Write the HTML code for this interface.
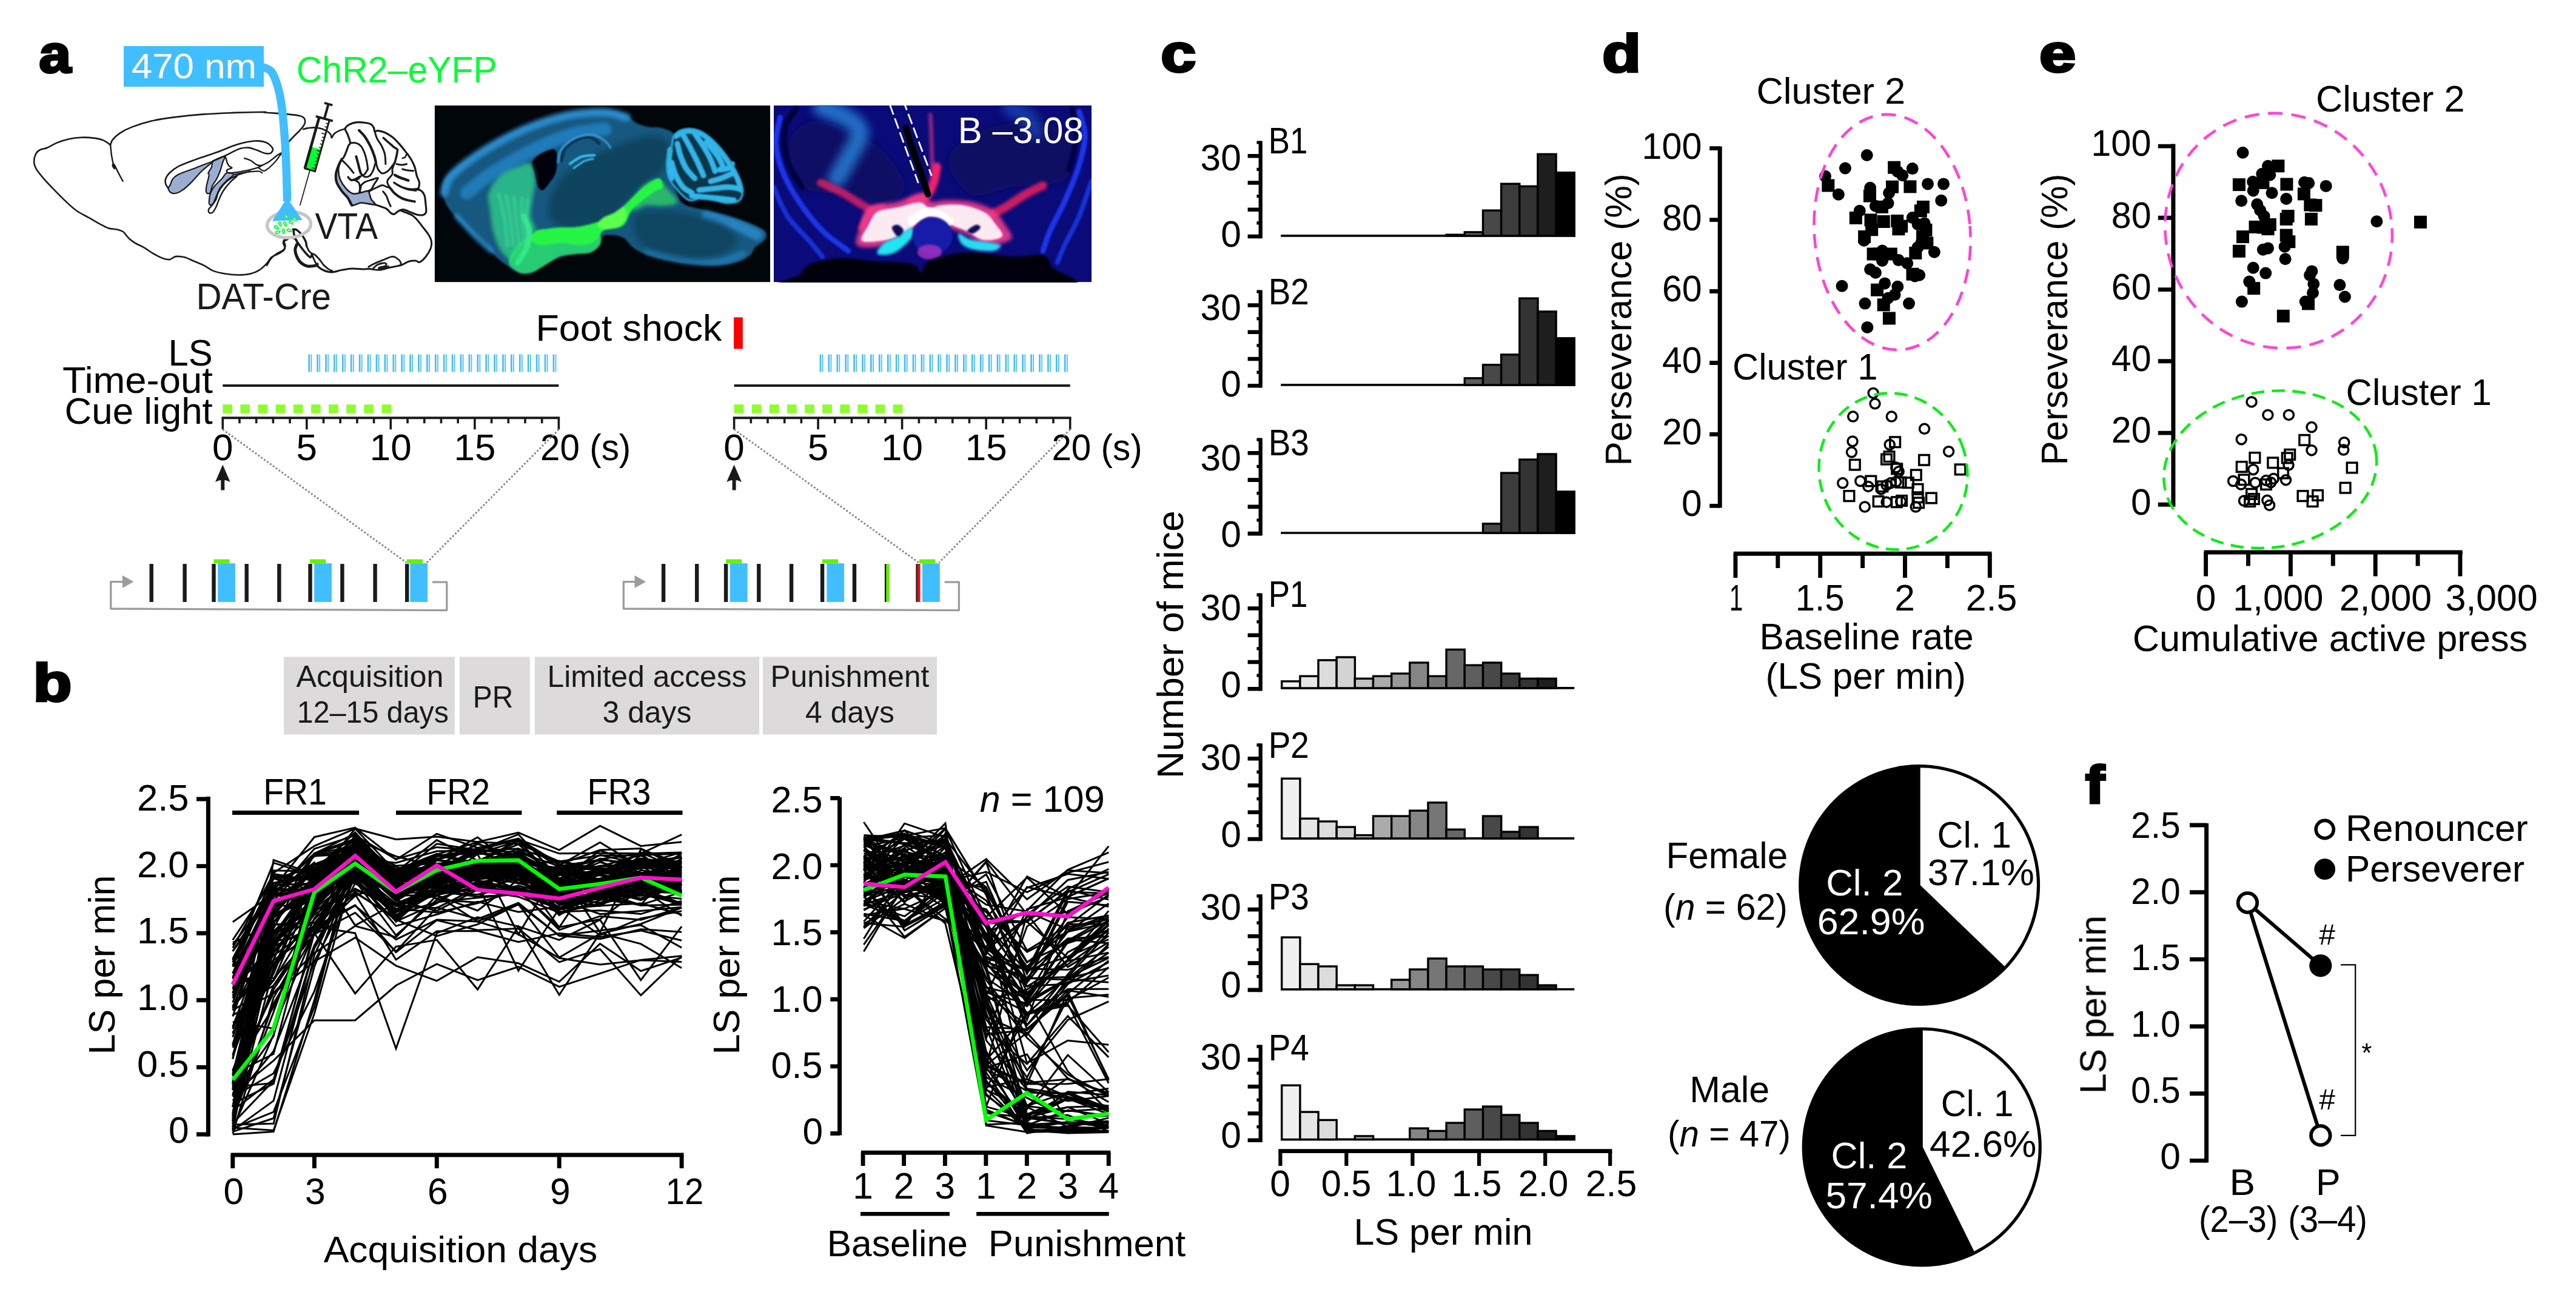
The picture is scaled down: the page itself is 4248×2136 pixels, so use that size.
<!DOCTYPE html>
<html lang="en"><head><meta charset="utf-8"><title>Figure</title>
<style>
html,body{margin:0;padding:0;background:#fff;}
body{width:4248px;height:2136px;overflow:hidden;}
svg{display:block;font-family:"Liberation Sans",sans-serif;fill:#000;}
</style></head><body>
<svg width="4248" height="2136" viewBox="0 0 4248 2136">
<g id="pa">
<text x="64.6" y="118.5" font-size="87" font-weight="bold" textLength="52.6" lengthAdjust="spacingAndGlyphs" stroke="#000" stroke-width="4" stroke-linejoin="miter">a</text>
<path d="M182.1 239.1C180.2 237.8 175.3 233.5 170.9 231.6C166.6 229.8 162.3 228.8 156.1 227.9C149.9 227.1 140.9 226.5 133.9 226.7C126.9 226.9 120.7 227.7 114.1 229.2C107.5 230.6 100.5 232.9 94.4 235.4C88.2 237.8 81.6 242.1 77.1 244C72.5 245.9 70.1 245 67.2 246.5C64.3 247.9 61.6 249.4 59.8 252.6C57.9 255.9 56.1 261.9 56.1 266.2C56.1 270.6 57.1 273.9 59.8 278.6C62.4 283.3 67.2 288.9 72.1 294.6C77.1 300.4 83.2 306.8 89.4 313.2C95.6 319.6 103 327.2 109.2 332.9C115.4 338.7 120.3 343.4 126.5 347.8C132.6 352.1 140.1 355.4 146.2 358.9C152.4 362.4 158.2 365.9 163.5 368.8C168.9 371.6 173.4 374.5 178.4 376.2C183.3 377.8 189.1 377.6 193.2 378.6C197.3 379.7 199.8 379.9 203.1 382.3C206.3 384.8 209.6 390.4 212.9 393.5C216.2 396.6 218.7 398.4 222.8 400.9C226.9 403.3 232.7 405.4 237.6 408.3C242.6 411.2 247.5 415.3 252.5 418.2C257.4 421.1 262.8 423.9 267.3 425.6C271.8 427.2 275.9 428.5 279.6 428.1C283.3 427.6 285.4 423.7 289.5 423.1C293.6 422.5 299.4 423.1 304.3 424.3C309.3 425.6 313.8 428.3 319.2 430.5C324.5 432.8 331.1 435.3 336.5 437.9C341.8 440.6 345.5 444.3 351.3 446.6C357.1 448.8 364.1 450.4 371.1 451.5C378.1 452.7 386.3 453.5 393.3 453.5C400.3 453.5 407.3 452.9 413.1 451.5C418.8 450.2 423.3 448.2 427.9 445.3C432.4 442.5 436.9 437.7 440.2 434.2C443.5 430.7 444.3 427 447.6 424.3C450.9 421.7 456.5 420.2 460 418.2C463.5 416.1 466.9 414.3 468.6 412C470.4 409.7 470.4 406.8 470.4 404.6C470.4 402.3 467.9 400.1 468.6 398.4C469.4 396.8 473.8 395.3 474.8 394.7" fill="none" stroke="#1A1A1A" stroke-width="2.6" stroke-linecap="round" stroke-linejoin="round" />
<path d="M440 437.9C441.1 436.1 444.1 429.9 446.8 426.7C449.4 423.5 452.6 421.1 455.8 418.8C459 416.6 463.5 414.9 465.9 413.2C468.2 411.5 469.6 410.7 469.8 408.7C470 406.6 467.1 403 467 400.8C466.9 398.5 467.6 396.6 469.3 395.2C471 393.8 474.5 392.6 477.1 392.3C479.8 392.1 483 392.8 485 393.5C487.1 394.1 488.8 395.8 489.5 396.3" fill="none" stroke="#1A1A1A" stroke-width="2.6" stroke-linecap="round" stroke-linejoin="round" />
<path d="M182.1 239.1C182.7 237.6 183.1 233.7 185.8 230.4C188.4 227.1 192.8 222.8 198.1 219.3C203.5 215.8 209.2 212.7 217.9 209.4C226.5 206.1 238.5 202.2 250 199.5C261.5 196.9 272.6 195.2 287.1 193.4C301.5 191.5 320 189.6 336.5 188.4C352.9 187.2 369.4 186.6 385.9 185.9C402.3 185.3 426.8 184.8 435.3 184.7C443.8 184.6 430.6 184.8 437.1 185.5C443.5 186.1 464.7 187.5 474.1 188.4C483.6 189.3 489.4 189.9 493.9 190.9C498.4 191.9 499.8 192.7 501.3 194.6C502.8 196.4 503.2 199.7 503 202C502.8 204.3 501.6 205.9 500.1 208.2C498.6 210.4 496.6 212.7 493.9 215.6C491.2 218.5 487.3 222 484 225.5C480.7 229 477.6 231.7 474.1 236.6C470.6 241.5 464.9 252 463 255.1" fill="none" stroke="#1A1A1A" stroke-width="2.6" stroke-linecap="round" stroke-linejoin="round" />
<path d="M182.1 239.1C182.4 241.9 183.3 251.4 184 256.4C184.7 261.3 186 265.8 186.3 268.7C186.5 271.6 185.3 272.1 185.8 273.6C186.2 275.2 188.6 278.5 189 278.1C189.4 277.7 187.3 270.3 188.2 271.2C189.1 272.1 192 278.9 194.4 283.5C196.8 288.1 201.2 296.3 202.6 298.8" fill="none" stroke="#1A1A1A" stroke-width="2.4" stroke-linecap="round" stroke-linejoin="round" />
<path d="M348.9 267.2C347.3 266.3 331.6 273.6 322.5 277C313.5 280.3 301 284.4 294.7 287.4C288.5 290.4 287.3 292.1 285 295C282.7 297.9 282.1 302.1 280.8 304.8C279.6 307.4 277.1 308.8 277.4 311C277.6 313.2 280 316.7 282.2 318C284.4 319.2 287.3 319.5 290.6 318.7C293.8 317.9 297.5 316.1 301.7 313.1C305.9 310.1 310.5 305.7 315.6 300.6C320.7 295.5 326.7 288.1 332.3 282.5C337.8 277 350.6 268.2 348.9 267.2Z" fill="#9BAED1" stroke="#1A1A1A" stroke-width="2.2" stroke-linecap="round" stroke-linejoin="round" />
<path d="M351.7 265.9C355.2 263 367.2 257.8 369.8 258.2C372.3 258.7 368.2 264.6 367 268.6C365.8 272.7 364.5 278.1 362.8 282.5C361.2 286.9 359.4 291.1 357.3 295C355.2 299 352.1 302.5 350.3 306.2C348.6 309.9 348 315.1 346.9 317.3C345.7 319.5 344.5 319.6 343.4 319.4C342.2 319.1 340.4 318.1 339.9 315.9C339.4 313.7 340 309.6 340.6 306.2C341.2 302.7 342.7 298.1 343.4 295C344.1 292 344.8 289.7 344.8 288.1C344.8 286.5 342.7 287.4 343.4 285.3C344.1 283.2 347.5 278.8 348.9 275.6C350.3 272.3 348.2 268.8 351.7 265.9Z" fill="#9BAED1" stroke="#1A1A1A" stroke-width="2.2" stroke-linecap="round" stroke-linejoin="round" />
<path d="M374 285.3C377.2 284.2 385.1 286 385.1 288.1C385.1 290.2 377.7 294.1 374 297.8C370.2 301.5 365.8 305.7 362.8 310.3C359.8 315 357.7 321.4 355.9 325.6C354 329.8 353.3 333.3 351.7 335.3C350.1 337.4 347.3 338.8 346.2 338.1C345 337.4 344.5 334.6 344.8 331.2C345 327.7 345.9 321.4 347.5 317.3C349.2 313.1 351.5 309.9 354.5 306.2C357.5 302.5 362.4 298.5 365.6 295C368.9 291.6 370.7 286.5 374 285.3Z" fill="#9BAED1" stroke="#1A1A1A" stroke-width="2.2" stroke-linecap="round" stroke-linejoin="round" />
<path d="M277.4 310.3C276.7 309.2 273.9 305.9 273.2 303.4C272.5 300.8 272.2 298.1 273.2 295C274.2 292 275.9 288.8 279.5 285.3C283 281.8 287.6 277.9 294.7 274.2C301.9 270.5 312.1 266.9 322.5 263.1C333 259.3 345.7 255.4 357.3 251.3C368.9 247.1 381.6 241.2 392 238.1C402.4 234.9 411.9 233 419.8 232.5C427.7 232 434.3 233.2 439.3 235.3C444.2 237.4 448.5 242.1 449.7 245C450.8 247.9 448.4 251.4 446.2 252.7C444 253.9 440.2 253.5 436.5 252.7C432.8 251.8 428.4 249.3 424 247.8C419.6 246.3 414.7 244.1 410.1 243.6C405.5 243.2 400.8 243.7 396.2 245C391.6 246.3 386.7 249.2 382.3 251.3C377.9 253.4 375.1 255.1 369.8 257.5C364.5 260 353.6 264.5 350.3 265.9" fill="none" stroke="#1A1A1A" stroke-width="2.6" stroke-linecap="round" stroke-linejoin="round" />
<path d="M371.2 257.5C371.5 258.4 372.7 261.2 373.3 263.1C373.8 264.9 373.8 266.8 374.6 268.6C375.5 270.5 376.8 272.8 378.1 274.2C379.4 275.6 382.8 276 382.3 277C381.8 277.9 376.7 278.7 375.3 279.8C374 280.8 373.5 282.3 374 283.2C374.4 284.2 375.1 285.2 378.1 285.3C381.1 285.4 386.2 284.9 392 283.9C397.8 283 407.3 281 412.9 279.8C418.4 278.5 422.1 277.4 425.4 276.3C428.6 275.1 429.1 274.5 432.3 272.8C435.6 271.1 440.7 268.6 444.8 265.9C449 263.1 454.2 258.3 457.3 256.1C460.5 253.9 462.5 253.2 463.6 252.7" fill="none" stroke="#1A1A1A" stroke-width="2.4" stroke-linecap="round" stroke-linejoin="round" />
<path d="M403.1 261C404.8 261.6 409.4 262.6 412.9 264.5C416.3 266.3 420.7 270.7 424 272.1C427.2 273.5 430.9 272.7 432.3 272.8" fill="none" stroke="#1A1A1A" stroke-width="2.4" stroke-linecap="round" stroke-linejoin="round" />
<path d="M385.1 288.1C387.4 287.6 394.3 286.1 399 285.3C403.6 284.5 408.2 283.7 412.9 283.2C417.5 282.8 423.5 282.2 426.8 282.5C430 282.9 431.4 284.9 432.3 285.3" fill="none" stroke="#1A1A1A" stroke-width="2.2" stroke-linecap="round" stroke-linejoin="round" />
<path d="M426.8 277C428.1 277.8 432.3 281.8 435.1 281.8C437.9 281.8 440.2 279.6 443.4 277C446.7 274.3 451.2 269.8 454.6 265.9C457.9 261.9 462.1 255.4 463.6 253.4" fill="none" stroke="#1A1A1A" stroke-width="2.2" stroke-linecap="round" stroke-linejoin="round" />
<path d="M412.9 282.5C409.6 283.5 399 286 393.4 288.1C387.8 290.2 383.7 292.3 379.5 295C375.3 297.8 371.6 301.1 368.4 304.8C365.2 308.5 362.1 313.1 360.1 317.3C358 321.4 357.7 326.1 355.9 329.8C354 333.5 350.9 337 348.9 339.5C347 342.1 344.8 343.2 344.1 345.1C343.4 346.9 343.7 349.7 344.8 350.6C345.8 351.6 348.5 352 350.3 350.6C352.2 349.2 354 346 355.9 342.3C357.7 338.6 359.4 333 361.4 328.4C363.5 323.8 365.4 319.1 368.4 314.5C371.4 309.9 375.8 304.5 379.5 300.6C383.2 296.7 388.8 292.5 390.6 290.9" fill="none" stroke="#1A1A1A" stroke-width="2.4" stroke-linecap="round" stroke-linejoin="round" />
<path d="M500.1 213.1C501.5 212.8 504.8 211.6 508.7 211.1C512.6 210.7 518.6 209.9 523.5 210.7C528.5 211.4 534.8 213.7 538.4 215.6C542 217.4 543.9 219.8 545.3 221.8C546.7 223.7 546 227.4 547 227.2C548 227 549.2 222.5 551.2 220.5C553.3 218.6 556.4 216.9 559.4 215.6C562.4 214.3 567.6 213.1 569.3 212.6" fill="none" stroke="#1A1A1A" stroke-width="2.6" stroke-linecap="round" stroke-linejoin="round" />
<path d="M563.6 262.3C564.1 261.9 565.2 262 566.4 260.2C567.6 258.3 569.2 254.5 570.6 251.2C572 247.8 573.6 242.7 574.7 240C575.9 237.4 577.8 238.2 577.5 235.2C577.3 232.2 574.7 225.8 573.4 222C572 218.1 568.7 215 569.2 212.2C569.7 209.5 573.1 207 576.1 205.3C579.1 203.6 582.9 202.3 587.3 201.8C591.7 201.4 598.4 201.9 602.5 202.5C606.7 203.1 610 203.9 612.3 205.3C614.6 206.7 615.5 209 616.4 210.8C617.4 212.7 616.7 215.6 617.8 216.4C619 217.2 620.6 215.4 623.4 215.7C626.2 216.1 630.6 216.8 634.5 218.5C638.4 220.2 642.8 222.8 647 226.1C651.2 229.5 655.6 234.2 659.5 238.6C663.5 243 667.6 248.6 670.6 252.5C673.7 256.5 675.5 258.8 677.6 262.3C679.7 265.7 681.9 270.4 683.2 273.4C684.4 276.4 684.5 277.6 685.2 280.3C685.9 283.1 686.3 286.6 687.3 290.1C688.4 293.5 691 297.7 691.5 301.2C692 304.7 690.3 309.3 690.1 310.9" fill="none" stroke="#1A1A1A" stroke-width="3.2" stroke-linecap="round" stroke-linejoin="round" />
<path d="M679 312.3C681.3 312.5 689.4 312.1 692.9 313.7C696.4 315.3 698.3 318.3 699.8 322C701.3 325.7 701.5 331.3 701.9 335.9C702.4 340.6 703.4 346.7 702.6 349.8C701.8 353 699.6 354 697.1 354.7C694.5 355.4 690.8 354.8 687.3 354C683.8 353.2 679.9 351.2 676.2 349.8C672.5 348.4 668.3 345.9 665.1 345.7C661.8 345.4 659.3 347.2 656.7 348.4C654.2 349.7 651.9 352.8 649.8 353.3C647.7 353.8 646.3 352.7 644.2 351.2C642.2 349.7 640.3 346.1 637.3 344.3C634.3 342.4 629.4 341.3 626.2 340.1C622.9 338.9 619.2 337.8 617.8 337.3" fill="none" stroke="#1A1A1A" stroke-width="3.2" stroke-linecap="round" stroke-linejoin="round" />
<path d="M560.8 267.8C560.8 269 558.1 275.7 558.1 280.3C558.1 285 558.8 290.5 560.8 295.6C562.9 300.7 567.1 307 570.6 310.9C574.1 314.9 577.8 318.1 581.7 319.3C585.6 320.4 590 318.6 594.2 317.9C598.4 317.2 604.2 314.6 606.7 315.1C609.3 315.6 608.6 318.3 609.5 320.6C610.4 323 610.9 326.2 612.3 329C613.7 331.8 620.6 336.4 617.8 337.3C615.1 338.3 601.8 334.3 595.6 334.5C589.3 334.8 584 340.1 580.3 338.7C576.6 337.3 576.1 330.1 573.4 326.2C570.6 322.3 566.6 319.3 563.6 315.1C560.6 310.9 556.9 305.8 555.3 301.2C553.7 296.6 553.4 291.9 553.9 287.3C554.4 282.7 556.9 276.6 558.1 273.4C559.2 270.1 560.8 266.7 560.8 267.8Z" fill="#9BAED1" stroke="#1A1A1A" stroke-width="2.6" stroke-linecap="round" stroke-linejoin="round" />
<path d="M563.6 262.3C562.7 264.1 559.7 269.2 558.1 273.4C556.4 277.6 554.4 282.7 553.9 287.3C553.4 291.9 553.7 296.6 555.3 301.2C556.9 305.8 560.6 310.9 563.6 315.1C566.6 319.3 570.6 322.3 573.4 326.2C576.1 330.1 579.1 336.6 580.3 338.7" fill="none" stroke="#1A1A1A" stroke-width="4" stroke-linecap="round" stroke-linejoin="round" />
<path d="M592.1 215C593.6 216.6 598 220.3 601.2 224.7C604.3 229.1 608.2 236.1 610.9 241.4C613.5 246.8 615.6 252.3 617.1 256.7C618.6 261.1 619.5 266 619.9 267.8" fill="none" stroke="#1A1A1A" stroke-width="4.2" stroke-linecap="round" stroke-linejoin="round" />
<path d="M632.4 227.5C633.7 228.7 637.2 231.9 640.1 234.5C643 237 647.3 240.7 649.8 242.8C652.3 244.9 654.8 244.2 655.4 247C655.9 249.8 654 256 653.3 259.5C652.6 263 651.5 266.4 651.2 267.8" fill="none" stroke="#1A1A1A" stroke-width="3.6" stroke-linecap="round" stroke-linejoin="round" />
<path d="M587.3 258.1C587.7 259.7 589.1 264.4 590 267.8C591 271.3 592 275.9 592.8 279C593.6 282 594.6 284.7 594.9 285.9" fill="none" stroke="#1A1A1A" stroke-width="4" stroke-linecap="round" stroke-linejoin="round" />
<path d="M565 265.1C566.4 266.4 570.8 270.6 573.4 273.4C575.9 276.2 578.7 279.8 580.3 281.7C581.9 283.7 582.6 284.6 583.1 285.2" fill="none" stroke="#1A1A1A" stroke-width="3" stroke-linecap="round" stroke-linejoin="round" />
<path d="M574.1 292.2C574.9 293 576.9 296.4 578.9 297C580.9 297.6 583.5 296.6 585.9 295.6C588.2 294.7 591.7 292.2 592.8 291.5" fill="none" stroke="#1A1A1A" stroke-width="3.6" stroke-linecap="round" stroke-linejoin="round" />
<path d="M651.2 288.7C652.6 289.4 656.5 291.6 659.5 292.8C662.5 294.1 666.9 295.5 669.3 296.3C671.6 297.1 672.7 297.5 673.4 297.7" fill="none" stroke="#1A1A1A" stroke-width="4.4" stroke-linecap="round" stroke-linejoin="round" />
<path d="M649.8 301.2C651.2 302.1 654.4 304.9 658.1 306.7C661.8 308.6 667.4 311 672 312.3C676.7 313.6 683.6 314 685.9 314.4" fill="none" stroke="#1A1A1A" stroke-width="3" stroke-linecap="round" stroke-linejoin="round" />
<path d="M631.7 315.8C632.7 317.1 635.7 320.3 637.3 323.4C638.9 326.6 640.3 331.8 641.5 334.5C642.6 337.3 643.8 339.2 644.2 340.1" fill="none" stroke="#1A1A1A" stroke-width="3" stroke-linecap="round" stroke-linejoin="round" />
<path d="M642.8 309.5C644.2 311.1 647.9 316.4 651.2 319.3C654.4 322.2 658.6 325 662.3 326.9C666 328.8 669.8 329.4 673.4 330.4C677 331.3 682.1 332.1 683.8 332.5" fill="none" stroke="#1A1A1A" stroke-width="4" stroke-linecap="round" stroke-linejoin="round" />
<path d="M663.7 279C665.1 279.3 669 280.6 672 281C675 281.5 680.1 281.6 681.8 281.7" fill="none" stroke="#1A1A1A" stroke-width="3" stroke-linecap="round" stroke-linejoin="round" />
<path d="M654 270.6C655.4 270.8 659.5 272 662.3 272C665.1 272 669.3 270.8 670.6 270.6" fill="none" stroke="#1A1A1A" stroke-width="3" stroke-linecap="round" stroke-linejoin="round" />
<path d="M663.7 260.9C664.4 260.7 666.8 260.4 667.9 259.5C668.9 258.6 669.6 256 670 255.3" fill="none" stroke="#1A1A1A" stroke-width="2.6" stroke-linecap="round" stroke-linejoin="round" />
<path d="M577.5 235.9C579.1 235.9 584.2 234.9 587.3 235.9C590.3 236.8 593.3 238.6 595.6 241.4C597.9 244.2 599.6 248.6 601.2 252.5C602.7 256.5 603.7 260.7 604.6 265.1C605.6 269.5 606.4 276.6 606.7 279" fill="none" stroke="#1A1A1A" stroke-width="3" stroke-linecap="round" stroke-linejoin="round" />
<path d="M606.7 279C605.8 280.3 603 285.4 601.2 287.3C599.3 289.1 597.4 288.7 595.6 290.1C593.7 291.5 591.9 294.5 590 295.6C588.2 296.8 585.4 296.8 584.5 297" fill="none" stroke="#1A1A1A" stroke-width="3" stroke-linecap="round" stroke-linejoin="round" />
<path d="M592.8 317.2C592.9 315.9 593.7 312.2 593.5 309.5C593.3 306.9 592.9 303.3 591.4 301.2C589.9 299.1 585.6 297.7 584.5 297" fill="none" stroke="#1A1A1A" stroke-width="3" stroke-linecap="round" stroke-linejoin="round" />
<path d="M594.9 285.9C595.9 286.8 598.7 290.8 601.2 291.5C603.6 292.2 607.2 291.7 609.5 290.1C611.8 288.4 613.5 285 615.1 281.7C616.6 278.5 617.9 272.5 618.5 270.6" fill="none" stroke="#1A1A1A" stroke-width="3" stroke-linecap="round" stroke-linejoin="round" />
<path d="M619.9 267.8C620.5 269.7 621.7 275.9 623.4 279C625.1 282 627.6 285.4 630.3 285.9C633.1 286.4 637.3 283.8 640.1 281.7C642.8 279.6 645.2 275.7 647 273.4C648.9 271.1 650.5 268.8 651.2 267.8" fill="none" stroke="#1A1A1A" stroke-width="3" stroke-linecap="round" stroke-linejoin="round" />
<path d="M617.8 216.4C618.5 218.5 620.1 225 622 228.9C623.9 232.9 626.9 235.9 629 240C631 244.2 633.4 248.8 634.5 253.9C635.7 259 635.7 267.8 635.9 270.6" fill="none" stroke="#1A1A1A" stroke-width="3" stroke-linecap="round" stroke-linejoin="round" />
<path d="M595.6 305.4C596.8 304.4 599.5 301.3 602.5 299.8C605.6 298.3 610.2 297.4 613.7 296.3C617.1 295.3 622.7 292.5 623.4 293.5C624.1 294.6 619.7 299.5 617.8 302.6C616 305.7 614.1 310.2 612.3 312.3C610.4 314.4 607.6 314.6 606.7 315.1" fill="none" stroke="#1A1A1A" stroke-width="3" stroke-linecap="round" stroke-linejoin="round" />
<path d="M595.6 305.4C595.4 306.5 594.6 310.3 594.2 312.3C593.9 314.3 593.6 316.4 593.5 317.2" fill="none" stroke="#1A1A1A" stroke-width="3" stroke-linecap="round" stroke-linejoin="round" />
<path d="M651.2 267.8C650.5 269.7 647.7 275.7 647 279C646.3 282.2 648.2 284.5 647 287.3C645.9 290.1 641.5 293.3 640.1 295.6C638.7 297.9 638.2 298.9 638.7 301.2C639.1 303.5 642.2 308.1 642.8 309.5" fill="none" stroke="#1A1A1A" stroke-width="3" stroke-linecap="round" stroke-linejoin="round" />
<path d="M609.5 315.1C611.3 314.2 617.1 311.1 620.6 309.5C624.1 307.9 627.6 305.6 630.3 305.4C633.1 305.1 635.2 307.4 637.3 308.1C639.4 308.8 641.9 309.3 642.8 309.5" fill="none" stroke="#1A1A1A" stroke-width="3" stroke-linecap="round" stroke-linejoin="round" />
<path d="M690.1 310.9C688.3 311.1 683.2 312.5 679 312.3C674.8 312.1 670 311.4 665.1 309.5C660.2 307.7 652.3 302.6 649.8 301.2" fill="none" stroke="#1A1A1A" stroke-width="3" stroke-linecap="round" stroke-linejoin="round" />
<path d="M483.3 378.3C484.4 378.5 487 377.7 489.5 379.4C492.1 381.1 496.1 385.2 498.5 388.4C501 391.6 503 395.6 504.2 398.5C505.3 401.4 505.3 404.6 505.5 405.9" fill="none" stroke="#1A1A1A" stroke-width="3.4" stroke-linecap="round" stroke-linejoin="round" />
<path d="M484.1 378.8C484.3 380.2 484.3 384.4 485 387.3C485.7 390.2 486.5 392.9 488.4 396.3C490.3 399.7 493.5 403.8 496.3 407.5C499.1 411.3 502.7 416 505.3 418.8C507.9 421.6 510.5 424.4 512 424.4C513.6 424.4 514.1 419.7 514.5 418.8" fill="none" stroke="#1A1A1A" stroke-width="3.6" stroke-linecap="round" stroke-linejoin="round" />
<path d="M489.5 403C489.1 404.5 486.7 408.7 486.7 412C486.7 415.4 487.9 419.7 489.5 423.3C491.1 426.9 493.3 430.8 496.3 433.4C499.3 436.1 503.4 438.3 507.5 439.1C511.7 439.8 518.5 438.5 521.1 437.9C523.6 437.4 522.7 436.1 523.1 435.7" fill="none" stroke="#1A1A1A" stroke-width="5" stroke-linecap="round" stroke-linejoin="round" />
<path d="M505.5 405.9C506.2 407.3 508.3 412.2 509.8 414.3C511.3 416.4 512.8 417.3 514.3 418.2C515.8 419.2 516.7 418.3 518.8 419.9C520.9 421.5 524.2 425 526.7 427.8C529.1 430.6 531 434.2 533.4 436.8C535.9 439.4 538.9 441.9 541.3 443.6C543.8 445.3 546.9 446.4 548.1 446.9" fill="none" stroke="#1A1A1A" stroke-width="2.8" stroke-linecap="round" stroke-linejoin="round" />
<path d="M514.5 418.8C515 420.3 516.2 424.6 517.7 427.8C519.1 431 521.2 435.3 523.3 437.9C525.4 440.6 527.1 441.9 530.1 443.6C533.1 445.3 538.3 447.2 541.3 448.1C544.3 448.9 546.9 448.5 548.1 448.6" fill="none" stroke="#1A1A1A" stroke-width="2.8" stroke-linecap="round" stroke-linejoin="round" />
<path d="M523.3 439.1C525 440.2 529.5 444.2 533.4 445.8C537.4 447.5 541.9 449.1 546.9 449C552 448.9 558.2 446.3 563.8 445.3C569.5 444.3 575.1 443.2 580.7 443C586.3 442.8 592.9 444 597.6 444.1C602.3 444.2 604.2 443.4 608.9 443.6C613.6 443.8 620.1 445.6 625.7 445.3C631.4 444.9 637.9 442.3 642.6 441.3C647.3 440.3 650.5 439.8 653.9 439.1C657.3 438.3 659.5 438.1 662.9 436.8C666.3 435.5 670.4 432.3 674.2 431.2C677.9 430.1 682.4 429.9 685.4 430.1C688.4 430.2 689.4 433.4 692.2 432.3C695 431.2 699.3 427.1 702.3 423.3C705.3 419.6 708.6 413.9 710.2 409.8C711.7 405.7 712.1 402.3 711.5 398.5C711 394.8 709.3 391.4 706.8 387.3C704.3 383.2 699.9 377.9 696.7 373.8C693.5 369.6 690.7 365.7 687.7 362.5C684.7 359.3 682.4 356.9 678.7 354.6C674.9 352.4 668.3 350.3 665.1 349C662 347.7 660.5 347.1 659.5 346.8" fill="none" stroke="#1A1A1A" stroke-width="3" stroke-linecap="round" stroke-linejoin="round" />
<path d="M607.7 440.2C609 439.4 611.7 437.6 615.6 435.7C619.6 433.8 626.3 431 631.4 428.9C636.4 426.9 642.3 423.9 646 423.3C649.8 422.7 651.5 424.1 653.9 425.6C656.3 427.1 659.5 430.4 660.6 432.3C661.8 434.2 660.6 436.1 660.6 436.8" fill="none" stroke="#1A1A1A" stroke-width="2.8" stroke-linecap="round" stroke-linejoin="round" />
<path d="M615.6 442.4C616.7 441.5 619.7 438.2 622.4 436.8C625 435.4 628.9 434.3 631.4 434C633.8 433.7 636.4 434.3 637 435.1C637.6 436 636.4 438.1 634.8 439.1C633.1 440 628.6 440.2 626.9 440.8C625.2 441.3 623.9 442.3 624.6 442.4C625.4 442.6 628.8 442.4 631.4 441.9C634 441.3 638.9 439.5 640.4 439.1" fill="none" stroke="#1A1A1A" stroke-width="2.8" stroke-linecap="round" stroke-linejoin="round" />
<ellipse cx="476.5" cy="370.5" rx="36" ry="21.5" fill="none" stroke="#C6C6C6" stroke-width="5.4" transform="rotate(-3 476.5 370.5)"/>
<rect x="204" y="76" width="231" height="67" fill="#41BEFF"/>
<path d="M430 110.6C430.8 110.7 431.8 109.7 434.9 111.2C438 112.7 444.4 113.4 448.5 119.5C452.6 125.6 456.6 137.7 459.4 148C462.2 158.3 463.6 167.6 465.3 181.3C467 195 468.5 213.1 469.7 230.3C470.9 247.5 471.8 267.7 472.4 284.6C473 301.6 473.4 324.1 473.6 332" fill="none" stroke="#41BEFF" stroke-width="13.5"/>
<path d="M473.5 326L498.5 363L449 364.5Z" fill="#41BEFF"/>
<text x="216.8" y="129.2" font-size="58" textLength="206.3" lengthAdjust="spacingAndGlyphs" fill="#fff">470 nm</text>
<path d="M-3.6 0C-3.6 -2.6 1 -2.6 4.2 0.4C1 2.8 -3.6 2.6 -3.6 0Z" fill="#C8FFD0" stroke="#00FF33" stroke-width="1.7" transform="translate(472.6 357.4) rotate(35)"/>
<path d="M-3.6 0C-3.6 -2.6 1 -2.6 4.2 0.4C1 2.8 -3.6 2.6 -3.6 0Z" fill="#C8FFD0" stroke="#00FF33" stroke-width="1.7" transform="translate(486.2 361.4) rotate(20)"/>
<path d="M-3.6 0C-3.6 -2.6 1 -2.6 4.2 0.4C1 2.8 -3.6 2.6 -3.6 0Z" fill="#C8FFD0" stroke="#00FF33" stroke-width="1.7" transform="translate(480 367) rotate(30)"/>
<path d="M-3.6 0C-3.6 -2.6 1 -2.6 4.2 0.4C1 2.8 -3.6 2.6 -3.6 0Z" fill="#C8FFD0" stroke="#00FF33" stroke-width="1.7" transform="translate(462 369.3) rotate(60)"/>
<path d="M-3.6 0C-3.6 -2.6 1 -2.6 4.2 0.4C1 2.8 -3.6 2.6 -3.6 0Z" fill="#C8FFD0" stroke="#00FF33" stroke-width="1.7" transform="translate(470.4 369.3) rotate(60)"/>
<path d="M-3.6 0C-3.6 -2.6 1 -2.6 4.2 0.4C1 2.8 -3.6 2.6 -3.6 0Z" fill="#C8FFD0" stroke="#00FF33" stroke-width="1.7" transform="translate(455.8 374.9) rotate(30)"/>
<path d="M-3.6 0C-3.6 -2.6 1 -2.6 4.2 0.4C1 2.8 -3.6 2.6 -3.6 0Z" fill="#C8FFD0" stroke="#00FF33" stroke-width="1.7" transform="translate(477.1 380) rotate(20)"/>
<path d="M-3.6 0C-3.6 -2.6 1 -2.6 4.2 0.4C1 2.8 -3.6 2.6 -3.6 0Z" fill="#C8FFD0" stroke="#00FF33" stroke-width="1.7" transform="translate(467.6 381.1) rotate(80)"/>
<path d="M-3.6 0C-3.6 -2.6 1 -2.6 4.2 0.4C1 2.8 -3.6 2.6 -3.6 0Z" fill="#C8FFD0" stroke="#00FF33" stroke-width="1.7" transform="translate(458 382.8) rotate(-20)"/>
<g transform="translate(541.6 171.7) rotate(15.68)" stroke="#1A1A1A" fill="none">
<path d="M-7 0H7" stroke-width="3.6"/>
<path d="M0 0V25" stroke-width="4"/>
<rect x="-8" y="75.4" width="16.5" height="37" fill="#00FF33" stroke="none"/>
<path d="M-8.3 25V112.7H8.7V25" stroke-width="3"/>
<path d="M-8.8 25V112.7" stroke-width="4.4"/>
<path d="M-14.5 25H14.5" stroke-width="3.8"/>
<path d="M7.5 31.5h-3.2M7.5 37.4h-3.2M7.5 43.3h-3.2M7.5 49.2h-5.5M7.5 55.1h-3.2M7.5 61h-3.2M7.5 66.9h-3.2M7.5 72.8h-3.2M7.5 78.7h-5.5M7.5 84.6h-3.2M7.5 90.5h-3.2M7.5 96.4h-3.2M7.5 102.3h-3.2M7.5 108.2h-5.5" stroke-width="1.6"/>
<path d="M0 112.7V173.6" stroke-width="1.7"/>
</g>
<text x="488.7" y="135.6" font-size="61.5" textLength="331.3" lengthAdjust="spacingAndGlyphs" fill="#00FF33">ChR2–eYFP</text>
<text x="519.4" y="393.9" font-size="62" textLength="103.7" lengthAdjust="spacingAndGlyphs" fill="#1A1A1A">VTA</text>
<text x="323.5" y="510.3" font-size="62" textLength="222.5" lengthAdjust="spacingAndGlyphs" fill="#1A1A1A">DAT-Cre</text>
<text x="350.8" y="603" font-size="62" text-anchor="end" textLength="73.2" lengthAdjust="spacingAndGlyphs">LS</text>
<text x="350.8" y="648" font-size="62" text-anchor="end" textLength="247.8" lengthAdjust="spacingAndGlyphs">Time-out</text>
<text x="350.8" y="699" font-size="62" text-anchor="end" textLength="244.3" lengthAdjust="spacingAndGlyphs">Cue light</text>
<text x="883.5" y="562" font-size="62" textLength="307" lengthAdjust="spacingAndGlyphs">Foot shock</text>
<rect x="1210.1" y="523.4" width="14.8" height="52" fill="#F00"/>
<path d="M509.7 584.4v29.2M523.6 584.4v29.2M537.5 584.4v29.2M551.4 584.4v29.2M565.3 584.4v29.2M579.2 584.4v29.2M593.1 584.4v29.2M607 584.4v29.2M621 584.4v29.2M634.9 584.4v29.2M648.8 584.4v29.2M662.7 584.4v29.2M676.6 584.4v29.2M690.5 584.4v29.2M704.4 584.4v29.2M718.3 584.4v29.2M732.2 584.4v29.2M746.1 584.4v29.2M760 584.4v29.2M773.9 584.4v29.2M787.8 584.4v29.2M801.7 584.4v29.2M815.6 584.4v29.2M829.5 584.4v29.2M843.4 584.4v29.2M857.3 584.4v29.2M871.2 584.4v29.2M885.1 584.4v29.2M899 584.4v29.2M912.9 584.4v29.2" stroke="#41BEFF" stroke-width="2.7" fill="none"/>
<path d="M513.3 584.4v29.2M527.2 584.4v29.2M541.1 584.4v29.2M555 584.4v29.2M568.9 584.4v29.2M582.8 584.4v29.2M596.7 584.4v29.2M610.6 584.4v29.2M624.6 584.4v29.2M638.5 584.4v29.2M652.4 584.4v29.2M666.3 584.4v29.2M680.2 584.4v29.2M694.1 584.4v29.2M708 584.4v29.2M721.9 584.4v29.2M735.8 584.4v29.2M749.7 584.4v29.2M763.6 584.4v29.2M777.5 584.4v29.2M791.4 584.4v29.2M805.3 584.4v29.2M819.2 584.4v29.2M833.1 584.4v29.2M847 584.4v29.2M860.9 584.4v29.2M874.8 584.4v29.2M888.7 584.4v29.2M902.6 584.4v29.2M916.5 584.4v29.2" stroke="#41BEFF" stroke-width="1.7" fill="none"/>
<path d="M367.3 635.9L921.4 635.9" stroke-width="4" fill="none" stroke="#1A1A1A"/>
<rect x="367.3" y="667.2" width="15.7" height="14.4" fill="#8CFF2B"/>
<rect x="396.4" y="667.2" width="15.7" height="14.4" fill="#8CFF2B"/>
<rect x="425.6" y="667.2" width="15.7" height="14.4" fill="#8CFF2B"/>
<rect x="454.7" y="667.2" width="15.7" height="14.4" fill="#8CFF2B"/>
<rect x="483.8" y="667.2" width="15.7" height="14.4" fill="#8CFF2B"/>
<rect x="513" y="667.2" width="15.7" height="14.4" fill="#8CFF2B"/>
<rect x="542.1" y="667.2" width="15.7" height="14.4" fill="#8CFF2B"/>
<rect x="571.2" y="667.2" width="15.7" height="14.4" fill="#8CFF2B"/>
<rect x="600.3" y="667.2" width="15.7" height="14.4" fill="#8CFF2B"/>
<rect x="629.5" y="667.2" width="15.7" height="14.4" fill="#8CFF2B"/>
<path d="M365.5 689.2L923.2 689.2" stroke-width="4" fill="none" stroke="#1A1A1A"/>
<path d="M367.3 689.2v19M395 689.2v9M422.7 689.2v9M450.4 689.2v9M478.1 689.2v9M505.8 689.2v19M533.5 689.2v9M561.2 689.2v9M588.9 689.2v9M616.6 689.2v9M644.3 689.2v19M672.1 689.2v9M699.8 689.2v9M727.5 689.2v9M755.2 689.2v9M782.9 689.2v19M810.6 689.2v9M838.3 689.2v9M866 689.2v9M893.7 689.2v9M921.4 689.2v19" stroke="#1A1A1A" stroke-width="3.6" fill="none"/>
<text x="367.3" y="759.2" font-size="62" text-anchor="middle">0</text>
<text x="505.8" y="759.2" font-size="62" text-anchor="middle">5</text>
<text x="644.3" y="759.2" font-size="62" text-anchor="middle">10</text>
<text x="782.9" y="759.2" font-size="62" text-anchor="middle">15</text>
<text x="891.1" y="759.2" font-size="62" textLength="149.2" lengthAdjust="spacingAndGlyphs">20 (s)</text>
<path d="M367.3 808.5V786" stroke="#1A1A1A" stroke-width="6" fill="none"/>
<path d="M367.3 766.5l12.3 28.5q-12.3 -7 -24.6 0z" fill="#1A1A1A"/>
<path d="M367.3 708.4L670.3 928M921.4 708.4L703.8 928" stroke="#8A8A8A" stroke-width="3" stroke-dasharray="3 3" fill="none"/>
<rect x="246.5" y="930.1" width="6.4" height="62.8" fill="#1A1A1A"/>
<rect x="301.4" y="930.1" width="6.4" height="62.8" fill="#1A1A1A"/>
<rect x="349.3" y="930.1" width="6.4" height="62.8" fill="#1A1A1A"/>
<rect x="403.5" y="930.1" width="6.4" height="62.8" fill="#1A1A1A"/>
<rect x="457.2" y="930.1" width="6.4" height="62.8" fill="#1A1A1A"/>
<rect x="508.3" y="930.1" width="6.4" height="62.8" fill="#1A1A1A"/>
<rect x="561.2" y="930.1" width="6.4" height="62.8" fill="#1A1A1A"/>
<rect x="615.4" y="930.1" width="6.4" height="62.8" fill="#1A1A1A"/>
<rect x="668" y="930.1" width="6.4" height="62.8" fill="#1A1A1A"/>
<rect x="359.2" y="929.2" width="28.8" height="63.7" fill="#41BEFF"/>
<rect x="518.2" y="929.2" width="28.8" height="63.7" fill="#41BEFF"/>
<rect x="676.3" y="929.2" width="28.8" height="63.7" fill="#41BEFF"/>
<rect x="352.5" y="922.5" width="26.2" height="6.8" fill="#66F000"/>
<rect x="511.1" y="922.5" width="26.2" height="6.8" fill="#66F000"/>
<rect x="671" y="922.5" width="26.2" height="6.8" fill="#66F000"/>
<path d="M713 960.2H736.8V1006.6L182.7 1004V959.6H206.4" stroke="#9C9C9C" stroke-width="3.3" fill="none" stroke-linejoin="round"/>
<path d="M220.4 959.6l-18.5 -10.5v21z" fill="#9C9C9C"/>
<path d="M1353 584.4v29.2M1366.9 584.4v29.2M1380.8 584.4v29.2M1394.7 584.4v29.2M1408.6 584.4v29.2M1422.5 584.4v29.2M1436.4 584.4v29.2M1450.3 584.4v29.2M1464.3 584.4v29.2M1478.2 584.4v29.2M1492.1 584.4v29.2M1506 584.4v29.2M1519.9 584.4v29.2M1533.8 584.4v29.2M1547.7 584.4v29.2M1561.6 584.4v29.2M1575.5 584.4v29.2M1589.4 584.4v29.2M1603.3 584.4v29.2M1617.2 584.4v29.2M1631.1 584.4v29.2M1645 584.4v29.2M1658.9 584.4v29.2M1672.8 584.4v29.2M1686.7 584.4v29.2M1700.6 584.4v29.2M1714.5 584.4v29.2M1728.4 584.4v29.2M1742.3 584.4v29.2M1756.2 584.4v29.2" stroke="#41BEFF" stroke-width="2.7" fill="none"/>
<path d="M1356.6 584.4v29.2M1370.5 584.4v29.2M1384.4 584.4v29.2M1398.3 584.4v29.2M1412.2 584.4v29.2M1426.1 584.4v29.2M1440 584.4v29.2M1453.9 584.4v29.2M1467.9 584.4v29.2M1481.8 584.4v29.2M1495.7 584.4v29.2M1509.6 584.4v29.2M1523.5 584.4v29.2M1537.4 584.4v29.2M1551.3 584.4v29.2M1565.2 584.4v29.2M1579.1 584.4v29.2M1593 584.4v29.2M1606.9 584.4v29.2M1620.8 584.4v29.2M1634.7 584.4v29.2M1648.6 584.4v29.2M1662.5 584.4v29.2M1676.4 584.4v29.2M1690.3 584.4v29.2M1704.2 584.4v29.2M1718.1 584.4v29.2M1732 584.4v29.2M1745.9 584.4v29.2M1759.8 584.4v29.2" stroke="#41BEFF" stroke-width="1.7" fill="none"/>
<path d="M1210.6 635.9L1764.7 635.9" stroke-width="4" fill="none" stroke="#1A1A1A"/>
<rect x="1210.6" y="667.2" width="15.7" height="14.4" fill="#8CFF2B"/>
<rect x="1239.7" y="667.2" width="15.7" height="14.4" fill="#8CFF2B"/>
<rect x="1268.9" y="667.2" width="15.7" height="14.4" fill="#8CFF2B"/>
<rect x="1298" y="667.2" width="15.7" height="14.4" fill="#8CFF2B"/>
<rect x="1327.1" y="667.2" width="15.7" height="14.4" fill="#8CFF2B"/>
<rect x="1356.2" y="667.2" width="15.7" height="14.4" fill="#8CFF2B"/>
<rect x="1385.4" y="667.2" width="15.7" height="14.4" fill="#8CFF2B"/>
<rect x="1414.5" y="667.2" width="15.7" height="14.4" fill="#8CFF2B"/>
<rect x="1443.6" y="667.2" width="15.7" height="14.4" fill="#8CFF2B"/>
<rect x="1472.8" y="667.2" width="15.7" height="14.4" fill="#8CFF2B"/>
<path d="M1208.8 689.2L1766.5 689.2" stroke-width="4" fill="none" stroke="#1A1A1A"/>
<path d="M1210.6 689.2v19M1238.3 689.2v9M1266 689.2v9M1293.7 689.2v9M1321.4 689.2v9M1349.1 689.2v19M1376.8 689.2v9M1404.5 689.2v9M1432.2 689.2v9M1459.9 689.2v9M1487.6 689.2v19M1515.4 689.2v9M1543.1 689.2v9M1570.8 689.2v9M1598.5 689.2v9M1626.2 689.2v19M1653.9 689.2v9M1681.6 689.2v9M1709.3 689.2v9M1737 689.2v9M1764.7 689.2v19" stroke="#1A1A1A" stroke-width="3.6" fill="none"/>
<text x="1210.6" y="759.2" font-size="62" text-anchor="middle">0</text>
<text x="1349.1" y="759.2" font-size="62" text-anchor="middle">5</text>
<text x="1487.6" y="759.2" font-size="62" text-anchor="middle">10</text>
<text x="1626.2" y="759.2" font-size="62" text-anchor="middle">15</text>
<text x="1734.4" y="759.2" font-size="62" textLength="149.2" lengthAdjust="spacingAndGlyphs">20 (s)</text>
<path d="M1210.6 808.5V786" stroke="#1A1A1A" stroke-width="6" fill="none"/>
<path d="M1210.6 766.5l12.3 28.5q-12.3 -7 -24.6 0z" fill="#1A1A1A"/>
<path d="M1210.6 708.4L1515 928M1764.7 708.4L1548.5 928" stroke="#8A8A8A" stroke-width="3" stroke-dasharray="3 3" fill="none"/>
<rect x="1090.9" y="930.1" width="6.4" height="62.8" fill="#1A1A1A"/>
<rect x="1146" y="930.1" width="6.4" height="62.8" fill="#1A1A1A"/>
<rect x="1193.9" y="930.1" width="6.4" height="62.8" fill="#1A1A1A"/>
<rect x="1248.1" y="930.1" width="6.4" height="62.8" fill="#1A1A1A"/>
<rect x="1301.9" y="930.1" width="6.4" height="62.8" fill="#1A1A1A"/>
<rect x="1352.9" y="930.1" width="6.4" height="62.8" fill="#1A1A1A"/>
<rect x="1405.8" y="930.1" width="6.4" height="62.8" fill="#1A1A1A"/>
<rect x="1458.9" y="930.1" width="3" height="62.8" fill="#1A1A1A"/>
<rect x="1461.4" y="930.1" width="5.6" height="62.8" fill="#66F000"/>
<rect x="1510.4" y="930.1" width="3" height="62.8" fill="#1A1A1A"/>
<rect x="1512.5" y="930.1" width="5" height="62.8" fill="#F00"/>
<rect x="1203.8" y="929.2" width="28.8" height="63.7" fill="#41BEFF"/>
<rect x="1363.3" y="929.2" width="28.8" height="63.7" fill="#41BEFF"/>
<rect x="1521" y="929.2" width="28.8" height="63.7" fill="#41BEFF"/>
<rect x="1197.1" y="922.5" width="26.2" height="6.8" fill="#66F000"/>
<rect x="1356.1" y="922.5" width="26.2" height="6.8" fill="#66F000"/>
<rect x="1516" y="922.5" width="26.2" height="6.8" fill="#66F000"/>
<path d="M1557.7 960.2H1581.4V1006.6L1028.3 1004V959.6H1051" stroke="#9C9C9C" stroke-width="3.3" fill="none" stroke-linejoin="round"/>
<path d="M1065 959.6l-18.5 -10.5v21z" fill="#9C9C9C"/>
</g>
<g id="pa_img">
<defs><filter id="b1" x="-20%" y="-20%" width="140%" height="140%"><feGaussianBlur stdDeviation="0.6"/></filter><filter id="b2" x="-20%" y="-20%" width="140%" height="140%"><feGaussianBlur stdDeviation="1.1"/></filter><filter id="b3" x="-20%" y="-20%" width="140%" height="140%"><feGaussianBlur stdDeviation="1.7"/></filter><filter id="b4" x="-20%" y="-20%" width="140%" height="140%"><feGaussianBlur stdDeviation="2.2"/></filter><filter id="b5" x="-20%" y="-20%" width="140%" height="140%"><feGaussianBlur stdDeviation="2.8"/></filter><filter id="b6" x="-20%" y="-20%" width="140%" height="140%"><feGaussianBlur stdDeviation="3.4"/></filter><filter id="b8" x="-20%" y="-20%" width="140%" height="140%"><feGaussianBlur stdDeviation="4.6"/></filter><filter id="b12" x="-20%" y="-20%" width="140%" height="140%"><feGaussianBlur stdDeviation="7.5"/></filter><clipPath id="cl1"><rect x="716.7" y="173.9" width="553.5" height="291.5"/></clipPath><clipPath id="cl2"><rect x="1276" y="173.9" width="524" height="291.5"/></clipPath></defs><g clip-path="url(#cl1)">
<rect x="716.7" y="173.9" width="553.5" height="291.5" fill="#01060A"/>
<g filter="url(#b3)">
<path d="M729.2 308.6C729.6 301.9 731.5 297.9 736.3 291.9C741.1 285.9 748.3 279.9 757.9 272.7C767.5 265.5 781 256.8 793.8 248.8C806.6 240.8 820.5 232 834.5 224.8C848.4 217.7 862.4 211.3 877.6 205.7C892.7 200.1 909.5 194.9 925.5 191.3C941.4 187.7 959.4 185.3 973.3 184.2C987.3 183 999.3 183 1009.2 184.2C1019.2 185.3 1026.4 188.1 1033.2 191.3C1040 194.5 1044 200.3 1049.9 203.3C1055.9 206.3 1061.9 207.9 1069.1 209.3C1076.3 210.7 1085.8 209.5 1093 211.7C1100.2 213.9 1109.8 216.3 1112.2 222.5C1114.6 228.6 1108.6 238.4 1107.4 248.8C1106.2 259.2 1103.4 272.7 1105 284.7C1106.6 296.7 1113 311.8 1117 320.6C1121 329.4 1121 333 1128.9 337.4C1136.9 341.8 1152.9 343.7 1164.9 346.9C1176.8 350.1 1188.8 352.9 1200.8 356.5C1212.7 360.1 1226.7 364.5 1236.7 368.5C1246.6 372.5 1256.2 376.5 1260.6 380.5C1265 384.4 1264.2 388.8 1263 392.4C1261.8 396 1256.6 399.2 1253.4 402C1250.2 404.8 1246.6 406 1243.9 409.2C1241.1 412.4 1241.9 417.2 1236.7 421.2C1231.5 425.1 1222.7 430.3 1212.7 433.1C1202.8 435.9 1188.8 437.5 1176.8 437.9C1164.9 438.3 1152.9 436.7 1140.9 435.5C1128.9 434.3 1117 433.1 1105 430.7C1093 428.3 1079.1 424.7 1069.1 421.2C1059.1 417.6 1051.9 414 1045.2 409.2C1038.4 404.4 1034.4 396 1028.4 392.4C1022.4 388.8 1015.2 388 1009.2 387.6C1003.3 387.2 996.1 387.2 992.5 390C988.9 392.8 990.9 400 987.7 404.4C984.5 408.8 979.7 414 973.3 416.4C967 418.8 957.4 417.6 949.4 418.8C941.4 420 931.4 422 925.5 423.5C919.5 425.1 919.1 425.5 913.5 428.3C907.9 431.1 897.9 436.7 891.9 440.3C886 443.9 883.2 448.1 877.6 449.9C872 451.7 864.8 452.7 858.4 451.1C852 449.5 846.1 444.9 839.3 440.3C832.5 435.7 824.1 429.5 817.7 423.5C811.3 417.6 807 410.4 801 404.4C795 398.4 788.2 393.6 781.8 387.6C775.4 381.7 768.7 374.5 762.7 368.5C756.7 362.5 750.7 357.7 745.9 351.7C741.1 345.7 736.7 339.8 733.9 332.6C731.1 325.4 728.8 315.4 729.2 308.6Z" fill="#17587F" />
</g>
<g filter="url(#b6)" opacity="0.9">
<path d="M732.7 318.2C734.1 314.2 734.9 302.7 741.1 294.3C747.3 285.9 757.1 277.5 769.8 267.9C782.6 258.4 799.8 246.8 817.7 236.8C835.7 226.8 857.6 215.9 877.6 208.1C897.5 200.3 917.5 193.9 937.4 190.1C957.4 186.3 981.3 184.8 997.3 185.3C1013.2 185.9 1027.2 192.3 1033.2 193.7" fill="none" stroke="#2E8FD0" stroke-width="14" stroke-linecap="round" />
<path d="M769.8 318.2C775.8 313.4 791.8 299.1 805.8 289.5C819.7 279.9 837.7 269.5 853.6 260.8C869.6 252 885.6 243.6 901.5 236.8C917.5 230 933.4 224.1 949.4 220.1C965.4 216.1 989.3 214.1 997.3 212.9" fill="none" stroke="#2480C0" stroke-width="22" stroke-linecap="round" />
<path d="M753.1 356.5C757.9 361.7 772.2 378.1 781.8 387.6C791.4 397.2 805.8 409.6 810.5 414" fill="none" stroke="#2E8FD0" stroke-width="8" stroke-linecap="round" />
<path d="M1164.9 356.5C1172.8 358.9 1198.8 365.7 1212.7 370.9C1226.7 376.1 1242.7 384.8 1248.6 387.6" fill="none" stroke="#2A88C8" stroke-width="18" stroke-linecap="round" />
<path d="M1069.1 414C1079.1 416.4 1109 425.5 1128.9 428.3C1148.9 431.1 1172.8 432.3 1188.8 430.7C1204.7 429.1 1218.7 420.8 1224.7 418.8" fill="none" stroke="#2078B0" stroke-width="12" stroke-linecap="round" />
</g>
<g filter="url(#b8)" opacity="0.85">
<path d="M913.5 313.4C920.7 299.5 933.4 284.3 949.4 272.7C965.4 261.2 989.3 252 1009.2 244C1029.2 236 1053.5 226 1069.1 224.8C1084.7 223.7 1098.6 227.6 1102.6 236.8C1106.6 246 1100.6 267.9 1093 279.9C1085.5 291.9 1069.1 297.5 1057.1 308.6C1045.2 319.8 1033.2 337 1021.2 346.9C1009.2 356.9 999.3 363.7 985.3 368.5C971.3 373.3 950.6 377.7 937.4 375.7C924.3 373.7 910.3 366.9 906.3 356.5C902.3 346.1 906.3 327.4 913.5 313.4Z" fill="#113F58" />
<path d="M1045.2 356.5C1051.1 347.3 1075.1 346.9 1093 346.9C1111 346.9 1134.9 351.7 1152.9 356.5C1170.8 361.3 1190.8 367.7 1200.8 375.7C1210.7 383.6 1218.7 396 1212.7 404.4C1206.7 412.8 1182.8 423.1 1164.9 425.9C1146.9 428.7 1123 425.1 1105 421.2C1087 417.2 1067.1 412.8 1057.1 402C1047.1 391.2 1039.2 365.7 1045.2 356.5Z" fill="#10435C" />
</g>
<g filter="url(#b2)">
<path d="M877.6 267.9C879.2 262 886 257.2 891.9 253.6C897.9 250 909 245.2 913.5 246.4C918 247.6 918.3 254.4 918.8 260.8C919.2 267.1 918.4 277.9 916.4 284.7C914.3 291.5 909.8 296.7 906.3 301.5C902.8 306.2 898.6 312.2 895.5 313.4C892.4 314.6 889.8 312.6 887.6 308.6C885.4 304.6 884 296.3 882.4 289.5C880.7 282.7 876 273.9 877.6 267.9Z" fill="#020508" />
<path d="M925.5 265.5C926.7 262 927.8 250 932.6 244C937.4 238 947 232.4 954.2 229.6C961.4 226.8 970.1 226 975.7 227.2C981.3 228.4 985.7 235.2 987.7 236.8" fill="none" stroke="#0A3048" stroke-width="5" stroke-linecap="round" />
<path d="M939.8 270.3C943 268.3 952.2 260.8 959 258.4C965.8 256 976.9 256.4 980.5 256" fill="none" stroke="#3CC0F0" stroke-width="4" stroke-linecap="round" />
<path d="M945.8 277.5C948.8 275.5 958.4 268.1 963.8 265.5C969.1 263 975.7 262.6 978.1 262" fill="none" stroke="#3CC0F0" stroke-width="3" stroke-linecap="round" />
<path d="M920.7 267.9C921.5 264.3 920.7 253.2 925.5 246.4C930.2 239.6 940.6 231.2 949.4 227.2C958.2 223.3 970.1 221.7 978.1 222.5C986.1 223.3 992.5 228.4 997.3 232C1002.1 235.6 1005.3 242 1006.8 244" fill="none" stroke="#3A9AD8" stroke-width="3" stroke-linecap="round" />
</g>
<g filter="url(#b6)">
<path d="M805.8 318.2C808.6 308.6 816.9 296.7 824.9 289.5C832.9 282.3 845.3 278.3 853.6 275.1C862 271.9 870.4 266.3 875.2 270.3C880 274.3 882 288.7 882.4 299.1C882.8 309.4 878.8 323 877.6 332.6C876.4 342.2 874.4 348.5 875.2 356.5C876 364.5 884.4 372.5 882.4 380.5C880.4 388.4 869.6 396.4 863.2 404.4C856.8 412.4 850.4 427.1 844.1 428.3C837.7 429.5 830.1 419.6 824.9 411.6C819.7 403.6 815.7 391.2 812.9 380.5C810.1 369.7 809.3 357.3 808.2 346.9C807 336.6 803 327.8 805.8 318.2Z" fill="#34E08E" opacity="0.68"/>
<path d="M1057.1 311C1063.5 302.7 1075.9 296.3 1083.5 296.7C1091 297.1 1097 307.2 1102.6 313.4C1108.2 319.6 1118.6 329.4 1117 333.8C1115.4 338.2 1101.8 339 1093 339.8C1084.3 340.6 1072.3 337.4 1064.3 338.6C1056.3 339.8 1046.3 351.5 1045.2 346.9C1044 342.4 1050.7 319.4 1057.1 311Z" fill="#35E065" opacity="0.7"/>
</g>
<g filter="url(#b3)">
<path d="M822.5 320.6C824.1 327.4 829.7 347.3 832.1 361.3C834.5 375.3 836.1 397.2 836.9 404.4" fill="none" stroke="#46F0A0" stroke-width="7" stroke-linecap="round" opacity="0.3"/>
<path d="M834.5 323C835.7 329.4 839.7 347.7 841.7 361.3C843.7 374.9 845.7 397.2 846.5 404.4" fill="none" stroke="#46F0A0" stroke-width="7" stroke-linecap="round" opacity="0.3"/>
<path d="M847.7 325.4C848.3 331.4 849.8 348.1 851.2 361.3C852.6 374.5 855.2 397.2 856 404.4" fill="none" stroke="#46F0A0" stroke-width="7" stroke-linecap="round" opacity="0.3"/>
<path d="M860.8 327.8C860.8 333.4 860 348.5 860.8 361.3C861.6 374.1 864.8 397.2 865.6 404.4" fill="none" stroke="#46F0A0" stroke-width="7" stroke-linecap="round" opacity="0.3"/>
<path d="M870.4 330.2C870 335.4 867.6 348.9 868 361.3C868.4 373.7 872 397.2 872.8 404.4" fill="none" stroke="#46F0A0" stroke-width="7" stroke-linecap="round" opacity="0.3"/>
<path d="M877.6 390C888.7 389.2 909.5 394 925.5 394.8C941.4 395.6 962.6 395.6 973.3 394.8C984.1 394 987.5 388.4 990.1 390C992.7 391.6 991.7 400 988.9 404.4C986.1 408.8 979.9 414 973.3 416.4C966.8 418.8 957.4 417.8 949.4 418.8C941.4 419.8 931.4 420.8 925.5 422.3C919.5 423.9 918.7 425.3 913.5 428.3C908.3 431.3 900.3 436.9 894.3 440.3C888.3 443.7 883.6 447.1 877.6 448.7C871.6 450.3 864.8 452.1 858.4 449.9C852 447.7 841.7 441.1 839.3 435.5C836.9 429.9 840.9 422.3 844.1 416.4C847.3 410.4 852.8 404 858.4 399.6C864 395.2 866.4 390.8 877.6 390Z" fill="#2BE070" opacity="0.85"/>
<path d="M1087 294.3C1083.1 293.3 1075.3 298.7 1069.1 302.7C1062.9 306.6 1056.3 312.4 1049.9 318.2C1043.6 324 1036.8 332 1030.8 337.4C1024.8 342.8 1019.6 346.5 1014 350.5C1008.4 354.5 1003.3 358.3 997.3 361.3C991.3 364.3 986.1 366.3 978.1 368.5C970.1 370.7 959 373.4 949.4 374.5C939.8 375.6 929.4 374.6 920.7 375.2C911.9 375.8 903.1 377 896.7 378.1C890.3 379.1 886 378.9 882.4 381.7C878.8 384.4 873.6 391 875.2 394.8C876.8 398.6 883.6 403.4 891.9 404.4C900.3 405.4 913.9 400.8 925.5 400.8C937 400.8 951.4 405.4 961.4 404.4C971.3 403.4 979.7 398.8 985.3 394.8C990.9 390.8 989.3 383.6 994.9 380.5C1000.5 377.3 1012.8 377.7 1018.8 375.7C1024.8 373.7 1027.2 372.9 1030.8 368.5C1034.4 364.1 1036 355.3 1040.4 349.3C1044.8 343.3 1051.1 337.8 1057.1 332.6C1063.1 327.4 1070.3 322.2 1076.3 318.2C1082.3 314.2 1091.2 312.6 1093 308.6C1094.8 304.6 1091 295.3 1087 294.3Z" fill="#25F545" />
<path d="M994.9 358.9C999.3 355.7 1006.1 354.5 1011.6 351.7C1017.2 348.9 1024.8 341.4 1028.4 342.2C1032 343 1034.4 351.3 1033.2 356.5C1032 361.7 1027.2 369.7 1021.2 373.3C1015.2 376.9 1003.3 378.5 997.3 378.1C991.3 377.7 985.7 374.1 985.3 370.9C984.9 367.7 990.5 362.1 994.9 358.9Z" fill="#5CFF4A" />
<path d="M863.2 356.5C864.8 360.5 872 371.7 872.8 380.5C873.6 389.2 871.2 400.4 868 409.2C864.8 418 856 429.1 853.6 433.1" fill="none" stroke="#3AF090" stroke-width="9" stroke-linecap="round" opacity="0.8"/>
</g>
<g filter="url(#b2)">
<path d="M1112.2 222.5C1115.8 217.7 1122.2 214.1 1128.9 212.9C1135.7 211.7 1144.9 212.1 1152.9 215.3C1160.9 218.5 1168.8 224.4 1176.8 232C1184.8 239.6 1194 251.2 1200.8 260.8C1207.5 270.3 1213.5 280.7 1217.5 289.5C1221.5 298.3 1224.3 306.6 1224.7 313.4C1225.1 320.2 1223.9 326.6 1219.9 330.2C1215.9 333.8 1207.9 335 1200.8 335C1193.6 335 1184.8 331.4 1176.8 330.2C1168.8 329 1159.7 327.8 1152.9 327.8C1146.1 327.8 1142.1 332.6 1136.1 330.2C1130.1 327.8 1122.6 319.8 1117 313.4C1111.4 307 1105.4 299.9 1102.6 291.9C1099.8 283.9 1099.4 273.9 1100.2 265.5C1101 257.2 1105.4 248.8 1107.4 241.6C1109.4 234.4 1108.6 227.2 1112.2 222.5Z" fill="#0A3547" />
<path d="M1117 236.8C1117.8 240 1119.4 249.2 1121.8 256C1124.2 262.8 1127.3 271.1 1131.3 277.5C1135.3 283.9 1143.3 291.5 1145.7 294.3" fill="none" stroke="#30B6EA" stroke-width="8.5" stroke-linecap="round" />
<path d="M1126.5 222.5C1128.5 226 1134.5 236.4 1138.5 244C1142.5 251.6 1146.9 260.4 1150.5 267.9C1154.1 275.5 1158.5 285.9 1160.1 289.5" fill="none" stroke="#30B6EA" stroke-width="8.5" stroke-linecap="round" />
<path d="M1145.7 220.1C1148.1 223.7 1155.7 234.4 1160.1 241.6C1164.5 248.8 1168.8 256.4 1172 263.2C1175.2 269.9 1178 279.1 1179.2 282.3" fill="none" stroke="#30B6EA" stroke-width="8.5" stroke-linecap="round" />
<path d="M1107.4 267.9C1108.6 271.5 1111.4 282.7 1114.6 289.5C1117.8 296.3 1122.2 303.8 1126.5 308.6C1130.9 313.4 1138.5 316.6 1140.9 318.2" fill="none" stroke="#30B6EA" stroke-width="8.5" stroke-linecap="round" />
<path d="M1164.9 234.4C1168 238.4 1179.2 251.2 1184 258.4C1188.8 265.5 1192 274.3 1193.6 277.5" fill="none" stroke="#30B6EA" stroke-width="8.5" stroke-linecap="round" />
<path d="M1172 299.1C1174.8 298.3 1183.2 296.3 1188.8 294.3C1194.4 292.3 1202.8 288.3 1205.5 287.1" fill="none" stroke="#30B6EA" stroke-width="8.5" stroke-linecap="round" />
<path d="M1152.9 313.4C1156.9 313 1168.8 311.8 1176.8 311C1184.8 310.2 1194 308.6 1200.8 308.6C1207.5 308.6 1214.7 310.6 1217.5 311" fill="none" stroke="#30B6EA" stroke-width="8.5" stroke-linecap="round" />
<path d="M1140.9 323C1144.9 323.4 1156.9 324.6 1164.9 325.4C1172.8 326.2 1181.2 327 1188.8 327.8C1196.4 328.6 1206.7 329.8 1210.3 330.2" fill="none" stroke="#30B6EA" stroke-width="8.5" stroke-linecap="round" />
<path d="M1186.4 279.9C1188.8 279.5 1197.2 279.1 1200.8 277.5C1204.4 275.9 1206.7 271.5 1207.9 270.3" fill="none" stroke="#30B6EA" stroke-width="8.5" stroke-linecap="round" />
<path d="M1114.6 224.8C1117.4 223.5 1125 217.5 1131.3 216.5C1137.7 215.5 1145.7 215.9 1152.9 218.9C1160.1 221.9 1166.8 227 1174.4 234.4C1182 241.8 1191.6 253.6 1198.4 263.2C1205.1 272.7 1211.1 283.5 1215.1 291.9C1219.1 300.3 1221.1 309.8 1222.3 313.4" fill="none" stroke="#30B6EA" stroke-width="8.5" stroke-linecap="round" />
<path d="M1105 246.4C1104.6 250.8 1102.2 264.7 1102.6 272.7C1103 280.7 1106.6 290.7 1107.4 294.3" fill="none" stroke="#30B6EA" stroke-width="8.5" stroke-linecap="round" />
<path d="M1112.2 222.5C1115.8 217.7 1122.2 214.1 1128.9 212.9C1135.7 211.7 1144.9 212.1 1152.9 215.3C1160.9 218.5 1168.8 224.4 1176.8 232C1184.8 239.6 1194 251.2 1200.8 260.8C1207.5 270.3 1213.5 280.7 1217.5 289.5C1221.5 298.3 1224.3 306.6 1224.7 313.4C1225.1 320.2 1223.9 326.6 1219.9 330.2C1215.9 333.8 1207.9 335 1200.8 335C1193.6 335 1184.8 331.4 1176.8 330.2C1168.8 329 1159.7 327.8 1152.9 327.8C1146.1 327.8 1142.1 332.6 1136.1 330.2C1130.1 327.8 1122.6 319.8 1117 313.4C1111.4 307 1105.4 299.9 1102.6 291.9C1099.8 283.9 1099.4 273.9 1100.2 265.5C1101 257.2 1105.4 248.8 1107.4 241.6C1109.4 234.4 1108.6 227.2 1112.2 222.5Z" fill="none" stroke="#2CA8DC" stroke-width="3" stroke-linecap="round" />
</g>
</g><g clip-path="url(#cl2)">
<rect x="1276" y="173.9" width="524" height="291.5" fill="#0A0B78"/>
<g filter="url(#b8)">
<path d="M1300.9 236.8C1302.9 218.9 1320.8 204.9 1336.8 200.9C1352.8 196.9 1376.7 204.9 1396.6 212.9C1416.6 220.8 1440.5 232.8 1456.5 248.8C1472.4 264.7 1492.4 293.8 1492.4 308.6C1492.4 323.4 1474.4 335.3 1456.5 337.3C1438.5 339.3 1406.6 325.4 1384.7 320.6C1362.7 315.8 1338.8 322.6 1324.8 308.6C1310.9 294.6 1298.9 254.8 1300.9 236.8Z" fill="#090A60" opacity="0.8"/>
<path d="M1564.2 260.7C1568.2 242.8 1598.1 222.8 1624 212.9C1650 202.9 1695.8 196.9 1719.8 200.9C1743.7 204.9 1761.6 220.8 1767.6 236.8C1773.6 252.8 1771.6 284.7 1755.7 296.6C1739.7 308.6 1697.8 304.6 1671.9 308.6C1646 312.6 1618 328.6 1600.1 320.6C1582.1 312.6 1560.2 278.7 1564.2 260.7Z" fill="#090A5C" opacity="0.8"/>
</g>
<g filter="url(#b12)">
<path d="M1356 177C1363.1 180.2 1388.7 188.9 1399 196.1C1409.4 203.3 1418.2 209.3 1418.2 220.1C1418.2 230.8 1405.4 248.4 1399 260.7C1392.7 273.1 1383.1 288.7 1379.9 294.2" fill="none" stroke="#2A8EE0" stroke-width="30" stroke-linecap="round" opacity="0.75"/>
<path d="M1667.1 179.4C1671.9 181.8 1689 187.3 1695.8 193.7C1702.6 200.1 1705.8 213.7 1707.8 217.7" fill="none" stroke="#1A55C8" stroke-width="26" stroke-linecap="round" opacity="0.6"/>
</g>
<g filter="url(#b3)">
<path d="M1286.5 193.7C1285.3 200.9 1278.6 221.6 1279.4 236.8C1280.2 252 1284.9 268.7 1291.3 284.7C1297.7 300.6 1306.9 316.6 1317.7 332.5C1328.4 348.5 1342.4 366.9 1356 380.4C1369.5 394 1391.9 408.3 1399 413.9" fill="none" stroke="#1C36E8" stroke-width="9" stroke-linecap="round" />
<path d="M1276 308.6C1279.8 316.6 1288.4 341.3 1298.5 356.5C1308.6 371.6 1327.2 388.4 1336.8 399.6C1346.4 410.7 1352.8 419.5 1356 423.5" fill="none" stroke="#1830D8" stroke-width="8" stroke-linecap="round" />
<path d="M1779.6 184.1C1781.2 190.9 1789.6 208.9 1789.2 224.8C1788.8 240.8 1783.2 261.1 1777.2 279.9C1771.2 298.6 1760.9 320.6 1753.3 337.3C1745.7 354.1 1737.3 367.6 1731.7 380.4C1726.1 393.2 1721.8 408.3 1719.8 413.9" fill="none" stroke="#1C36E8" stroke-width="9" stroke-linecap="round" />
<path d="M1799.9 299C1796.6 308.6 1787 338.9 1779.6 356.5C1772.2 374 1761.6 391.6 1755.7 404.3C1749.7 417.1 1745.7 428.3 1743.7 433.1" fill="none" stroke="#1830D8" stroke-width="8" stroke-linecap="round" />
<path d="M1312.9 179.4C1309.7 184.9 1296.1 198.5 1293.7 212.9C1291.3 227.2 1293.7 249.6 1298.5 265.5C1303.3 281.5 1318.5 301.4 1322.4 308.6" fill="none" stroke="#050540" stroke-width="10" stroke-linecap="round" />
<path d="M1767.6 179.4C1768.8 186.9 1775.6 208.1 1774.8 224.8C1774 241.6 1764.8 270.7 1762.8 279.9" fill="none" stroke="#050540" stroke-width="8" stroke-linecap="round" />
</g>
<g filter="url(#b5)">
<path d="M1353.6 301.4C1359.5 304.2 1378.3 312.2 1389.5 318.2C1400.6 324.2 1410.2 331.3 1420.6 337.3C1430.9 343.3 1446.5 351.3 1451.7 354.1" fill="none" stroke="#D81E64" stroke-width="13" stroke-linecap="round" opacity="0.85"/>
<path d="M1719.8 306.2C1715 308.6 1701.4 314.6 1691 320.6C1680.7 326.6 1667.9 336.1 1657.5 342.1C1647.2 348.1 1633.6 354.1 1628.8 356.5" fill="none" stroke="#E02060" stroke-width="14" stroke-linecap="round" opacity="0.9"/>
<path d="M1534.3 188.9C1534.7 198.9 1536.1 228 1536.7 248.8C1537.3 269.5 1537.7 302.6 1537.9 313.4" fill="none" stroke="#C8308A" stroke-width="6" stroke-linecap="round" opacity="0.8"/>
<path d="M1504.3 332.5C1508.3 330.9 1522.3 328.6 1528.3 323C1534.3 317.4 1537.5 307 1540.3 299C1543 291.1 1544.2 279.1 1545 275.1" fill="none" stroke="#F0206A" stroke-width="14" stroke-linecap="round" />
<path d="M1420.6 375.6C1423.4 370.8 1431.3 352.5 1437.3 346.9C1443.3 341.3 1453.3 342.9 1456.5 342.1" fill="none" stroke="#E83070" stroke-width="10" stroke-linecap="round" />
</g>
<g filter="url(#b6)">
<path d="M1432.5 342.1C1442.9 334.9 1466.1 336.5 1480.4 332.5C1494.8 328.6 1509.5 318.2 1518.7 318.2C1527.9 318.2 1528.7 330.5 1535.5 332.5C1542.2 334.5 1548.6 330.2 1559.4 330.2C1570.2 330.2 1586.9 329.8 1600.1 332.5C1613.3 335.3 1628.8 340.5 1638.4 346.9C1648 353.3 1652.7 362.9 1657.5 370.8C1662.3 378.8 1672.7 389.2 1667.1 394.8C1661.5 400.4 1636 405.5 1624 404.3C1612.1 403.2 1605.3 392.4 1595.3 387.6C1585.3 382.8 1574.2 379.6 1564.2 375.6C1554.2 371.6 1544.6 363.7 1535.5 363.7C1526.3 363.7 1518.3 370.4 1509.1 375.6C1500 380.8 1490.8 389.6 1480.4 394.8C1470 400 1458.1 405.1 1446.9 406.7C1435.7 408.3 1418.2 409.5 1413.4 404.3C1408.6 399.2 1415 386 1418.2 375.6C1421.4 365.3 1422.2 349.3 1432.5 342.1Z" fill="#EE3C8C" opacity="0.9"/>
</g>
<g filter="url(#b3)">
<path d="M1446.9 349.3C1454.9 344.5 1468.8 344.7 1480.4 342.1C1492 339.5 1507.5 333.5 1516.3 333.7C1525.1 333.9 1527.1 342.5 1533.1 343.3C1539.1 344.1 1543 339.3 1552.2 338.5C1561.4 337.7 1576.2 336.5 1588.1 338.5C1600.1 340.5 1615.2 345.5 1624 350.5C1632.8 355.5 1636 361.9 1640.8 368.4C1645.6 375 1655.9 385.4 1652.7 390C1649.6 394.6 1631.2 397.4 1621.6 396C1612.1 394.6 1603.7 385.6 1595.3 381.6C1586.9 377.6 1579.3 376 1571.4 372C1563.4 368 1553.6 360.6 1547.4 357.7C1541.2 354.8 1539.9 353 1534.3 354.6C1528.7 356.2 1520.5 362.7 1513.9 367.2C1507.3 371.8 1502 377.2 1494.8 381.6C1487.6 386 1479.6 390.8 1470.8 393.6C1462.1 396.4 1450.5 398 1442.1 398.4C1433.7 398.8 1422.2 400.6 1420.6 396C1419 391.4 1428.2 378.6 1432.5 370.8C1436.9 363.1 1438.9 354.1 1446.9 349.3Z" fill="#FCEAF3" />
<path d="M1504.3 363.7C1509.1 361.3 1523.1 349.6 1533.1 349.8C1543 350 1559 362.3 1564.2 364.9" fill="none" stroke="#FFFFFF" stroke-width="16" stroke-linecap="round" />
</g>
<g filter="url(#b4)">
<path d="M1446.9 418.7C1444.5 415.9 1450.9 406.7 1456.5 402C1462.1 397.2 1472.8 394.4 1480.4 390C1488 385.6 1497.8 376 1502 375.6C1506.1 375.2 1507.1 382.8 1505.5 387.6C1504 392.4 1498.2 399.2 1492.4 404.3C1486.6 409.5 1478.4 416.3 1470.8 418.7C1463.3 421.1 1449.3 421.5 1446.9 418.7Z" fill="#22E4F2" />
<path d="M1580.9 385.2C1583.3 384 1592.1 392.4 1600.1 394.8C1608.1 397.2 1620.4 398 1628.8 399.6C1637.2 401.2 1648.8 402 1650.4 404.3C1651.9 406.7 1646 412.7 1638.4 413.9C1630.8 415.1 1613.7 413.5 1604.9 411.5C1596.1 409.5 1589.7 406.3 1585.7 402C1581.7 397.6 1578.5 386.4 1580.9 385.2Z" fill="#2ADCF2" />
</g>
<g filter="url(#b3)">
<ellipse cx="1537.9" cy="388.8" rx="33" ry="31" fill="#141CA8"/>
<ellipse cx="1532.9" cy="415.8" rx="20" ry="12" fill="#A030C0" opacity="0.85"/>
<path d="M1470.8 375.6C1470.8 372.4 1477.2 370 1480.4 370.8C1483.6 371.6 1490 377.2 1490 380.4C1490 383.6 1483.6 390.8 1480.4 390C1477.2 389.2 1470.8 378.8 1470.8 375.6Z" fill="#10105A" />
<path d="M1595.3 380.4C1596.1 378 1606.1 371.6 1609.7 370.8C1613.3 370 1617.6 373.2 1616.8 375.6C1616 378 1608.5 384.4 1604.9 385.2C1601.3 386 1594.5 382.8 1595.3 380.4Z" fill="#10105A" />
</g>
<g filter="url(#b3)">
<path d="M1308.1 476.2C1236.7 472.2 1315.3 459 1320.1 452.2C1324.8 445.4 1326 439.9 1336.8 435.5C1347.6 431.1 1367.1 426.7 1384.7 425.9C1402.2 425.1 1422.2 429.1 1442.1 430.7C1462.1 432.3 1491.6 432.3 1504.3 435.5C1517.1 438.7 1514.7 450.2 1518.7 449.8C1522.7 449.4 1522.7 437.5 1528.3 433.1C1533.9 428.7 1540.3 426.3 1552.2 423.5C1564.2 420.7 1580.1 416.3 1600.1 416.3C1620 416.3 1651.9 422.7 1671.9 423.5C1691.8 424.3 1709.4 418.3 1719.8 421.1C1730.1 423.9 1729.3 431.1 1734.1 440.3C1738.9 449.4 1819.5 470.2 1748.5 476.2C1677.5 482.1 1379.5 480.1 1308.1 476.2Z" fill="#000010" />
</g>
<g filter="url(#b1)">
<path d="M1493.6 210.5C1495.4 216.1 1500.2 231.6 1504.3 244C1508.5 256.4 1514.4 271.9 1518.7 284.7C1523 297.4 1528.3 314.6 1530.2 320.6" fill="none" stroke="#000" stroke-width="10.5" stroke-linecap="round" />
</g>
<path d="M1467.2 172.2L1514.4 301.9" stroke="#fff" stroke-width="2.8" stroke-dasharray="18 6.5" fill="none"/>
<path d="M1491.9 172.2L1536.2 289.9" stroke="#fff" stroke-width="2.8" stroke-dasharray="18 6.5" stroke-dashoffset="8" fill="none"/>
</g>
<text x="1579.8" y="235.6" font-size="62" textLength="207" lengthAdjust="spacingAndGlyphs" fill="#fff">B –3.08</text>
</g>
<g id="pb">
<text x="54.8" y="1155.7" font-size="87" font-weight="bold" textLength="63.5" lengthAdjust="spacingAndGlyphs" stroke="#000" stroke-width="4" stroke-linejoin="miter">b</text>
<rect x="468" y="1083.4" width="281.8" height="128.1" fill="#DCDADA"/>
<rect x="757.9" y="1083.4" width="116" height="128.1" fill="#DCDADA"/>
<rect x="881.9" y="1083.4" width="370.2" height="128.1" fill="#DCDADA"/>
<rect x="1257.9" y="1083.4" width="287.1" height="128.1" fill="#DCDADA"/>
<text x="609.9" y="1132.7" font-size="50.4" text-anchor="middle" textLength="243" lengthAdjust="spacingAndGlyphs" fill="#1A1A1A">Acquisition</text>
<text x="614.9" y="1192.3" font-size="50.4" text-anchor="middle" textLength="250.1" lengthAdjust="spacingAndGlyphs" fill="#1A1A1A">12–15 days</text>
<text x="813" y="1166.8" font-size="50.4" text-anchor="middle" textLength="66.5" lengthAdjust="spacingAndGlyphs" fill="#1A1A1A">PR</text>
<text x="1067" y="1132.7" font-size="50.4" text-anchor="middle" textLength="328.8" lengthAdjust="spacingAndGlyphs" fill="#1A1A1A">Limited access</text>
<text x="1067" y="1192.3" font-size="50.4" text-anchor="middle" textLength="146.8" lengthAdjust="spacingAndGlyphs" fill="#1A1A1A">3 days</text>
<text x="1401.5" y="1132.7" font-size="50.4" text-anchor="middle" textLength="261.8" lengthAdjust="spacingAndGlyphs" fill="#1A1A1A">Punishment</text>
<text x="1401.5" y="1192.3" font-size="50.4" text-anchor="middle" textLength="146.8" lengthAdjust="spacingAndGlyphs" fill="#1A1A1A">4 days</text>
<g>
<polyline points="383.8,1848.6 451.1,1443.5 518.4,1494 585.7,1418.7 653,1453.7 720.3,1433.5 787.6,1428.2 854.9,1438.7 922.2,1461.1 989.5,1441.9 1056.8,1462.3 1124.1,1449.6" fill="none" stroke="#000" stroke-width="3" stroke-linejoin="miter" stroke-miterlimit="8"/>
<polyline points="383.8,1674.5 451.1,1638.6 518.4,1585.9 585.7,1546.6 653,1592.8 720.3,1617.9 787.6,1578.8 854.9,1588.8 922.2,1619.3 989.5,1556.7 1056.8,1601.6 1124.1,1579.3" fill="none" stroke="#000" stroke-width="3" stroke-linejoin="miter" stroke-miterlimit="8"/>
<polyline points="383.8,1820.3 451.1,1787.6 518.4,1533.5 585.7,1417.2 653,1479 720.3,1418.9 787.6,1427.9 854.9,1451.6 922.2,1468.7 989.5,1452.6 1056.8,1454.8 1124.1,1442.3" fill="none" stroke="#000" stroke-width="3" stroke-linejoin="miter" stroke-miterlimit="8"/>
<polyline points="383.8,1666.4 451.1,1625.5 518.4,1541 585.7,1471 653,1517 720.3,1544 787.6,1524.6 854.9,1491.5 922.2,1579.4 989.5,1540.1 1056.8,1524 1124.1,1497" fill="none" stroke="#000" stroke-width="3" stroke-linejoin="miter" stroke-miterlimit="8"/>
<polyline points="383.8,1809.3 451.1,1770.5 518.4,1634.8 585.7,1440.6 653,1475.6 720.3,1459.7 787.6,1427.7 854.9,1430.7 922.2,1475.8 989.5,1457 1056.8,1462.7 1124.1,1442.6" fill="none" stroke="#000" stroke-width="3" stroke-linejoin="miter" stroke-miterlimit="8"/>
<polyline points="383.8,1831.6 451.1,1780.4 518.4,1585.6 585.7,1456.9 653,1504.8 720.3,1470.8 787.6,1457.8 854.9,1601.1 922.2,1498.8 989.5,1476.9 1056.8,1470.7 1124.1,1493" fill="none" stroke="#000" stroke-width="3" stroke-linejoin="miter" stroke-miterlimit="8"/>
<polyline points="383.8,1869.6 451.1,1645.6 518.4,1528.5 585.7,1430.2 653,1516.9 720.3,1452 787.6,1480.4 854.9,1440 922.2,1498.4 989.5,1466.2 1056.8,1466.7 1124.1,1490.7" fill="none" stroke="#000" stroke-width="3" stroke-linejoin="miter" stroke-miterlimit="8"/>
<polyline points="383.8,1583.4 451.1,1552.5 518.4,1541.1 585.7,1505.5 653,1569.3 720.3,1496.7 787.6,1516 854.9,1489.3 922.2,1543.6 989.5,1548.8 1056.8,1532.7 1124.1,1537.3" fill="none" stroke="#000" stroke-width="3" stroke-linejoin="miter" stroke-miterlimit="8"/>
<polyline points="383.8,1805.9 451.1,1625.5 518.4,1525.1 585.7,1475.1 653,1582.9 720.3,1536 787.6,1535.6 854.9,1553.6 922.2,1539.4 989.5,1545.6 1056.8,1534.9 1124.1,1551.3" fill="none" stroke="#000" stroke-width="3" stroke-linejoin="miter" stroke-miterlimit="8"/>
<polyline points="383.8,1798.3 451.1,1460.2 518.4,1456.9 585.7,1426.9 653,1461.4 720.3,1452.7 787.6,1441.7 854.9,1434.8 922.2,1453.6 989.5,1451.8 1056.8,1447.3 1124.1,1460.9" fill="none" stroke="#000" stroke-width="3" stroke-linejoin="miter" stroke-miterlimit="8"/>
<polyline points="383.8,1771.4 451.1,1738.5 518.4,1484 585.7,1413 653,1433.5 720.3,1416.7 787.6,1402.4 854.9,1383.5 922.2,1424.6 989.5,1453.5 1056.8,1452.5 1124.1,1416.5" fill="none" stroke="#000" stroke-width="3" stroke-linejoin="miter" stroke-miterlimit="8"/>
<polyline points="383.8,1594.3 451.1,1542.2 518.4,1447.8 585.7,1419.6 653,1451.1 720.3,1440.6 787.6,1441.4 854.9,1406.1 922.2,1449.6 989.5,1434 1056.8,1445.3 1124.1,1440.5" fill="none" stroke="#000" stroke-width="3" stroke-linejoin="miter" stroke-miterlimit="8"/>
<polyline points="383.8,1862.4 451.1,1706.5 518.4,1488 585.7,1412.3 653,1483.8 720.3,1447.5 787.6,1421.3 854.9,1428.8 922.2,1461.8 989.5,1458.3 1056.8,1428.7 1124.1,1445.6" fill="none" stroke="#000" stroke-width="3" stroke-linejoin="miter" stroke-miterlimit="8"/>
<polyline points="383.8,1765.2 451.1,1598.2 518.4,1505.3 585.7,1443.7 653,1508.6 720.3,1488 787.6,1480.7 854.9,1474.9 922.2,1499.3 989.5,1494.1 1056.8,1490.1 1124.1,1508.2" fill="none" stroke="#000" stroke-width="3" stroke-linejoin="miter" stroke-miterlimit="8"/>
<polyline points="383.8,1587.5 451.1,1423.1 518.4,1444.9 585.7,1381.1 653,1437.7 720.3,1458.6 787.6,1408.5 854.9,1408.6 922.2,1441.9 989.5,1449.7 1056.8,1429.3 1124.1,1428" fill="none" stroke="#000" stroke-width="3" stroke-linejoin="miter" stroke-miterlimit="8"/>
<polyline points="383.8,1614.6 451.1,1506.7 518.4,1433.3 585.7,1406.9 653,1465.8 720.3,1442.2 787.6,1440.1 854.9,1435 922.2,1466.7 989.5,1436.8 1056.8,1441.7 1124.1,1450.6" fill="none" stroke="#000" stroke-width="3" stroke-linejoin="miter" stroke-miterlimit="8"/>
<polyline points="383.8,1746.7 451.1,1435.7 518.4,1437.4 585.7,1384.2 653,1435 720.3,1408.2 787.6,1423.8 854.9,1399.9 922.2,1444.1 989.5,1410.3 1056.8,1425.2 1124.1,1405.9" fill="none" stroke="#000" stroke-width="3" stroke-linejoin="miter" stroke-miterlimit="8"/>
<polyline points="383.8,1727.9 451.1,1606.2 518.4,1441.6 585.7,1406 653,1469 720.3,1427.3 787.6,1440.9 854.9,1434.5 922.2,1435.6 989.5,1458.1 1056.8,1420.7 1124.1,1414.4" fill="none" stroke="#000" stroke-width="3" stroke-linejoin="miter" stroke-miterlimit="8"/>
<polyline points="383.8,1798.1 451.1,1531.2 518.4,1408.9 585.7,1386.8 653,1436.4 720.3,1409.3 787.6,1389 854.9,1391.7 922.2,1421 989.5,1411 1056.8,1410.7 1124.1,1407" fill="none" stroke="#000" stroke-width="3" stroke-linejoin="miter" stroke-miterlimit="8"/>
<polyline points="383.8,1853.1 451.1,1596.8 518.4,1445.6 585.7,1393 653,1446 720.3,1436.2 787.6,1449.8 854.9,1426.1 922.2,1465.9 989.5,1438.2 1056.8,1406 1124.1,1435.4" fill="none" stroke="#000" stroke-width="3" stroke-linejoin="miter" stroke-miterlimit="8"/>
<polyline points="383.8,1788.5 451.1,1582.3 518.4,1444.9 585.7,1424.5 653,1461.2 720.3,1448.3 787.6,1443.2 854.9,1438 922.2,1487.2 989.5,1480.5 1056.8,1439.4 1124.1,1453.6" fill="none" stroke="#000" stroke-width="3" stroke-linejoin="miter" stroke-miterlimit="8"/>
<polyline points="383.8,1613.2 451.1,1491 518.4,1502.4 585.7,1468.2 653,1494.1 720.3,1476.9 787.6,1502 854.9,1450.9 922.2,1497 989.5,1477.5 1056.8,1493.5 1124.1,1492.2" fill="none" stroke="#000" stroke-width="3" stroke-linejoin="miter" stroke-miterlimit="8"/>
<polyline points="383.8,1550.3 451.1,1448.9 518.4,1470.4 585.7,1404.9 653,1466.3 720.3,1464.1 787.6,1447.4 854.9,1442.4 922.2,1471.9 989.5,1470.1 1056.8,1465.4 1124.1,1457.9" fill="none" stroke="#000" stroke-width="3" stroke-linejoin="miter" stroke-miterlimit="8"/>
<polyline points="383.8,1725.3 451.1,1557.3 518.4,1484.3 585.7,1396 653,1479.6 720.3,1440.7 787.6,1440.7 854.9,1443.8 922.2,1459.9 989.5,1461.8 1056.8,1442 1124.1,1451.4" fill="none" stroke="#000" stroke-width="3" stroke-linejoin="miter" stroke-miterlimit="8"/>
<polyline points="383.8,1605.8 451.1,1465.5 518.4,1469.6 585.7,1416.1 653,1450.3 720.3,1466 787.6,1450.8 854.9,1441.5 922.2,1482.4 989.5,1451.9 1056.8,1460.1 1124.1,1458.8" fill="none" stroke="#000" stroke-width="3" stroke-linejoin="miter" stroke-miterlimit="8"/>
<polyline points="383.8,1558.5 451.1,1468.5 518.4,1437.1 585.7,1407.3 653,1455.4 720.3,1434.9 787.6,1399.3 854.9,1437.3 922.2,1480.1 989.5,1463.4 1056.8,1459.2 1124.1,1429.3" fill="none" stroke="#000" stroke-width="3" stroke-linejoin="miter" stroke-miterlimit="8"/>
<polyline points="383.8,1825.4 451.1,1524.7 518.4,1522.3 585.7,1451.3 653,1519.7 720.3,1490 787.6,1447.2 854.9,1450.9 922.2,1503.8 989.5,1501.7 1056.8,1507.6 1124.1,1486" fill="none" stroke="#000" stroke-width="3" stroke-linejoin="miter" stroke-miterlimit="8"/>
<polyline points="383.8,1702.7 451.1,1617 518.4,1459.9 585.7,1419.4 653,1478.1 720.3,1457.9 787.6,1439.3 854.9,1449 922.2,1460.7 989.5,1462 1056.8,1448.1 1124.1,1454.3" fill="none" stroke="#000" stroke-width="3" stroke-linejoin="miter" stroke-miterlimit="8"/>
<polyline points="383.8,1624.8 451.1,1569.1 518.4,1491 585.7,1425.9 653,1502.4 720.3,1449.1 787.6,1439.4 854.9,1439.4 922.2,1478.7 989.5,1469.1 1056.8,1468.9 1124.1,1458.7" fill="none" stroke="#000" stroke-width="3" stroke-linejoin="miter" stroke-miterlimit="8"/>
<polyline points="383.8,1724 451.1,1535.7 518.4,1496.2 585.7,1436.4 653,1490.5 720.3,1467.8 787.6,1457.5 854.9,1468 922.2,1497.7 989.5,1475.9 1056.8,1470.1 1124.1,1473.3" fill="none" stroke="#000" stroke-width="3" stroke-linejoin="miter" stroke-miterlimit="8"/>
<polyline points="383.8,1520.7 451.1,1473.7 518.4,1426 585.7,1412 653,1460.1 720.3,1428.5 787.6,1392.2 854.9,1411.4 922.2,1437.5 989.5,1537.9 1056.8,1400.8 1124.1,1425.2" fill="none" stroke="#000" stroke-width="3" stroke-linejoin="miter" stroke-miterlimit="8"/>
<polyline points="383.8,1795.8 451.1,1553.9 518.4,1464.6 585.7,1391.6 653,1452.2 720.3,1440.2 787.6,1421.7 854.9,1436.9 922.2,1481.5 989.5,1440.7 1056.8,1441 1124.1,1435.8" fill="none" stroke="#000" stroke-width="3" stroke-linejoin="miter" stroke-miterlimit="8"/>
<polyline points="383.8,1849.9 451.1,1474.1 518.4,1490.9 585.7,1418.8 653,1520.3 720.3,1460.2 787.6,1441.8 854.9,1435.4 922.2,1456.1 989.5,1455.4 1056.8,1458.4 1124.1,1458.5" fill="none" stroke="#000" stroke-width="3" stroke-linejoin="miter" stroke-miterlimit="8"/>
<polyline points="383.8,1594.4 451.1,1444.9 518.4,1451.1 585.7,1396.2 653,1482.1 720.3,1448.8 787.6,1440.1 854.9,1421.5 922.2,1453.2 989.5,1481.1 1056.8,1463.7 1124.1,1445.7" fill="none" stroke="#000" stroke-width="3" stroke-linejoin="miter" stroke-miterlimit="8"/>
<polyline points="383.8,1773 451.1,1514.1 518.4,1463.1 585.7,1405.7 653,1441.4 720.3,1432.3 787.6,1403.7 854.9,1405.2 922.2,1457.6 989.5,1434.4 1056.8,1431.7 1124.1,1413.5" fill="none" stroke="#000" stroke-width="3" stroke-linejoin="miter" stroke-miterlimit="8"/>
<polyline points="383.8,1784.7 451.1,1486.3 518.4,1456.4 585.7,1388 653,1434 720.3,1430.3 787.6,1433.2 854.9,1425.8 922.2,1430.9 989.5,1442.6 1056.8,1424.9 1124.1,1419.8" fill="none" stroke="#000" stroke-width="3" stroke-linejoin="miter" stroke-miterlimit="8"/>
<polyline points="383.8,1663.4 451.1,1479.7 518.4,1442.2 585.7,1408.6 653,1446.2 720.3,1457.1 787.6,1440.2 854.9,1426.3 922.2,1419.9 989.5,1433.7 1056.8,1440.2 1124.1,1428.3" fill="none" stroke="#000" stroke-width="3" stroke-linejoin="miter" stroke-miterlimit="8"/>
<polyline points="383.8,1697.3 451.1,1556 518.4,1500.2 585.7,1414.7 653,1504.6 720.3,1444.1 787.6,1447.2 854.9,1433.8 922.2,1465.6 989.5,1471.5 1056.8,1482 1124.1,1452.4" fill="none" stroke="#000" stroke-width="3" stroke-linejoin="miter" stroke-miterlimit="8"/>
<polyline points="383.8,1631.9 451.1,1493.2 518.4,1470.5 585.7,1455.7 653,1493.5 720.3,1475.9 787.6,1456.9 854.9,1444.1 922.2,1509.5 989.5,1466.9 1056.8,1484.7 1124.1,1458.7" fill="none" stroke="#000" stroke-width="3" stroke-linejoin="miter" stroke-miterlimit="8"/>
<polyline points="383.8,1854.2 451.1,1559.6 518.4,1451.6 585.7,1407.9 653,1478.7 720.3,1426.1 787.6,1438.8 854.9,1434.5 922.2,1473.1 989.5,1458.8 1056.8,1457.5 1124.1,1452.4" fill="none" stroke="#000" stroke-width="3" stroke-linejoin="miter" stroke-miterlimit="8"/>
<polyline points="383.8,1826.2 451.1,1464.7 518.4,1380.7 585.7,1365 653,1418 720.3,1375.3 787.6,1398.5 854.9,1383.2 922.2,1427.2 989.5,1389.5 1056.8,1430.1 1124.1,1411.7" fill="none" stroke="#000" stroke-width="3" stroke-linejoin="miter" stroke-miterlimit="8"/>
<polyline points="383.8,1849.5 451.1,1511.7 518.4,1461.1 585.7,1432.9 653,1459.2 720.3,1453.3 787.6,1432.3 854.9,1413.2 922.2,1449.4 989.5,1422.2 1056.8,1439.1 1124.1,1458.2" fill="none" stroke="#000" stroke-width="3" stroke-linejoin="miter" stroke-miterlimit="8"/>
<polyline points="383.8,1554.7 451.1,1524.3 518.4,1532.5 585.7,1493.8 653,1549.7 720.3,1517.1 787.6,1520 854.9,1491.8 922.2,1543.3 989.5,1535.1 1056.8,1525.9 1124.1,1563.1" fill="none" stroke="#000" stroke-width="3" stroke-linejoin="miter" stroke-miterlimit="8"/>
<polyline points="383.8,1767.3 451.1,1661.3 518.4,1514.8 585.7,1422.2 653,1461.4 720.3,1449.8 787.6,1423.8 854.9,1437.7 922.2,1463.3 989.5,1439.8 1056.8,1408 1124.1,1459.5" fill="none" stroke="#000" stroke-width="3" stroke-linejoin="miter" stroke-miterlimit="8"/>
<polyline points="383.8,1569.1 451.1,1476 518.4,1453.1 585.7,1419.9 653,1455.9 720.3,1425.7 787.6,1421.7 854.9,1440.1 922.2,1529.7 989.5,1429.6 1056.8,1424.3 1124.1,1433.4" fill="none" stroke="#000" stroke-width="3" stroke-linejoin="miter" stroke-miterlimit="8"/>
<polyline points="383.8,1861.1 451.1,1834.1 518.4,1660.9 585.7,1398.4 653,1474 720.3,1470.1 787.6,1455.3 854.9,1445 922.2,1467.7 989.5,1483.2 1056.8,1492.4 1124.1,1471.4" fill="none" stroke="#000" stroke-width="3" stroke-linejoin="miter" stroke-miterlimit="8"/>
<polyline points="383.8,1581.4 451.1,1449.4 518.4,1430.5 585.7,1385.1 653,1412.5 720.3,1429.4 787.6,1408.8 854.9,1541.3 922.2,1427.5 989.5,1435.6 1056.8,1416.1 1124.1,1424.5" fill="none" stroke="#000" stroke-width="3" stroke-linejoin="miter" stroke-miterlimit="8"/>
<polyline points="383.8,1790.2 451.1,1631.9 518.4,1530.6 585.7,1400.6 653,1434.5 720.3,1416.6 787.6,1440 854.9,1421.7 922.2,1466 989.5,1457.5 1056.8,1427.8 1124.1,1469" fill="none" stroke="#000" stroke-width="3" stroke-linejoin="miter" stroke-miterlimit="8"/>
<polyline points="383.8,1839.5 451.1,1418.5 518.4,1442 585.7,1416 653,1423.2 720.3,1404 787.6,1403.1 854.9,1399.8 922.2,1421.3 989.5,1433.9 1056.8,1428.6 1124.1,1421.2" fill="none" stroke="#000" stroke-width="3" stroke-linejoin="miter" stroke-miterlimit="8"/>
<polyline points="383.8,1803.6 451.1,1709 518.4,1435.5 585.7,1372.9 653,1447.1 720.3,1413 787.6,1399.7 854.9,1414.8 922.2,1435.8 989.5,1432.6 1056.8,1431 1124.1,1430.3" fill="none" stroke="#000" stroke-width="3" stroke-linejoin="miter" stroke-miterlimit="8"/>
<polyline points="383.8,1815.5 451.1,1733.7 518.4,1559.2 585.7,1440.8 653,1468.2 720.3,1462.3 787.6,1422.2 854.9,1420 922.2,1507.9 989.5,1484.9 1056.8,1452.6 1124.1,1450.8" fill="none" stroke="#000" stroke-width="3" stroke-linejoin="miter" stroke-miterlimit="8"/>
<polyline points="383.8,1788.1 451.1,1695.8 518.4,1451.6 585.7,1409.7 653,1470 720.3,1429.7 787.6,1439.4 854.9,1435 922.2,1479.8 989.5,1448.8 1056.8,1432.4 1124.1,1424.8" fill="none" stroke="#000" stroke-width="3" stroke-linejoin="miter" stroke-miterlimit="8"/>
<polyline points="383.8,1614 451.1,1613.4 518.4,1540.9 585.7,1429 653,1452.1 720.3,1450.5 787.6,1429.3 854.9,1443.4 922.2,1461.8 989.5,1452.4 1056.8,1455.3 1124.1,1420.2" fill="none" stroke="#000" stroke-width="3" stroke-linejoin="miter" stroke-miterlimit="8"/>
<polyline points="383.8,1584.1 451.1,1457.3 518.4,1447.5 585.7,1398.5 653,1478 720.3,1418.6 787.6,1425.6 854.9,1421 922.2,1449.2 989.5,1433.3 1056.8,1449 1124.1,1453.5" fill="none" stroke="#000" stroke-width="3" stroke-linejoin="miter" stroke-miterlimit="8"/>
<polyline points="383.8,1610.9 451.1,1541.8 518.4,1498.5 585.7,1429.6 653,1463.4 720.3,1463.8 787.6,1455.9 854.9,1467.3 922.2,1480.3 989.5,1483.4 1056.8,1459 1124.1,1471.6" fill="none" stroke="#000" stroke-width="3" stroke-linejoin="miter" stroke-miterlimit="8"/>
<polyline points="383.8,1621 451.1,1473.6 518.4,1422.6 585.7,1526.4 653,1489.8 720.3,1464.3 787.6,1448.7 854.9,1424 922.2,1485.7 989.5,1474.9 1056.8,1443.5 1124.1,1443.7" fill="none" stroke="#000" stroke-width="3" stroke-linejoin="miter" stroke-miterlimit="8"/>
<polyline points="383.8,1694.9 451.1,1555.4 518.4,1498.5 585.7,1449.1 653,1527.4 720.3,1508.2 787.6,1487.3 854.9,1504.3 922.2,1495.5 989.5,1542.4 1056.8,1514.9 1124.1,1502.8" fill="none" stroke="#000" stroke-width="3" stroke-linejoin="miter" stroke-miterlimit="8"/>
<polyline points="383.8,1862.8 451.1,1478 518.4,1460.4 585.7,1423.5 653,1470.5 720.3,1427.8 787.6,1425.3 854.9,1435.7 922.2,1432 989.5,1419.3 1056.8,1464.6 1124.1,1439.3" fill="none" stroke="#000" stroke-width="3" stroke-linejoin="miter" stroke-miterlimit="8"/>
<polyline points="383.8,1792.7 451.1,1786.4 518.4,1564.2 585.7,1449 653,1510.8 720.3,1472.1 787.6,1475.4 854.9,1460.8 922.2,1478.6 989.5,1479.4 1056.8,1468.6 1124.1,1470.7" fill="none" stroke="#000" stroke-width="3" stroke-linejoin="miter" stroke-miterlimit="8"/>
<polyline points="383.8,1843.1 451.1,1475.2 518.4,1475.2 585.7,1420.9 653,1484.4 720.3,1435.6 787.6,1454.4 854.9,1471.4 922.2,1484.6 989.5,1494.1 1056.8,1457 1124.1,1441.2" fill="none" stroke="#000" stroke-width="3" stroke-linejoin="miter" stroke-miterlimit="8"/>
<polyline points="383.8,1563.4 451.1,1441.5 518.4,1452.8 585.7,1431.3 653,1479.1 720.3,1453.2 787.6,1462 854.9,1464 922.2,1483.4 989.5,1488.9 1056.8,1467.4 1124.1,1465.1" fill="none" stroke="#000" stroke-width="3" stroke-linejoin="miter" stroke-miterlimit="8"/>
<polyline points="383.8,1740.2 451.1,1572 518.4,1501.8 585.7,1472.7 653,1513.3 720.3,1470.2 787.6,1468.4 854.9,1479.2 922.2,1505.3 989.5,1490.7 1056.8,1475 1124.1,1490.8" fill="none" stroke="#000" stroke-width="3" stroke-linejoin="miter" stroke-miterlimit="8"/>
<polyline points="383.8,1642.7 451.1,1486.1 518.4,1470.6 585.7,1442 653,1494 720.3,1497.7 787.6,1463.9 854.9,1469.7 922.2,1500.7 989.5,1480.7 1056.8,1465.9 1124.1,1462.2" fill="none" stroke="#000" stroke-width="3" stroke-linejoin="miter" stroke-miterlimit="8"/>
<polyline points="383.8,1637.7 451.1,1485.5 518.4,1412.2 585.7,1398.1 653,1446.6 720.3,1444.3 787.6,1423.2 854.9,1406.2 922.2,1428.6 989.5,1418.3 1056.8,1424.8 1124.1,1426.4" fill="none" stroke="#000" stroke-width="3" stroke-linejoin="miter" stroke-miterlimit="8"/>
<polyline points="383.8,1710.7 451.1,1509.2 518.4,1474.4 585.7,1439.1 653,1454 720.3,1447.4 787.6,1463.7 854.9,1428 922.2,1454.7 989.5,1469.1 1056.8,1464.8 1124.1,1459.9" fill="none" stroke="#000" stroke-width="3" stroke-linejoin="miter" stroke-miterlimit="8"/>
<polyline points="383.8,1836.4 451.1,1466.9 518.4,1408.1 585.7,1395.8 653,1428.1 720.3,1424.2 787.6,1423.5 854.9,1385 922.2,1431.6 989.5,1429.2 1056.8,1410.1 1124.1,1408.2" fill="none" stroke="#000" stroke-width="3" stroke-linejoin="miter" stroke-miterlimit="8"/>
<polyline points="383.8,1793.3 451.1,1543.6 518.4,1459.5 585.7,1437.9 653,1500 720.3,1456.7 787.6,1445.2 854.9,1457 922.2,1470.9 989.5,1480.4 1056.8,1477.8 1124.1,1462" fill="none" stroke="#000" stroke-width="3" stroke-linejoin="miter" stroke-miterlimit="8"/>
<polyline points="383.8,1591.9 451.1,1456.4 518.4,1441.1 585.7,1396.3 653,1441.8 720.3,1433.2 787.6,1437.7 854.9,1432.3 922.2,1452.7 989.5,1442.8 1056.8,1422.2 1124.1,1436.3" fill="none" stroke="#000" stroke-width="3" stroke-linejoin="miter" stroke-miterlimit="8"/>
<polyline points="383.8,1638.2 451.1,1446.9 518.4,1447.3 585.7,1388.1 653,1449.2 720.3,1443 787.6,1435.6 854.9,1427 922.2,1461.1 989.5,1462.4 1056.8,1446.4 1124.1,1422.8" fill="none" stroke="#000" stroke-width="3" stroke-linejoin="miter" stroke-miterlimit="8"/>
<polyline points="383.8,1653.5 451.1,1476.1 518.4,1486.7 585.7,1427.5 653,1484.7 720.3,1502.4 787.6,1467.3 854.9,1448.8 922.2,1465 989.5,1474.4 1056.8,1466 1124.1,1490" fill="none" stroke="#000" stroke-width="3" stroke-linejoin="miter" stroke-miterlimit="8"/>
<polyline points="383.8,1858.8 451.1,1510.1 518.4,1480.2 585.7,1430 653,1447.5 720.3,1462.3 787.6,1438.7 854.9,1427.3 922.2,1454 989.5,1451.8 1056.8,1443.4 1124.1,1459.9" fill="none" stroke="#000" stroke-width="3" stroke-linejoin="miter" stroke-miterlimit="8"/>
<polyline points="383.8,1772.2 451.1,1494.2 518.4,1452.9 585.7,1426.3 653,1454.2 720.3,1482.4 787.6,1461.8 854.9,1434.5 922.2,1486.1 989.5,1478.9 1056.8,1440.7 1124.1,1470.2" fill="none" stroke="#000" stroke-width="3" stroke-linejoin="miter" stroke-miterlimit="8"/>
<polyline points="383.8,1722.1 451.1,1509.4 518.4,1434 585.7,1400.8 653,1485.5 720.3,1442.3 787.6,1422.9 854.9,1432.7 922.2,1490.6 989.5,1455.1 1056.8,1431.4 1124.1,1419.5" fill="none" stroke="#000" stroke-width="3" stroke-linejoin="miter" stroke-miterlimit="8"/>
<polyline points="383.8,1841.4 451.1,1655.2 518.4,1541.1 585.7,1477.6 653,1451.6 720.3,1459.9 787.6,1435.1 854.9,1470 922.2,1471.1 989.5,1460.5 1056.8,1452.2 1124.1,1474.9" fill="none" stroke="#000" stroke-width="3" stroke-linejoin="miter" stroke-miterlimit="8"/>
<polyline points="383.8,1628 451.1,1592.9 518.4,1508.5 585.7,1465.8 653,1498.7 720.3,1505.1 787.6,1489.9 854.9,1467.6 922.2,1533.9 989.5,1511.2 1056.8,1517.3 1124.1,1496.7" fill="none" stroke="#000" stroke-width="3" stroke-linejoin="miter" stroke-miterlimit="8"/>
<polyline points="383.8,1807.7 451.1,1560 518.4,1475.8 585.7,1401.3 653,1467.1 720.3,1428.7 787.6,1427.2 854.9,1422.9 922.2,1453.6 989.5,1461.8 1056.8,1450.4 1124.1,1469.4" fill="none" stroke="#000" stroke-width="3" stroke-linejoin="miter" stroke-miterlimit="8"/>
<polyline points="383.8,1845.5 451.1,1669.3 518.4,1484.6 585.7,1395.1 653,1458.3 720.3,1453.4 787.6,1418.5 854.9,1456.9 922.2,1449 989.5,1471.1 1056.8,1492.8 1124.1,1414.7" fill="none" stroke="#000" stroke-width="3" stroke-linejoin="miter" stroke-miterlimit="8"/>
<polyline points="383.8,1745.6 451.1,1520.6 518.4,1444.1 585.7,1411.5 653,1429.8 720.3,1451.7 787.6,1428.9 854.9,1455.7 922.2,1481.6 989.5,1435.6 1056.8,1459.4 1124.1,1438.2" fill="none" stroke="#000" stroke-width="3" stroke-linejoin="miter" stroke-miterlimit="8"/>
<polyline points="383.8,1775.5 451.1,1637.5 518.4,1572 585.7,1527.3 653,1545.8 720.3,1476.9 787.6,1520.1 854.9,1540.9 922.2,1580.3 989.5,1591.1 1056.8,1583.7 1124.1,1586.5" fill="none" stroke="#000" stroke-width="3" stroke-linejoin="miter" stroke-miterlimit="8"/>
<polyline points="383.8,1666.5 451.1,1538.9 518.4,1466.4 585.7,1378.6 653,1454.4 720.3,1418.4 787.6,1381 854.9,1433.1 922.2,1433.9 989.5,1417.6 1056.8,1427.1 1124.1,1422.2" fill="none" stroke="#000" stroke-width="3" stroke-linejoin="miter" stroke-miterlimit="8"/>
<polyline points="383.8,1611.9 451.1,1468.4 518.4,1469.7 585.7,1378.1 653,1441.1 720.3,1425.3 787.6,1432.4 854.9,1424 922.2,1450 989.5,1443.2 1056.8,1465.1 1124.1,1429.5" fill="none" stroke="#000" stroke-width="3" stroke-linejoin="miter" stroke-miterlimit="8"/>
<polyline points="383.8,1786.4 451.1,1497.9 518.4,1429.9 585.7,1400.1 653,1443.1 720.3,1429.2 787.6,1390.9 854.9,1422.8 922.2,1431.9 989.5,1454.4 1056.8,1417.2 1124.1,1428.6" fill="none" stroke="#000" stroke-width="3" stroke-linejoin="miter" stroke-miterlimit="8"/>
<polyline points="383.8,1845.6 451.1,1564.9 518.4,1455.4 585.7,1435.9 653,1504.6 720.3,1470.4 787.6,1442.4 854.9,1442.3 922.2,1491.6 989.5,1482 1056.8,1475.5 1124.1,1482.4" fill="none" stroke="#000" stroke-width="3" stroke-linejoin="miter" stroke-miterlimit="8"/>
<polyline points="383.8,1740.7 451.1,1502.5 518.4,1425.6 585.7,1399.6 653,1445 720.3,1391.8 787.6,1401.9 854.9,1384.8 922.2,1407.8 989.5,1407.3 1056.8,1407.8 1124.1,1376.6" fill="none" stroke="#000" stroke-width="3" stroke-linejoin="miter" stroke-miterlimit="8"/>
<polyline points="383.8,1646.7 451.1,1492 518.4,1454.9 585.7,1406.3 653,1475 720.3,1433.8 787.6,1420.3 854.9,1413.8 922.2,1467.4 989.5,1432.5 1056.8,1450.9 1124.1,1436.3" fill="none" stroke="#000" stroke-width="3" stroke-linejoin="miter" stroke-miterlimit="8"/>
<polyline points="383.8,1660.9 451.1,1506.2 518.4,1485.6 585.7,1442.9 653,1494.9 720.3,1469.4 787.6,1460.3 854.9,1439.1 922.2,1492 989.5,1468.3 1056.8,1455.3 1124.1,1472" fill="none" stroke="#000" stroke-width="3" stroke-linejoin="miter" stroke-miterlimit="8"/>
<polyline points="383.8,1858.6 451.1,1555.8 518.4,1498.8 585.7,1412.2 653,1443.7 720.3,1445.2 787.6,1426.3 854.9,1439.7 922.2,1472 989.5,1458.7 1056.8,1411 1124.1,1448.2" fill="none" stroke="#000" stroke-width="3" stroke-linejoin="miter" stroke-miterlimit="8"/>
<polyline points="383.8,1865.4 451.1,1522.6 518.4,1449.8 585.7,1440.9 653,1472.8 720.3,1449.8 787.6,1443.5 854.9,1466.5 922.2,1458.3 989.5,1467.7 1056.8,1459.6 1124.1,1456.9" fill="none" stroke="#000" stroke-width="3" stroke-linejoin="miter" stroke-miterlimit="8"/>
<polyline points="383.8,1854.9 451.1,1853.3 518.4,1575.4 585.7,1427.6 653,1510.6 720.3,1451.4 787.6,1452.3 854.9,1466.5 922.2,1484.2 989.5,1507.7 1056.8,1502.6 1124.1,1496.3" fill="none" stroke="#000" stroke-width="3" stroke-linejoin="miter" stroke-miterlimit="8"/>
<polyline points="383.8,1791.4 451.1,1695.1 518.4,1538.4 585.7,1447.5 653,1493.2 720.3,1456.8 787.6,1439.3 854.9,1435.2 922.2,1493 989.5,1481.2 1056.8,1474.2 1124.1,1454.5" fill="none" stroke="#000" stroke-width="3" stroke-linejoin="miter" stroke-miterlimit="8"/>
<polyline points="383.8,1658.7 451.1,1575.7 518.4,1528.9 585.7,1492.9 653,1570.6 720.3,1517.8 787.6,1534.3 854.9,1531.5 922.2,1586.9 989.5,1565.5 1056.8,1641.7 1124.1,1577" fill="none" stroke="#000" stroke-width="3" stroke-linejoin="miter" stroke-miterlimit="8"/>
<polyline points="383.8,1766.6 451.1,1588.7 518.4,1516.5 585.7,1452.7 653,1542.6 720.3,1484 787.6,1488.6 854.9,1469.1 922.2,1529.4 989.5,1516.2 1056.8,1466.2 1124.1,1510.4" fill="none" stroke="#000" stroke-width="3" stroke-linejoin="miter" stroke-miterlimit="8"/>
<polyline points="383.8,1592.7 451.1,1536.2 518.4,1470.4 585.7,1422.4 653,1502.4 720.3,1470.2 787.6,1478.9 854.9,1474.9 922.2,1475.8 989.5,1490.7 1056.8,1439.5 1124.1,1471.2" fill="none" stroke="#000" stroke-width="3" stroke-linejoin="miter" stroke-miterlimit="8"/>
<polyline points="383.8,1787.9 451.1,1473.2 518.4,1408 585.7,1374.6 653,1443.3 720.3,1410.8 787.6,1407.4 854.9,1387.8 922.2,1425.9 989.5,1402.1 1056.8,1399.6 1124.1,1432.3" fill="none" stroke="#000" stroke-width="3" stroke-linejoin="miter" stroke-miterlimit="8"/>
<polyline points="383.8,1685.4 451.1,1696.4 518.4,1479.6 585.7,1416.8 653,1461.6 720.3,1455.2 787.6,1445.3 854.9,1438.5 922.2,1462.4 989.5,1443.1 1056.8,1472.6 1124.1,1428.7" fill="none" stroke="#000" stroke-width="3" stroke-linejoin="miter" stroke-miterlimit="8"/>
<polyline points="383.8,1568.8 451.1,1465.3 518.4,1411.9 585.7,1408 653,1437.8 720.3,1440.9 787.6,1405.2 854.9,1427.9 922.2,1457.5 989.5,1416.2 1056.8,1430.1 1124.1,1433" fill="none" stroke="#000" stroke-width="3" stroke-linejoin="miter" stroke-miterlimit="8"/>
<polyline points="383.8,1676.6 451.1,1478.6 518.4,1400 585.7,1377.9 653,1417.2 720.3,1397.4 787.6,1402.8 854.9,1376.2 922.2,1449.1 989.5,1417.1 1056.8,1407.9 1124.1,1406" fill="none" stroke="#000" stroke-width="3" stroke-linejoin="miter" stroke-miterlimit="8"/>
<polyline points="383.8,1619.2 451.1,1617.6 518.4,1506.8 585.7,1388.1 653,1439.4 720.3,1409.7 787.6,1427.6 854.9,1434.5 922.2,1439.6 989.5,1441 1056.8,1420.4 1124.1,1436.4" fill="none" stroke="#000" stroke-width="3" stroke-linejoin="miter" stroke-miterlimit="8"/>
<polyline points="383.8,1583.2 451.1,1463.1 518.4,1410 585.7,1402.1 653,1437.3 720.3,1430.6 787.6,1424 854.9,1386.9 922.2,1455.9 989.5,1461 1056.8,1444 1124.1,1438.3" fill="none" stroke="#000" stroke-width="3" stroke-linejoin="miter" stroke-miterlimit="8"/>
<polyline points="383.8,1580.7 451.1,1549.5 518.4,1449 585.7,1410.4 653,1446.9 720.3,1428.3 787.6,1449.1 854.9,1402.6 922.2,1438.9 989.5,1444.1 1056.8,1448.2 1124.1,1407.7" fill="none" stroke="#000" stroke-width="3" stroke-linejoin="miter" stroke-miterlimit="8"/>
<polyline points="383.8,1693.4 451.1,1512.9 518.4,1407.6 585.7,1383.5 653,1438.3 720.3,1418 787.6,1400.2 854.9,1413.6 922.2,1443.3 989.5,1428 1056.8,1426.6 1124.1,1420.1" fill="none" stroke="#000" stroke-width="3" stroke-linejoin="miter" stroke-miterlimit="8"/>
<polyline points="383.8,1629.1 451.1,1558.5 518.4,1451.2 585.7,1366.8 653,1438.2 720.3,1385.6 787.6,1419.6 854.9,1392.5 922.2,1452.3 989.5,1402.9 1056.8,1425 1124.1,1421.1" fill="none" stroke="#000" stroke-width="3" stroke-linejoin="miter" stroke-miterlimit="8"/>
<polyline points="383.8,1804.6 451.1,1749.3 518.4,1683 585.7,1683 653,1625.5 720.3,1590.1 787.6,1616.6 854.9,1594.5 922.2,1627.7 989.5,1605.6 1056.8,1583.4 1124.1,1576.8" fill="none" stroke="#000" stroke-width="3" stroke-linejoin="miter" stroke-miterlimit="8"/>
<polyline points="383.8,1705.1 451.1,1561.3 518.4,1528.1 585.7,1539.2 653,1729.4 720.3,1539.2 787.6,1512.7 854.9,1528.1 922.2,1550.3 989.5,1517.1 1056.8,1616.6 1124.1,1528.1" fill="none" stroke="#000" stroke-width="3" stroke-linejoin="miter" stroke-miterlimit="8"/>
<polyline points="383.8,1660.9 451.1,1583.4 518.4,1539.2 585.7,1638.7 653,1561.3 720.3,1550.3 787.6,1632.1 854.9,1528.1 922.2,1641 989.5,1539.2 1056.8,1556.9 1124.1,1596.7" fill="none" stroke="#000" stroke-width="3" stroke-linejoin="miter" stroke-miterlimit="8"/>
<polyline points="383.8,1605.6 451.1,1439.7 518.4,1395.4 585.7,1366.7 653,1384.4 720.3,1379.9 787.6,1388.8 854.9,1373.3 922.2,1402.1 989.5,1362.2 1056.8,1395.4 1124.1,1388.8" fill="none" stroke="#000" stroke-width="3" stroke-linejoin="miter" stroke-miterlimit="8"/>
<polyline points="383.8,1871 451.1,1866.6 518.4,1649.8 585.7,1398.2 653,1451.7 720.3,1432.4 787.6,1427.2 854.9,1419.5 922.2,1458.9 989.5,1435.9 1056.8,1416.2 1124.1,1454.3" fill="none" stroke="#000" stroke-width="3" stroke-linejoin="miter" stroke-miterlimit="8"/>
<polyline points="383.8,1866.6 451.1,1844.5 518.4,1594.5 585.7,1425.6 653,1486.4 720.3,1445.1 787.6,1442.8 854.9,1441.3 922.2,1470.8 989.5,1468.8 1056.8,1474.4 1124.1,1450.6" fill="none" stroke="#000" stroke-width="3" stroke-linejoin="miter" stroke-miterlimit="8"/>
<polyline points="383.8,1859.9 451.1,1864.4 518.4,1671.9 585.7,1428.9 653,1476.4 720.3,1428.5 787.6,1421.1 854.9,1440.5 922.2,1480.8 989.5,1465.9 1056.8,1455.6 1124.1,1467.6" fill="none" stroke="#000" stroke-width="3" stroke-linejoin="miter" stroke-miterlimit="8"/>
<polyline points="383.8,1864.4 451.1,1815.7 518.4,1561.3 585.7,1429 653,1473.1 720.3,1443.2 787.6,1432.3 854.9,1440.6 922.2,1471.8 989.5,1472.6 1056.8,1435.3 1124.1,1447.4" fill="none" stroke="#000" stroke-width="3" stroke-linejoin="miter" stroke-miterlimit="8"/>
<polyline points="383.8,1853.3 451.1,1782.5 518.4,1539.2 585.7,1421.3 653,1477.2 720.3,1476.2 787.6,1462.4 854.9,1471.1 922.2,1489.6 989.5,1481.8 1056.8,1444.8 1124.1,1473.6" fill="none" stroke="#000" stroke-width="3" stroke-linejoin="miter" stroke-miterlimit="8"/>
<polyline points="383.8,1781.2 451.1,1696.5 518.4,1471.5 585.7,1424.2 653,1471.5 720.3,1435.2 787.6,1419.8 854.9,1418.9 922.2,1466.2 989.5,1458 1056.8,1447.6 1124.1,1477.3" fill="none" stroke="#00FF00" stroke-width="6.6" stroke-linejoin="miter" stroke-miterlimit="8"/>
<polyline points="383.8,1623.7 451.1,1485.9 518.4,1466.6 585.7,1411.6 653,1470.6 720.3,1427.5 787.6,1467.8 854.9,1473.9 922.2,1482.1 989.5,1464.2 1056.8,1447.6 1124.1,1450.7" fill="none" stroke="#FF0FCB" stroke-width="6.6" stroke-linejoin="miter" stroke-miterlimit="8"/>
</g>
<path d="M343.4 1314L343.4 1874.4" stroke-width="7" fill="none" stroke="#000"/>
<path d="M324 1871H343.5M324 1760.4H343.5M324 1649.8H343.5M324 1539.2H343.5M324 1428.6H343.5M324 1318H343.5" stroke="#000" stroke-width="6.9" fill="none"/>
<text x="311.6" y="1885.3" font-size="62" text-anchor="end" textLength="33.6" lengthAdjust="spacingAndGlyphs">0</text>
<text x="311.6" y="1775.6" font-size="62" text-anchor="end" textLength="85.7" lengthAdjust="spacingAndGlyphs">0.5</text>
<text x="311.6" y="1666" font-size="62" text-anchor="end" textLength="85.7" lengthAdjust="spacingAndGlyphs">1.0</text>
<text x="311.6" y="1556.3" font-size="62" text-anchor="end" textLength="85.7" lengthAdjust="spacingAndGlyphs">1.5</text>
<text x="311.6" y="1446.7" font-size="62" text-anchor="end" textLength="85.7" lengthAdjust="spacingAndGlyphs">2.0</text>
<text x="311.6" y="1337" font-size="62" text-anchor="end" textLength="85.7" lengthAdjust="spacingAndGlyphs">2.5</text>
<text x="188.8" y="1739.5" font-size="62" textLength="296.2" lengthAdjust="spacingAndGlyphs" transform="rotate(-90 188.8 1739.5)">LS per min</text>
<path d="M380.6 1905L1127.5 1905" stroke-width="7" fill="none" stroke="#000"/>
<path d="M383.8 1905V1927M518.4 1905V1927M720.3 1905V1927M922.2 1905V1927M1124.1 1905V1927" stroke="#000" stroke-width="6.9" fill="none"/>
<text x="385.3" y="1986.1" font-size="62" text-anchor="middle" textLength="33.6" lengthAdjust="spacingAndGlyphs">0</text>
<text x="519.9" y="1986.1" font-size="62" text-anchor="middle" textLength="33.6" lengthAdjust="spacingAndGlyphs">3</text>
<text x="721.8" y="1986.1" font-size="62" text-anchor="middle" textLength="33.6" lengthAdjust="spacingAndGlyphs">6</text>
<text x="923.7" y="1986.1" font-size="62" text-anchor="middle" textLength="33.6" lengthAdjust="spacingAndGlyphs">9</text>
<text x="1129.1" y="1986.1" font-size="62" text-anchor="middle" textLength="62.6" lengthAdjust="spacingAndGlyphs">12</text>
<text x="533.7" y="2082.2" font-size="62" textLength="451.6" lengthAdjust="spacingAndGlyphs">Acquisition days</text>
<path d="M383 1340.5L592.1 1340.5" stroke-width="6.9" fill="none" stroke="#000"/>
<text x="486.6" y="1326.7" font-size="62" text-anchor="middle" textLength="104.7" lengthAdjust="spacingAndGlyphs">FR1</text>
<path d="M653 1340.5L860.4 1340.5" stroke-width="6.9" fill="none" stroke="#000"/>
<text x="755.7" y="1326.7" font-size="62" text-anchor="middle" textLength="104.7" lengthAdjust="spacingAndGlyphs">FR2</text>
<path d="M918.2 1340.5L1125.5 1340.5" stroke-width="6.9" fill="none" stroke="#000"/>
<text x="1020.9" y="1326.7" font-size="62" text-anchor="middle" textLength="104.7" lengthAdjust="spacingAndGlyphs">FR3</text>
<g>
<polyline points="1424.4,1413.8 1491.7,1454.5 1559,1375.9 1626.3,1569.9 1693.6,1627.3 1760.9,1585.1 1828.2,1571.1" fill="none" stroke="#000" stroke-width="3" stroke-linejoin="miter" stroke-miterlimit="8"/>
<polyline points="1424.4,1472.2 1491.7,1455.8 1559,1437.9 1626.3,1734.3 1693.6,1842.1 1760.9,1803.8 1828.2,1829.2" fill="none" stroke="#000" stroke-width="3" stroke-linejoin="miter" stroke-miterlimit="8"/>
<polyline points="1424.4,1443.4 1491.7,1455.8 1559,1431.8 1626.3,1529.8 1693.6,1697.2 1760.9,1638.8 1828.2,1584.5" fill="none" stroke="#000" stroke-width="3" stroke-linejoin="miter" stroke-miterlimit="8"/>
<polyline points="1424.4,1492.3 1491.7,1435.7 1559,1430.4 1626.3,1670.4 1693.6,1855.2 1760.9,1851 1828.2,1858.8" fill="none" stroke="#000" stroke-width="3" stroke-linejoin="miter" stroke-miterlimit="8"/>
<polyline points="1424.4,1411.1 1491.7,1477.4 1559,1462.1 1626.3,1583.5 1693.6,1639.5 1760.9,1583.1 1828.2,1524.3" fill="none" stroke="#000" stroke-width="3" stroke-linejoin="miter" stroke-miterlimit="8"/>
<polyline points="1424.4,1527.6 1491.7,1469.5 1559,1424.2 1626.3,1655.3 1693.6,1795.8 1760.9,1804.9 1828.2,1795.4" fill="none" stroke="#000" stroke-width="3" stroke-linejoin="miter" stroke-miterlimit="8"/>
<polyline points="1424.4,1393.9 1491.7,1421 1559,1433.4 1626.3,1748.2 1693.6,1673.1 1760.9,1655.9 1828.2,1786.7" fill="none" stroke="#000" stroke-width="3" stroke-linejoin="miter" stroke-miterlimit="8"/>
<polyline points="1424.4,1486.6 1491.7,1499.3 1559,1519.1 1626.3,1565 1693.6,1518.1 1760.9,1470.8 1828.2,1473.7" fill="none" stroke="#000" stroke-width="3" stroke-linejoin="miter" stroke-miterlimit="8"/>
<polyline points="1424.4,1415.3 1491.7,1424.8 1559,1366.4 1626.3,1758.7 1693.6,1507.2 1760.9,1594.9 1828.2,1554.2" fill="none" stroke="#000" stroke-width="3" stroke-linejoin="miter" stroke-miterlimit="8"/>
<polyline points="1424.4,1383.1 1491.7,1378.4 1559,1365.9 1626.3,1476.3 1693.6,1637.5 1760.9,1584.4 1828.2,1519" fill="none" stroke="#000" stroke-width="3" stroke-linejoin="miter" stroke-miterlimit="8"/>
<polyline points="1424.4,1402 1491.7,1468.8 1559,1428.7 1626.3,1825 1693.6,1647.7 1760.9,1767.2 1828.2,1832.8" fill="none" stroke="#000" stroke-width="3" stroke-linejoin="miter" stroke-miterlimit="8"/>
<polyline points="1424.4,1446.6 1491.7,1457.9 1559,1444.8 1626.3,1492.2 1693.6,1503.4 1760.9,1533.1 1828.2,1509.6" fill="none" stroke="#000" stroke-width="3" stroke-linejoin="miter" stroke-miterlimit="8"/>
<polyline points="1424.4,1457.5 1491.7,1441 1559,1463 1626.3,1759.1 1693.6,1788 1760.9,1787.8 1828.2,1779.7" fill="none" stroke="#000" stroke-width="3" stroke-linejoin="miter" stroke-miterlimit="8"/>
<polyline points="1424.4,1451.8 1491.7,1428 1559,1488.6 1626.3,1567.6 1693.6,1513.1 1760.9,1451.5 1828.2,1438.2" fill="none" stroke="#000" stroke-width="3" stroke-linejoin="miter" stroke-miterlimit="8"/>
<polyline points="1424.4,1548.5 1491.7,1439.5 1559,1422.2 1626.3,1541 1693.6,1682.2 1760.9,1502.8 1828.2,1472.9" fill="none" stroke="#000" stroke-width="3" stroke-linejoin="miter" stroke-miterlimit="8"/>
<polyline points="1424.4,1377.6 1491.7,1381.5 1559,1378.1 1626.3,1590 1693.6,1651.6 1760.9,1613.7 1828.2,1561.8" fill="none" stroke="#000" stroke-width="3" stroke-linejoin="miter" stroke-miterlimit="8"/>
<polyline points="1424.4,1422.5 1491.7,1462.5 1559,1481.4 1626.3,1499.8 1693.6,1594.7 1760.9,1524.6 1828.2,1523.8" fill="none" stroke="#000" stroke-width="3" stroke-linejoin="miter" stroke-miterlimit="8"/>
<polyline points="1424.4,1381.3 1491.7,1375.2 1559,1396.2 1626.3,1520.8 1693.6,1626.5 1760.9,1622.9 1828.2,1587.2" fill="none" stroke="#000" stroke-width="3" stroke-linejoin="miter" stroke-miterlimit="8"/>
<polyline points="1424.4,1385.8 1491.7,1369.8 1559,1393.1 1626.3,1545.6 1693.6,1690.7 1760.9,1607.3 1828.2,1531.6" fill="none" stroke="#000" stroke-width="3" stroke-linejoin="miter" stroke-miterlimit="8"/>
<polyline points="1424.4,1558.1 1491.7,1462.9 1559,1478.9 1626.3,1737.9 1693.6,1825.8 1760.9,1858.9 1828.2,1860.7" fill="none" stroke="#000" stroke-width="3" stroke-linejoin="miter" stroke-miterlimit="8"/>
<polyline points="1424.4,1491.7 1491.7,1518.6 1559,1465.6 1626.3,1540.6 1693.6,1501.9 1760.9,1434.6 1828.2,1406.1" fill="none" stroke="#000" stroke-width="3" stroke-linejoin="miter" stroke-miterlimit="8"/>
<polyline points="1424.4,1435.1 1491.7,1411.4 1559,1443.6 1626.3,1504.6 1693.6,1570.1 1760.9,1536.8 1828.2,1490.2" fill="none" stroke="#000" stroke-width="3" stroke-linejoin="miter" stroke-miterlimit="8"/>
<polyline points="1424.4,1434.5 1491.7,1423.5 1559,1415.2 1626.3,1769 1693.6,1869.1 1760.9,1857.1 1828.2,1849.9" fill="none" stroke="#000" stroke-width="3" stroke-linejoin="miter" stroke-miterlimit="8"/>
<polyline points="1424.4,1427.7 1491.7,1442.6 1559,1405.7 1626.3,1784 1693.6,1841.7 1760.9,1845.8 1828.2,1855.9" fill="none" stroke="#000" stroke-width="3" stroke-linejoin="miter" stroke-miterlimit="8"/>
<polyline points="1424.4,1423.6 1491.7,1383.6 1559,1422.2 1626.3,1641 1693.6,1691.1 1760.9,1619.9 1828.2,1609.1" fill="none" stroke="#000" stroke-width="3" stroke-linejoin="miter" stroke-miterlimit="8"/>
<polyline points="1424.4,1479.8 1491.7,1519.9 1559,1471.6 1626.3,1578.1 1693.6,1600.5 1760.9,1577.9 1828.2,1549.3" fill="none" stroke="#000" stroke-width="3" stroke-linejoin="miter" stroke-miterlimit="8"/>
<polyline points="1424.4,1522.5 1491.7,1528.7 1559,1432.7 1626.3,1760.6 1693.6,1854.9 1760.9,1853.1 1828.2,1849.2" fill="none" stroke="#000" stroke-width="3" stroke-linejoin="miter" stroke-miterlimit="8"/>
<polyline points="1424.4,1489.9 1491.7,1523.2 1559,1451 1626.3,1464.9 1693.6,1601 1760.9,1466.3 1828.2,1433.4" fill="none" stroke="#000" stroke-width="3" stroke-linejoin="miter" stroke-miterlimit="8"/>
<polyline points="1424.4,1415.4 1491.7,1480.2 1559,1414.7 1626.3,1756.6 1693.6,1786 1760.9,1780 1828.2,1802.6" fill="none" stroke="#000" stroke-width="3" stroke-linejoin="miter" stroke-miterlimit="8"/>
<polyline points="1424.4,1523.3 1491.7,1490.9 1559,1519.4 1626.3,1544.1 1693.6,1464.4 1760.9,1441.5 1828.2,1449.6" fill="none" stroke="#000" stroke-width="3" stroke-linejoin="miter" stroke-miterlimit="8"/>
<polyline points="1424.4,1500.2 1491.7,1472.1 1559,1456.2 1626.3,1523.4 1693.6,1603.9 1760.9,1547.9 1828.2,1544.6" fill="none" stroke="#000" stroke-width="3" stroke-linejoin="miter" stroke-miterlimit="8"/>
<polyline points="1424.4,1356 1491.7,1455.4 1559,1441.6 1626.3,1795.9 1693.6,1671.4 1760.9,1658.7 1828.2,1735.5" fill="none" stroke="#000" stroke-width="3" stroke-linejoin="miter" stroke-miterlimit="8"/>
<polyline points="1424.4,1480.7 1491.7,1429.2 1559,1457.8 1626.3,1756.7 1693.6,1703.2 1760.9,1779.1 1828.2,1805" fill="none" stroke="#000" stroke-width="3" stroke-linejoin="miter" stroke-miterlimit="8"/>
<polyline points="1424.4,1451.8 1491.7,1392.7 1559,1418 1626.3,1694.6 1693.6,1859.5 1760.9,1861.1 1828.2,1866.7" fill="none" stroke="#000" stroke-width="3" stroke-linejoin="miter" stroke-miterlimit="8"/>
<polyline points="1424.4,1435.7 1491.7,1417.7 1559,1431 1626.3,1856.5 1693.6,1867.3 1760.9,1866.2 1828.2,1859.4" fill="none" stroke="#000" stroke-width="3" stroke-linejoin="miter" stroke-miterlimit="8"/>
<polyline points="1424.4,1387.2 1491.7,1376.4 1559,1412.9 1626.3,1677.4 1693.6,1706.8 1760.9,1623.3 1828.2,1557.4" fill="none" stroke="#000" stroke-width="3" stroke-linejoin="miter" stroke-miterlimit="8"/>
<polyline points="1424.4,1403.7 1491.7,1429.5 1559,1383 1626.3,1523.1 1693.6,1520.3 1760.9,1580.1 1828.2,1516.4" fill="none" stroke="#000" stroke-width="3" stroke-linejoin="miter" stroke-miterlimit="8"/>
<polyline points="1424.4,1403.3 1491.7,1441.3 1559,1395.5 1626.3,1641.4 1693.6,1499.7 1760.9,1479.7 1828.2,1495.5" fill="none" stroke="#000" stroke-width="3" stroke-linejoin="miter" stroke-miterlimit="8"/>
<polyline points="1424.4,1520 1491.7,1446.1 1559,1457.1 1626.3,1520.4 1693.6,1802 1760.9,1804.1 1828.2,1834" fill="none" stroke="#000" stroke-width="3" stroke-linejoin="miter" stroke-miterlimit="8"/>
<polyline points="1424.4,1486.5 1491.7,1442.9 1559,1487.1 1626.3,1712.5 1693.6,1528.1 1760.9,1482.7 1828.2,1471.9" fill="none" stroke="#000" stroke-width="3" stroke-linejoin="miter" stroke-miterlimit="8"/>
<polyline points="1424.4,1412 1491.7,1436.8 1559,1458.5 1626.3,1601.4 1693.6,1837.8 1760.9,1810.7 1828.2,1829.2" fill="none" stroke="#000" stroke-width="3" stroke-linejoin="miter" stroke-miterlimit="8"/>
<polyline points="1424.4,1529.4 1491.7,1455 1559,1497.4 1626.3,1420.9 1693.6,1508.3 1760.9,1462.3 1828.2,1471.5" fill="none" stroke="#000" stroke-width="3" stroke-linejoin="miter" stroke-miterlimit="8"/>
<polyline points="1424.4,1434 1491.7,1525.7 1559,1490.4 1626.3,1442 1693.6,1567.8 1760.9,1526.4 1828.2,1475.7" fill="none" stroke="#000" stroke-width="3" stroke-linejoin="miter" stroke-miterlimit="8"/>
<polyline points="1424.4,1382.5 1491.7,1438.5 1559,1446.1 1626.3,1796.2 1693.6,1861.7 1760.9,1850.5 1828.2,1858.9" fill="none" stroke="#000" stroke-width="3" stroke-linejoin="miter" stroke-miterlimit="8"/>
<polyline points="1424.4,1407.5 1491.7,1438.2 1559,1433.3 1626.3,1512.8 1693.6,1447.3 1760.9,1507.3 1828.2,1479" fill="none" stroke="#000" stroke-width="3" stroke-linejoin="miter" stroke-miterlimit="8"/>
<polyline points="1424.4,1431.4 1491.7,1471.7 1559,1452.9 1626.3,1649.4 1693.6,1632.1 1760.9,1590.4 1828.2,1543.4" fill="none" stroke="#000" stroke-width="3" stroke-linejoin="miter" stroke-miterlimit="8"/>
<polyline points="1424.4,1425.6 1491.7,1450.4 1559,1480.5 1626.3,1539.8 1693.6,1656.1 1760.9,1570.7 1828.2,1535.8" fill="none" stroke="#000" stroke-width="3" stroke-linejoin="miter" stroke-miterlimit="8"/>
<polyline points="1424.4,1422.1 1491.7,1534.6 1559,1493.9 1626.3,1628.7 1693.6,1644.9 1760.9,1529.2 1828.2,1516.4" fill="none" stroke="#000" stroke-width="3" stroke-linejoin="miter" stroke-miterlimit="8"/>
<polyline points="1424.4,1473.5 1491.7,1464.4 1559,1471 1626.3,1681 1693.6,1777.2 1760.9,1646.3 1828.2,1640.5" fill="none" stroke="#000" stroke-width="3" stroke-linejoin="miter" stroke-miterlimit="8"/>
<polyline points="1424.4,1392.4 1491.7,1422.5 1559,1427.7 1626.3,1587.3 1693.6,1675.3 1760.9,1631.4 1828.2,1631.3" fill="none" stroke="#000" stroke-width="3" stroke-linejoin="miter" stroke-miterlimit="8"/>
<polyline points="1424.4,1397 1491.7,1381.7 1559,1391.9 1626.3,1792.9 1693.6,1779.8 1760.9,1809 1828.2,1825.5" fill="none" stroke="#000" stroke-width="3" stroke-linejoin="miter" stroke-miterlimit="8"/>
<polyline points="1424.4,1531 1491.7,1481.6 1559,1456.6 1626.3,1565.6 1693.6,1600 1760.9,1512.7 1828.2,1516.1" fill="none" stroke="#000" stroke-width="3" stroke-linejoin="miter" stroke-miterlimit="8"/>
<polyline points="1424.4,1387.3 1491.7,1441 1559,1367 1626.3,1515 1693.6,1520.7 1760.9,1468.1 1828.2,1483.9" fill="none" stroke="#000" stroke-width="3" stroke-linejoin="miter" stroke-miterlimit="8"/>
<polyline points="1424.4,1388.1 1491.7,1412.3 1559,1394.7 1626.3,1833.7 1693.6,1856.4 1760.9,1860.2 1828.2,1843.9" fill="none" stroke="#000" stroke-width="3" stroke-linejoin="miter" stroke-miterlimit="8"/>
<polyline points="1424.4,1491.7 1491.7,1470 1559,1437.8 1626.3,1472.7 1693.6,1651.5 1760.9,1554.1 1828.2,1518.1" fill="none" stroke="#000" stroke-width="3" stroke-linejoin="miter" stroke-miterlimit="8"/>
<polyline points="1424.4,1470.2 1491.7,1421.1 1559,1446.5 1626.3,1716.1 1693.6,1797.4 1760.9,1815.9 1828.2,1807.8" fill="none" stroke="#000" stroke-width="3" stroke-linejoin="miter" stroke-miterlimit="8"/>
<polyline points="1424.4,1431.2 1491.7,1425.9 1559,1358 1626.3,1836.1 1693.6,1843.6 1760.9,1826.1 1828.2,1853.6" fill="none" stroke="#000" stroke-width="3" stroke-linejoin="miter" stroke-miterlimit="8"/>
<polyline points="1424.4,1381.6 1491.7,1390.7 1559,1388.1 1626.3,1761.2 1693.6,1739 1760.9,1851.1 1828.2,1851.7" fill="none" stroke="#000" stroke-width="3" stroke-linejoin="miter" stroke-miterlimit="8"/>
<polyline points="1424.4,1396.2 1491.7,1463.4 1559,1466.9 1626.3,1705.3 1693.6,1699.3 1760.9,1633.5 1828.2,1644.3" fill="none" stroke="#000" stroke-width="3" stroke-linejoin="miter" stroke-miterlimit="8"/>
<polyline points="1424.4,1400.4 1491.7,1431.2 1559,1451.5 1626.3,1784.1 1693.6,1839.8 1760.9,1812.2 1828.2,1837.5" fill="none" stroke="#000" stroke-width="3" stroke-linejoin="miter" stroke-miterlimit="8"/>
<polyline points="1424.4,1380.4 1491.7,1392.5 1559,1385.1 1626.3,1739.6 1693.6,1824.4 1760.9,1832.7 1828.2,1828.5" fill="none" stroke="#000" stroke-width="3" stroke-linejoin="miter" stroke-miterlimit="8"/>
<polyline points="1424.4,1501.4 1491.7,1463.4 1559,1523.3 1626.3,1804.7 1693.6,1863.3 1760.9,1864.9 1828.2,1859.2" fill="none" stroke="#000" stroke-width="3" stroke-linejoin="miter" stroke-miterlimit="8"/>
<polyline points="1424.4,1442.5 1491.7,1454.2 1559,1460.3 1626.3,1644.8 1693.6,1849.8 1760.9,1800.7 1828.2,1806.3" fill="none" stroke="#000" stroke-width="3" stroke-linejoin="miter" stroke-miterlimit="8"/>
<polyline points="1424.4,1487.2 1491.7,1459.9 1559,1470.1 1626.3,1600.5 1693.6,1648.8 1760.9,1551.4 1828.2,1513" fill="none" stroke="#000" stroke-width="3" stroke-linejoin="miter" stroke-miterlimit="8"/>
<polyline points="1424.4,1432 1491.7,1379 1559,1397.5 1626.3,1751.3 1693.6,1864 1760.9,1866.7 1828.2,1867.3" fill="none" stroke="#000" stroke-width="3" stroke-linejoin="miter" stroke-miterlimit="8"/>
<polyline points="1424.4,1436.3 1491.7,1404.5 1559,1431.1 1626.3,1694 1693.6,1697.7 1760.9,1641.9 1828.2,1780" fill="none" stroke="#000" stroke-width="3" stroke-linejoin="miter" stroke-miterlimit="8"/>
<polyline points="1424.4,1488.9 1491.7,1511.4 1559,1461.1 1626.3,1552.9 1693.6,1672.1 1760.9,1611.9 1828.2,1580.2" fill="none" stroke="#000" stroke-width="3" stroke-linejoin="miter" stroke-miterlimit="8"/>
<polyline points="1424.4,1418.6 1491.7,1394.6 1559,1440 1626.3,1806.8 1693.6,1854.8 1760.9,1863.4 1828.2,1860.6" fill="none" stroke="#000" stroke-width="3" stroke-linejoin="miter" stroke-miterlimit="8"/>
<polyline points="1424.4,1448.7 1491.7,1380.7 1559,1420.6 1626.3,1764.1 1693.6,1799.2 1760.9,1810.9 1828.2,1824.8" fill="none" stroke="#000" stroke-width="3" stroke-linejoin="miter" stroke-miterlimit="8"/>
<polyline points="1424.4,1473.2 1491.7,1451.5 1559,1489 1626.3,1592.4 1693.6,1512.3 1760.9,1504.5 1828.2,1468.3" fill="none" stroke="#000" stroke-width="3" stroke-linejoin="miter" stroke-miterlimit="8"/>
<polyline points="1424.4,1443.4 1491.7,1431.2 1559,1454.2 1626.3,1438 1693.6,1471.6 1760.9,1439.6 1828.2,1421.7" fill="none" stroke="#000" stroke-width="3" stroke-linejoin="miter" stroke-miterlimit="8"/>
<polyline points="1424.4,1385.3 1491.7,1390.7 1559,1414.5 1626.3,1463.2 1693.6,1601.3 1760.9,1521.9 1828.2,1510.1" fill="none" stroke="#000" stroke-width="3" stroke-linejoin="miter" stroke-miterlimit="8"/>
<polyline points="1424.4,1462.1 1491.7,1451.3 1559,1483.8 1626.3,1593.7 1693.6,1843.1 1760.9,1852.9 1828.2,1856.2" fill="none" stroke="#000" stroke-width="3" stroke-linejoin="miter" stroke-miterlimit="8"/>
<polyline points="1424.4,1444 1491.7,1402.8 1559,1383.6 1626.3,1470.5 1693.6,1586.7 1760.9,1555.6 1828.2,1534.3" fill="none" stroke="#000" stroke-width="3" stroke-linejoin="miter" stroke-miterlimit="8"/>
<polyline points="1424.4,1384.2 1491.7,1379 1559,1412.4 1626.3,1651.1 1693.6,1765.4 1760.9,1682.3 1828.2,1651.9" fill="none" stroke="#000" stroke-width="3" stroke-linejoin="miter" stroke-miterlimit="8"/>
<polyline points="1424.4,1426.8 1491.7,1489 1559,1374.3 1626.3,1786 1693.6,1844.6 1760.9,1839.2 1828.2,1865.9" fill="none" stroke="#000" stroke-width="3" stroke-linejoin="miter" stroke-miterlimit="8"/>
<polyline points="1424.4,1463.9 1491.7,1400.9 1559,1468 1626.3,1639.4 1693.6,1788 1760.9,1636.2 1828.2,1782.1" fill="none" stroke="#000" stroke-width="3" stroke-linejoin="miter" stroke-miterlimit="8"/>
<polyline points="1424.4,1509.4 1491.7,1498.8 1559,1468.4 1626.3,1528.4 1693.6,1618.6 1760.9,1480.5 1828.2,1395.6" fill="none" stroke="#000" stroke-width="3" stroke-linejoin="miter" stroke-miterlimit="8"/>
<polyline points="1424.4,1462.8 1491.7,1545.3 1559,1497.9 1626.3,1421.9 1693.6,1619.6 1760.9,1487.4 1828.2,1493.2" fill="none" stroke="#000" stroke-width="3" stroke-linejoin="miter" stroke-miterlimit="8"/>
<polyline points="1424.4,1383.9 1491.7,1409.8 1559,1437.6 1626.3,1626.7 1693.6,1711.8 1760.9,1772.2 1828.2,1808.1" fill="none" stroke="#000" stroke-width="3" stroke-linejoin="miter" stroke-miterlimit="8"/>
<polyline points="1424.4,1380.5 1491.7,1438.4 1559,1418 1626.3,1830.3 1693.6,1857.7 1760.9,1860.5 1828.2,1866.2" fill="none" stroke="#000" stroke-width="3" stroke-linejoin="miter" stroke-miterlimit="8"/>
<polyline points="1424.4,1455.6 1491.7,1358.2 1559,1381.1 1626.3,1573.6 1693.6,1463 1760.9,1479.3 1828.2,1448.8" fill="none" stroke="#000" stroke-width="3" stroke-linejoin="miter" stroke-miterlimit="8"/>
<polyline points="1424.4,1440.7 1491.7,1424.8 1559,1463.9 1626.3,1417 1693.6,1483.2 1760.9,1435.6 1828.2,1439.9" fill="none" stroke="#000" stroke-width="3" stroke-linejoin="miter" stroke-miterlimit="8"/>
<polyline points="1424.4,1441.3 1491.7,1471.5 1559,1397.1 1626.3,1635.1 1693.6,1670.1 1760.9,1653.6 1828.2,1595.3" fill="none" stroke="#000" stroke-width="3" stroke-linejoin="miter" stroke-miterlimit="8"/>
<polyline points="1424.4,1428.1 1491.7,1429.3 1559,1452.2 1626.3,1777 1693.6,1810.9 1760.9,1843.9 1828.2,1840.3" fill="none" stroke="#000" stroke-width="3" stroke-linejoin="miter" stroke-miterlimit="8"/>
<polyline points="1424.4,1424.9 1491.7,1429.8 1559,1420.3 1626.3,1548.1 1693.6,1649.3 1760.9,1649.5 1828.2,1612.5" fill="none" stroke="#000" stroke-width="3" stroke-linejoin="miter" stroke-miterlimit="8"/>
<polyline points="1424.4,1477.9 1491.7,1408.2 1559,1443.7 1626.3,1612.9 1693.6,1659.8 1760.9,1582.8 1828.2,1502.4" fill="none" stroke="#000" stroke-width="3" stroke-linejoin="miter" stroke-miterlimit="8"/>
<polyline points="1424.4,1412.5 1491.7,1468.3 1559,1432.7 1626.3,1698.9 1693.6,1754.8 1760.9,1675.9 1828.2,1743.9" fill="none" stroke="#000" stroke-width="3" stroke-linejoin="miter" stroke-miterlimit="8"/>
<polyline points="1424.4,1432.6 1491.7,1528.3 1559,1487.1 1626.3,1746.9 1693.6,1823.9 1760.9,1778.3 1828.2,1817.8" fill="none" stroke="#000" stroke-width="3" stroke-linejoin="miter" stroke-miterlimit="8"/>
<polyline points="1424.4,1458.1 1491.7,1426.9 1559,1377 1626.3,1847.9 1693.6,1856 1760.9,1831.4 1828.2,1840.4" fill="none" stroke="#000" stroke-width="3" stroke-linejoin="miter" stroke-miterlimit="8"/>
<polyline points="1424.4,1425.7 1491.7,1486.8 1559,1449.3 1626.3,1660.7 1693.6,1824.1 1760.9,1801.5 1828.2,1827.9" fill="none" stroke="#000" stroke-width="3" stroke-linejoin="miter" stroke-miterlimit="8"/>
<polyline points="1424.4,1465.4 1491.7,1528.1 1559,1493.5 1626.3,1855 1693.6,1851.7 1760.9,1865.6 1828.2,1865.6" fill="none" stroke="#000" stroke-width="3" stroke-linejoin="miter" stroke-miterlimit="8"/>
<polyline points="1424.4,1509.8 1491.7,1547.2 1559,1497.7 1626.3,1784.5 1693.6,1845.8 1760.9,1812.7 1828.2,1829.7" fill="none" stroke="#000" stroke-width="3" stroke-linejoin="miter" stroke-miterlimit="8"/>
<polyline points="1424.4,1445.9 1491.7,1463.3 1559,1515.7 1626.3,1562.2 1693.6,1445.7 1760.9,1479.4 1828.2,1449.2" fill="none" stroke="#000" stroke-width="3" stroke-linejoin="miter" stroke-miterlimit="8"/>
<polyline points="1424.4,1422 1491.7,1369.5 1559,1437.1 1626.3,1782.4 1693.6,1864 1760.9,1869 1828.2,1867.5" fill="none" stroke="#000" stroke-width="3" stroke-linejoin="miter" stroke-miterlimit="8"/>
<polyline points="1424.4,1383.9 1491.7,1465.4 1559,1411.3 1626.3,1591.3 1693.6,1641.5 1760.9,1584.6 1828.2,1526.4" fill="none" stroke="#000" stroke-width="3" stroke-linejoin="miter" stroke-miterlimit="8"/>
<polyline points="1424.4,1412.6 1491.7,1374.9 1559,1429.9 1626.3,1548.9 1693.6,1620.8 1760.9,1536.8 1828.2,1521.9" fill="none" stroke="#000" stroke-width="3" stroke-linejoin="miter" stroke-miterlimit="8"/>
<polyline points="1424.4,1474.4 1491.7,1462.5 1559,1473.7 1626.3,1797.7 1693.6,1829.5 1760.9,1740.1 1828.2,1801.5" fill="none" stroke="#000" stroke-width="3" stroke-linejoin="miter" stroke-miterlimit="8"/>
<polyline points="1424.4,1494.9 1491.7,1425.7 1559,1492.5 1626.3,1637.3 1693.6,1655.2 1760.9,1615.4 1828.2,1620.3" fill="none" stroke="#000" stroke-width="3" stroke-linejoin="miter" stroke-miterlimit="8"/>
<polyline points="1424.4,1470.5 1491.7,1434.7 1559,1407.1 1626.3,1825.4 1693.6,1844 1760.9,1853.2 1828.2,1851.4" fill="none" stroke="#000" stroke-width="3" stroke-linejoin="miter" stroke-miterlimit="8"/>
<polyline points="1424.4,1391.2 1491.7,1404.9 1559,1419.9 1626.3,1581.2 1693.6,1597.8 1760.9,1599.6 1828.2,1578.3" fill="none" stroke="#000" stroke-width="3" stroke-linejoin="miter" stroke-miterlimit="8"/>
<polyline points="1424.4,1431.2 1491.7,1413.4 1559,1448.3 1626.3,1564.3 1693.6,1613.8 1760.9,1611.4 1828.2,1538.5" fill="none" stroke="#000" stroke-width="3" stroke-linejoin="miter" stroke-miterlimit="8"/>
<polyline points="1424.4,1422.5 1491.7,1416.8 1559,1387.8 1626.3,1586.2 1693.6,1612.6 1760.9,1549.4 1828.2,1556" fill="none" stroke="#000" stroke-width="3" stroke-linejoin="miter" stroke-miterlimit="8"/>
<polyline points="1424.4,1477 1491.7,1468.6 1559,1438.2 1626.3,1512.2 1693.6,1753.6 1760.9,1716.3 1828.2,1723.2" fill="none" stroke="#000" stroke-width="3" stroke-linejoin="miter" stroke-miterlimit="8"/>
<polyline points="1424.4,1569.6 1491.7,1457.5 1559,1476.1 1626.3,1454.5 1693.6,1606.3 1760.9,1471.5 1828.2,1442.2" fill="none" stroke="#000" stroke-width="3" stroke-linejoin="miter" stroke-miterlimit="8"/>
<polyline points="1424.4,1419.7 1491.7,1440.4 1559,1441 1626.3,1485.3 1693.6,1587.6 1760.9,1536.5 1828.2,1512.8" fill="none" stroke="#000" stroke-width="3" stroke-linejoin="miter" stroke-miterlimit="8"/>
<polyline points="1424.4,1507.3 1491.7,1519.2 1559,1481.7 1626.3,1616.5 1693.6,1706.5 1760.9,1613.8 1828.2,1596.8" fill="none" stroke="#000" stroke-width="3" stroke-linejoin="miter" stroke-miterlimit="8"/>
<polyline points="1424.4,1444.3 1491.7,1398.2 1559,1484.5 1626.3,1592.8 1693.6,1613.5 1760.9,1616 1828.2,1571.6" fill="none" stroke="#000" stroke-width="3" stroke-linejoin="miter" stroke-miterlimit="8"/>
<polyline points="1424.4,1430.6 1491.7,1475.9 1559,1481.2 1626.3,1657.2 1693.6,1838.6 1760.9,1826.2 1828.2,1823.8" fill="none" stroke="#000" stroke-width="3" stroke-linejoin="miter" stroke-miterlimit="8"/>
<polyline points="1424.4,1468 1491.7,1442.6 1559,1445.7 1626.3,1847.2 1693.6,1802.7 1760.9,1846.1 1828.2,1837" fill="none" stroke="#00FF00" stroke-width="6.6" stroke-linejoin="miter" stroke-miterlimit="8"/>
<polyline points="1424.4,1457.6 1491.7,1463.2 1559,1422 1626.3,1522.7 1693.6,1505.4 1760.9,1511.8 1828.2,1464.3" fill="none" stroke="#FF0FCB" stroke-width="6.6" stroke-linejoin="miter" stroke-miterlimit="8"/>
</g>
<path d="M1384.6 1315L1384.6 1872.6" stroke-width="7" fill="none" stroke="#000"/>
<path d="M1369.3 1869.5H1385M1369.3 1758.9H1385M1369.3 1648.3H1385M1369.3 1537.7H1385M1369.3 1427.1H1385M1369.3 1316.5H1385" stroke="#000" stroke-width="6.9" fill="none"/>
<text x="1357.1" y="1887.3" font-size="62" text-anchor="end" textLength="33.6" lengthAdjust="spacingAndGlyphs">0</text>
<text x="1356.6" y="1777.9" font-size="62" text-anchor="end" textLength="85.2" lengthAdjust="spacingAndGlyphs">0.5</text>
<text x="1356.6" y="1668.5" font-size="62" text-anchor="end" textLength="85.2" lengthAdjust="spacingAndGlyphs">1.0</text>
<text x="1356.6" y="1559.1" font-size="62" text-anchor="end" textLength="85.2" lengthAdjust="spacingAndGlyphs">1.5</text>
<text x="1356.6" y="1449.7" font-size="62" text-anchor="end" textLength="85.2" lengthAdjust="spacingAndGlyphs">2.0</text>
<text x="1356.6" y="1340.3" font-size="62" text-anchor="end" textLength="85.2" lengthAdjust="spacingAndGlyphs">2.5</text>
<text x="1219.4" y="1739.5" font-size="62" textLength="296.2" lengthAdjust="spacingAndGlyphs" transform="rotate(-90 1219.4 1739.5)">LS per min</text>
<text x="1615.7" y="1339.1" font-size="62" textLength="206" lengthAdjust="spacingAndGlyphs"><tspan font-style="italic">n</tspan> = 109</text>
<path d="M1420 1901.3L1831.3 1901.3" stroke-width="7" fill="none" stroke="#000"/>
<path d="M1423.1 1901.3V1923M1490.6 1901.3V1923M1558.4 1901.3V1923M1625.9 1901.3V1923M1693.4 1901.3V1923M1761.2 1901.3V1923M1828.2 1901.3V1923" stroke="#000" stroke-width="6.9" fill="none"/>
<text x="1423.1" y="1976.6" font-size="62" text-anchor="middle" textLength="33.6" lengthAdjust="spacingAndGlyphs">1</text>
<text x="1490.6" y="1976.6" font-size="62" text-anchor="middle" textLength="33.6" lengthAdjust="spacingAndGlyphs">2</text>
<text x="1558.4" y="1976.6" font-size="62" text-anchor="middle" textLength="33.6" lengthAdjust="spacingAndGlyphs">3</text>
<text x="1625.9" y="1976.6" font-size="62" text-anchor="middle" textLength="33.6" lengthAdjust="spacingAndGlyphs">1</text>
<text x="1693.4" y="1976.6" font-size="62" text-anchor="middle" textLength="33.6" lengthAdjust="spacingAndGlyphs">2</text>
<text x="1761.2" y="1976.6" font-size="62" text-anchor="middle" textLength="33.6" lengthAdjust="spacingAndGlyphs">3</text>
<text x="1828.2" y="1976.6" font-size="62" text-anchor="middle" textLength="33.6" lengthAdjust="spacingAndGlyphs">4</text>
<path d="M1419 2002.2L1565.9 2002.2" stroke-width="6.4" fill="none" stroke="#000"/>
<path d="M1610.2 2002.2L1828.7 2002.2" stroke-width="6.4" fill="none" stroke="#000"/>
<text x="1363.7" y="2071.8" font-size="62" textLength="232.2" lengthAdjust="spacingAndGlyphs">Baseline</text>
<text x="1629.8" y="2071.8" font-size="62" textLength="325.3" lengthAdjust="spacingAndGlyphs">Punishment</text>
</g>
<g id="pc">
<text x="1914.2" y="117.8" font-size="87" font-weight="bold" textLength="57.9" lengthAdjust="spacingAndGlyphs" stroke="#000" stroke-width="4" stroke-linejoin="miter">c</text>
<path d="M2078.7 232.4L2078.7 393.3" stroke-width="6.3" fill="none" stroke="#000"/>
<path d="M2057.6 390H2078M2057.6 345.7H2078M2057.6 301.5H2078M2057.6 257.2H2078" stroke="#000" stroke-width="6.6" fill="none"/>
<path d="M2072.4 367.9H2078M2072.4 323.6H2078M2072.4 279.3H2078M2072.4 235H2078" stroke="#000" stroke-width="5.2" fill="none"/>
<text x="2046.8" y="281.1" font-size="62" text-anchor="end" textLength="67.2" lengthAdjust="spacingAndGlyphs">30</text>
<text x="2046.8" y="406.5" font-size="62" text-anchor="end" textLength="33.6" lengthAdjust="spacingAndGlyphs">0</text>
<text x="2091.7" y="252.6" font-size="62" textLength="64.7" lengthAdjust="spacingAndGlyphs">B1</text>
<path d="M2112.2 388.9L2597.9 388.9" stroke-width="3.6" fill="none" stroke="#000"/>
<rect x="2385.1" y="387.2" width="30.2" height="1.7" fill="#676767" stroke="#000" stroke-width="3.4"/>
<rect x="2415.3" y="382.9" width="30.2" height="6" fill="#5E5E5E" stroke="#000" stroke-width="3.4"/>
<rect x="2445.5" y="347.1" width="30.2" height="41.8" fill="#484848" stroke="#000" stroke-width="3.4"/>
<rect x="2475.6" y="303.2" width="30.2" height="85.7" fill="#3C3C3C" stroke="#000" stroke-width="3.4"/>
<rect x="2505.8" y="307.3" width="30.2" height="81.6" fill="#333333" stroke="#000" stroke-width="3.4"/>
<rect x="2535.9" y="254.3" width="30.2" height="134.5" fill="#1E1E1E" stroke="#000" stroke-width="3.4"/>
<rect x="2564.4" y="283" width="33.6" height="107.6" fill="#000"/>
<path d="M2078.7 478.5L2078.7 639.6" stroke-width="6.3" fill="none" stroke="#000"/>
<path d="M2057.6 636.3H2078M2057.6 592H2078M2057.6 547.8H2078M2057.6 503.5H2078" stroke="#000" stroke-width="6.6" fill="none"/>
<path d="M2072.4 614.2H2078M2072.4 569.9H2078M2072.4 525.6H2078M2072.4 481.1H2078" stroke="#000" stroke-width="5.2" fill="none"/>
<text x="2046.8" y="528.3" font-size="62" text-anchor="end" textLength="67.2" lengthAdjust="spacingAndGlyphs">30</text>
<text x="2046.8" y="654.2" font-size="62" text-anchor="end" textLength="33.6" lengthAdjust="spacingAndGlyphs">0</text>
<text x="2091.7" y="502" font-size="62" textLength="67.2" lengthAdjust="spacingAndGlyphs">B2</text>
<path d="M2112.2 634.9L2597.9 634.9" stroke-width="3.6" fill="none" stroke="#000"/>
<rect x="2415.3" y="623.8" width="30.2" height="11.1" fill="#5E5E5E" stroke="#000" stroke-width="3.4"/>
<rect x="2445.5" y="601.7" width="30.2" height="33.2" fill="#484848" stroke="#000" stroke-width="3.4"/>
<rect x="2475.6" y="584.9" width="30.2" height="50.1" fill="#3C3C3C" stroke="#000" stroke-width="3.4"/>
<rect x="2505.8" y="492.1" width="30.2" height="142.8" fill="#333333" stroke="#000" stroke-width="3.4"/>
<rect x="2535.9" y="513.9" width="30.2" height="121" fill="#1E1E1E" stroke="#000" stroke-width="3.4"/>
<rect x="2564.4" y="556.1" width="33.6" height="80.6" fill="#000"/>
<path d="M2078.7 722.5L2078.7 883.4" stroke-width="6.3" fill="none" stroke="#000"/>
<path d="M2057.6 880.1H2078M2057.6 835.9H2078M2057.6 791.6H2078M2057.6 747.3H2078" stroke="#000" stroke-width="6.6" fill="none"/>
<path d="M2072.4 858H2078M2072.4 813.7H2078M2072.4 769.4H2078M2072.4 725.1H2078" stroke="#000" stroke-width="5.2" fill="none"/>
<text x="2046.8" y="775.5" font-size="62" text-anchor="end" textLength="67.2" lengthAdjust="spacingAndGlyphs">30</text>
<text x="2046.8" y="901.9" font-size="62" text-anchor="end" textLength="33.6" lengthAdjust="spacingAndGlyphs">0</text>
<text x="2091.7" y="751.4" font-size="62" textLength="67.2" lengthAdjust="spacingAndGlyphs">B3</text>
<path d="M2112.2 879L2597.9 879" stroke-width="3.6" fill="none" stroke="#000"/>
<rect x="2445.5" y="863.8" width="30.2" height="15.2" fill="#484848" stroke="#000" stroke-width="3.4"/>
<rect x="2475.6" y="780.1" width="30.2" height="98.9" fill="#3C3C3C" stroke="#000" stroke-width="3.4"/>
<rect x="2505.8" y="758" width="30.2" height="121" fill="#333333" stroke="#000" stroke-width="3.4"/>
<rect x="2535.9" y="749" width="30.2" height="130" fill="#1E1E1E" stroke="#000" stroke-width="3.4"/>
<rect x="2564.4" y="809.2" width="33.6" height="71.6" fill="#000"/>
<path d="M2078.7 978.5L2078.7 1139.6" stroke-width="6.3" fill="none" stroke="#000"/>
<path d="M2057.6 1136.3H2078M2057.6 1092H2078M2057.6 1047.8H2078M2057.6 1003.5H2078" stroke="#000" stroke-width="6.6" fill="none"/>
<path d="M2072.4 1114.2H2078M2072.4 1069.9H2078M2072.4 1025.6H2078M2072.4 981.1H2078" stroke="#000" stroke-width="5.2" fill="none"/>
<text x="2046.8" y="1022.7" font-size="62" text-anchor="end" textLength="67.2" lengthAdjust="spacingAndGlyphs">30</text>
<text x="2046.8" y="1149.6" font-size="62" text-anchor="end" textLength="33.6" lengthAdjust="spacingAndGlyphs">0</text>
<text x="2091.7" y="1000.8" font-size="62" textLength="64.7" lengthAdjust="spacingAndGlyphs">P1</text>
<path d="M2112.2 1134.9L2596.2 1134.9" stroke-width="3.6" fill="none" stroke="#000"/>
<rect x="2113.7" y="1123.8" width="30.2" height="11.1" fill="#F0F0F0" stroke="#000" stroke-width="3.4"/>
<rect x="2143.9" y="1115.3" width="30.2" height="19.7" fill="#E6E6E6" stroke="#000" stroke-width="3.4"/>
<rect x="2174" y="1088.9" width="30.2" height="46" fill="#DCDCDC" stroke="#000" stroke-width="3.4"/>
<rect x="2204.2" y="1084" width="30.2" height="51" fill="#D3D3D3" stroke="#000" stroke-width="3.4"/>
<rect x="2234.3" y="1119.3" width="30.2" height="15.6" fill="#C0C0C0" stroke="#000" stroke-width="3.4"/>
<rect x="2264.5" y="1115.3" width="30.2" height="19.7" fill="#ABABAB" stroke="#000" stroke-width="3.4"/>
<rect x="2294.7" y="1111" width="30.2" height="24" fill="#999999" stroke="#000" stroke-width="3.4"/>
<rect x="2324.8" y="1093" width="30.2" height="42" fill="#858585" stroke="#000" stroke-width="3.4"/>
<rect x="2355" y="1115.3" width="30.2" height="19.7" fill="#767676" stroke="#000" stroke-width="3.4"/>
<rect x="2385.1" y="1071.4" width="30.2" height="63.6" fill="#676767" stroke="#000" stroke-width="3.4"/>
<rect x="2415.3" y="1097.2" width="30.2" height="37.7" fill="#5E5E5E" stroke="#000" stroke-width="3.4"/>
<rect x="2445.5" y="1093" width="30.2" height="42" fill="#484848" stroke="#000" stroke-width="3.4"/>
<rect x="2475.6" y="1111" width="30.2" height="24" fill="#3C3C3C" stroke="#000" stroke-width="3.4"/>
<rect x="2505.8" y="1119.3" width="30.2" height="15.6" fill="#333333" stroke="#000" stroke-width="3.4"/>
<rect x="2535.9" y="1119.3" width="30.2" height="15.6" fill="#1E1E1E" stroke="#000" stroke-width="3.4"/>
<path d="M2078.7 1226.2L2078.7 1387.3" stroke-width="6.3" fill="none" stroke="#000"/>
<path d="M2057.6 1384H2078M2057.6 1339.8H2078M2057.6 1295.5H2078M2057.6 1251.2H2078" stroke="#000" stroke-width="6.6" fill="none"/>
<path d="M2072.4 1361.9H2078M2072.4 1317.6H2078M2072.4 1273.4H2078M2072.4 1228.8H2078" stroke="#000" stroke-width="5.2" fill="none"/>
<text x="2046.8" y="1269.9" font-size="62" text-anchor="end" textLength="67.2" lengthAdjust="spacingAndGlyphs">30</text>
<text x="2046.8" y="1397.3" font-size="62" text-anchor="end" textLength="33.6" lengthAdjust="spacingAndGlyphs">0</text>
<text x="2091.7" y="1250.2" font-size="62" textLength="67.2" lengthAdjust="spacingAndGlyphs">P2</text>
<path d="M2112.2 1382.9L2596.2 1382.9" stroke-width="3.6" fill="none" stroke="#000"/>
<rect x="2113.7" y="1284.2" width="30.2" height="98.7" fill="#F0F0F0" stroke="#000" stroke-width="3.4"/>
<rect x="2143.9" y="1350.2" width="30.2" height="32.7" fill="#E6E6E6" stroke="#000" stroke-width="3.4"/>
<rect x="2174" y="1354.9" width="30.2" height="28" fill="#DCDCDC" stroke="#000" stroke-width="3.4"/>
<rect x="2204.2" y="1364.1" width="30.2" height="18.8" fill="#D3D3D3" stroke="#000" stroke-width="3.4"/>
<rect x="2234.3" y="1377.6" width="30.2" height="5.3" fill="#C0C0C0" stroke="#000" stroke-width="3.4"/>
<rect x="2264.5" y="1346.1" width="30.2" height="36.8" fill="#ABABAB" stroke="#000" stroke-width="3.4"/>
<rect x="2294.7" y="1346.1" width="30.2" height="36.8" fill="#999999" stroke="#000" stroke-width="3.4"/>
<rect x="2324.8" y="1337.1" width="30.2" height="45.8" fill="#858585" stroke="#000" stroke-width="3.4"/>
<rect x="2355" y="1323.8" width="30.2" height="59.1" fill="#767676" stroke="#000" stroke-width="3.4"/>
<rect x="2385.1" y="1368.2" width="30.2" height="14.7" fill="#676767" stroke="#000" stroke-width="3.4"/>
<rect x="2445.5" y="1346.1" width="30.2" height="36.8" fill="#484848" stroke="#000" stroke-width="3.4"/>
<rect x="2475.6" y="1372" width="30.2" height="10.9" fill="#3C3C3C" stroke="#000" stroke-width="3.4"/>
<rect x="2505.8" y="1364.1" width="30.2" height="18.8" fill="#333333" stroke="#000" stroke-width="3.4"/>
<path d="M2078.7 1475.3L2078.7 1636.2" stroke-width="6.3" fill="none" stroke="#000"/>
<path d="M2057.6 1632.9H2078M2057.6 1588.6H2078M2057.6 1544.3H2078M2057.6 1500.1H2078" stroke="#000" stroke-width="6.6" fill="none"/>
<path d="M2072.4 1610.7H2078M2072.4 1566.5H2078M2072.4 1522.2H2078M2072.4 1477.9H2078" stroke="#000" stroke-width="5.2" fill="none"/>
<text x="2046.8" y="1517.1" font-size="62" text-anchor="end" textLength="67.2" lengthAdjust="spacingAndGlyphs">30</text>
<text x="2046.8" y="1645" font-size="62" text-anchor="end" textLength="33.6" lengthAdjust="spacingAndGlyphs">0</text>
<text x="2091.7" y="1499.6" font-size="62" textLength="67.2" lengthAdjust="spacingAndGlyphs">P3</text>
<path d="M2112.2 1631.7L2596.2 1631.7" stroke-width="3.6" fill="none" stroke="#000"/>
<rect x="2113.7" y="1546.1" width="30.2" height="85.7" fill="#F0F0F0" stroke="#000" stroke-width="3.4"/>
<rect x="2143.9" y="1590.2" width="30.2" height="41.5" fill="#E6E6E6" stroke="#000" stroke-width="3.4"/>
<rect x="2174" y="1594" width="30.2" height="37.7" fill="#DCDCDC" stroke="#000" stroke-width="3.4"/>
<rect x="2204.2" y="1625.1" width="30.2" height="6.6" fill="#D3D3D3" stroke="#000" stroke-width="3.4"/>
<rect x="2234.3" y="1625.1" width="30.2" height="6.6" fill="#C0C0C0" stroke="#000" stroke-width="3.4"/>
<rect x="2294.7" y="1616.1" width="30.2" height="15.6" fill="#999999" stroke="#000" stroke-width="3.4"/>
<rect x="2324.8" y="1599" width="30.2" height="32.7" fill="#858585" stroke="#000" stroke-width="3.4"/>
<rect x="2355" y="1581" width="30.2" height="50.8" fill="#767676" stroke="#000" stroke-width="3.4"/>
<rect x="2385.1" y="1594" width="30.2" height="37.7" fill="#676767" stroke="#000" stroke-width="3.4"/>
<rect x="2415.3" y="1594" width="30.2" height="37.7" fill="#5E5E5E" stroke="#000" stroke-width="3.4"/>
<rect x="2445.5" y="1599" width="30.2" height="32.7" fill="#484848" stroke="#000" stroke-width="3.4"/>
<rect x="2475.6" y="1599" width="30.2" height="32.7" fill="#3C3C3C" stroke="#000" stroke-width="3.4"/>
<rect x="2505.8" y="1608.2" width="30.2" height="23.5" fill="#333333" stroke="#000" stroke-width="3.4"/>
<rect x="2535.9" y="1625.1" width="30.2" height="6.6" fill="#1E1E1E" stroke="#000" stroke-width="3.4"/>
<path d="M2078.7 1723.6L2078.7 1884.1" stroke-width="6.3" fill="none" stroke="#000"/>
<path d="M2057.6 1880.8H2078M2057.6 1836.5H2078M2057.6 1792.3H2078M2057.6 1748H2078" stroke="#000" stroke-width="6.6" fill="none"/>
<path d="M2072.4 1858.7H2078M2072.4 1814.4H2078M2072.4 1770.1H2078M2072.4 1726.2H2078" stroke="#000" stroke-width="5.2" fill="none"/>
<text x="2046.8" y="1764.3" font-size="62" text-anchor="end" textLength="67.2" lengthAdjust="spacingAndGlyphs">30</text>
<text x="2046.8" y="1892.7" font-size="62" text-anchor="end" textLength="33.6" lengthAdjust="spacingAndGlyphs">0</text>
<text x="2091.7" y="1749" font-size="62" textLength="67.2" lengthAdjust="spacingAndGlyphs">P4</text>
<path d="M2112.2 1879.4L2597.9 1879.4" stroke-width="3.6" fill="none" stroke="#000"/>
<rect x="2113.7" y="1790.2" width="30.2" height="89.3" fill="#F0F0F0" stroke="#000" stroke-width="3.4"/>
<rect x="2143.9" y="1834.1" width="30.2" height="45.4" fill="#E6E6E6" stroke="#000" stroke-width="3.4"/>
<rect x="2174" y="1847.4" width="30.2" height="32.1" fill="#DCDCDC" stroke="#000" stroke-width="3.4"/>
<rect x="2234.3" y="1873.9" width="30.2" height="5.5" fill="#C0C0C0" stroke="#000" stroke-width="3.4"/>
<rect x="2324.8" y="1861.1" width="30.2" height="18.3" fill="#858585" stroke="#000" stroke-width="3.4"/>
<rect x="2355" y="1865.4" width="30.2" height="14.1" fill="#767676" stroke="#000" stroke-width="3.4"/>
<rect x="2385.1" y="1852.1" width="30.2" height="27.3" fill="#676767" stroke="#000" stroke-width="3.4"/>
<rect x="2415.3" y="1830" width="30.2" height="49.4" fill="#5E5E5E" stroke="#000" stroke-width="3.4"/>
<rect x="2445.5" y="1825.1" width="30.2" height="54.4" fill="#484848" stroke="#000" stroke-width="3.4"/>
<rect x="2475.6" y="1839" width="30.2" height="40.4" fill="#3C3C3C" stroke="#000" stroke-width="3.4"/>
<rect x="2505.8" y="1852.1" width="30.2" height="27.3" fill="#333333" stroke="#000" stroke-width="3.4"/>
<rect x="2535.9" y="1865.4" width="30.2" height="14.1" fill="#1E1E1E" stroke="#000" stroke-width="3.4"/>
<rect x="2564.4" y="1872.2" width="33.6" height="9" fill="#000"/>
<path d="M2108.3 1898.6L2658.4 1898.6" stroke-width="6.9" fill="none" stroke="#000"/>
<path d="M2111.4 1898.6V1923M2220.3 1898.6V1923M2329.4 1898.6V1923M2439.1 1898.6V1923M2548.2 1898.6V1923M2655.2 1898.6V1923" stroke="#000" stroke-width="6.2" fill="none"/>
<text x="2111" y="1973.4" font-size="62" text-anchor="middle" textLength="33.6" lengthAdjust="spacingAndGlyphs">0</text>
<text x="2220" y="1973.4" font-size="62" text-anchor="middle" textLength="82.7" lengthAdjust="spacingAndGlyphs">0.5</text>
<text x="2327" y="1973.4" font-size="62" text-anchor="middle" textLength="82.7" lengthAdjust="spacingAndGlyphs">1.0</text>
<text x="2435" y="1973.4" font-size="62" text-anchor="middle" textLength="82.7" lengthAdjust="spacingAndGlyphs">1.5</text>
<text x="2545" y="1973.4" font-size="62" text-anchor="middle" textLength="82.7" lengthAdjust="spacingAndGlyphs">2.0</text>
<text x="2657" y="1973.4" font-size="62" text-anchor="middle" textLength="84.7" lengthAdjust="spacingAndGlyphs">2.5</text>
<text x="2232.5" y="2052.8" font-size="62" textLength="294.9" lengthAdjust="spacingAndGlyphs">LS per min</text>
<text x="1951.4" y="1284.3" font-size="62" textLength="442.1" lengthAdjust="spacingAndGlyphs" transform="rotate(-90 1951.4 1284.3)">Number of mice</text>
</g>
<g id="pd">
<text x="2642.3" y="118.4" font-size="87" font-weight="bold" textLength="63.7" lengthAdjust="spacingAndGlyphs" stroke="#000" stroke-width="4" stroke-linejoin="miter">d</text>
<g fill="#000"><circle cx="3078.7" cy="256" r="10"/><circle cx="3042.9" cy="277.5" r="10"/><circle cx="3010" cy="290.8" r="10"/><circle cx="3031.8" cy="320.8" r="10"/><circle cx="3153.7" cy="278.1" r="10"/><circle cx="3179" cy="303.4" r="10"/><circle cx="3205" cy="303.4" r="10"/><circle cx="3201.2" cy="330.7" r="10"/><circle cx="3084.1" cy="309.8" r="10"/><circle cx="3137.2" cy="289.2" r="10"/><circle cx="3129.3" cy="282.9" r="10"/><circle cx="3115.1" cy="318.3" r="10"/><circle cx="3113.5" cy="335.1" r="10"/><circle cx="3092.9" cy="339.8" r="10"/><circle cx="3066.7" cy="347.8" r="10"/><circle cx="3153.7" cy="359.1" r="10"/><circle cx="3162.6" cy="369.9" r="10"/><circle cx="3173.6" cy="368.3" r="10"/><circle cx="3073.9" cy="396.8" r="10"/><circle cx="3104" cy="413.6" r="10"/><circle cx="3104" cy="430" r="10"/><circle cx="3130.9" cy="429.1" r="10"/><circle cx="3145.2" cy="434.2" r="10"/><circle cx="3189.8" cy="415.8" r="10"/><circle cx="3162.6" cy="407.9" r="10"/><circle cx="3168.9" cy="398.4" r="10"/><circle cx="3084.1" cy="444.3" r="10"/><circle cx="3092.9" cy="449.7" r="10"/><circle cx="3157.8" cy="455.4" r="10"/><circle cx="3165.1" cy="453.8" r="10"/><circle cx="3037.5" cy="471.8" r="10"/><circle cx="3108.1" cy="467.4" r="10"/><circle cx="3129.3" cy="472.8" r="10"/><circle cx="3124.6" cy="486.1" r="10"/><circle cx="3113.5" cy="491.8" r="10"/><circle cx="3075.5" cy="500.6" r="10"/><circle cx="3148" cy="500.6" r="10"/><circle cx="3079.3" cy="539.9" r="10"/><rect x="3113.1" y="265.7" width="21" height="21"/><rect x="3004.3" y="295.5" width="21" height="21"/><rect x="3110" y="297.7" width="21" height="21"/><rect x="3139.4" y="297.4" width="21" height="21"/><rect x="3072.9" y="312.6" width="21" height="21"/><rect x="3092.9" y="330.9" width="21" height="21"/><rect x="3160.9" y="330.9" width="21" height="21"/><rect x="3156.8" y="337.3" width="21" height="21"/><rect x="3049.8" y="349" width="21" height="21"/><rect x="3074.5" y="352.4" width="21" height="21"/><rect x="3095.7" y="355" width="21" height="21"/><rect x="3118.2" y="354" width="21" height="21"/><rect x="3125.2" y="362.6" width="21" height="21"/><rect x="3120.4" y="367.3" width="21" height="21"/><rect x="3076.1" y="368.3" width="21" height="21"/><rect x="3064.1" y="380" width="21" height="21"/><rect x="3165.4" y="368.9" width="21" height="21"/><rect x="3160" y="380" width="21" height="21"/><rect x="3167.3" y="390.4" width="21" height="21"/><rect x="3078.6" y="408.5" width="21" height="21"/><rect x="3088.8" y="408.5" width="21" height="21"/><rect x="3107.8" y="408.5" width="21" height="21"/><rect x="3148.3" y="406.9" width="21" height="21"/><rect x="3143.5" y="441.7" width="21" height="21"/><rect x="3085" y="467.7" width="21" height="21"/><rect x="3095.7" y="492.3" width="21" height="21"/><rect x="3104.9" y="514.5" width="21" height="21"/></g>
<g fill="none" stroke="#000" stroke-width="3.5"><circle cx="3089.1" cy="648.4" r="8"/><circle cx="3092" cy="665.8" r="8"/><circle cx="3055.7" cy="687.1" r="8"/><circle cx="3119.3" cy="687.1" r="8"/><circle cx="3173.5" cy="707.3" r="8"/><circle cx="3055" cy="727.9" r="8"/><circle cx="3053.5" cy="745.8" r="8"/><circle cx="3116.2" cy="733.5" r="8"/><circle cx="3213.6" cy="744.7" r="8"/><circle cx="3038.7" cy="796.8" r="8"/><circle cx="3067.8" cy="793.5" r="8"/><circle cx="3080.8" cy="802.4" r="8"/><circle cx="3102" cy="806.9" r="8"/><circle cx="3111" cy="800.2" r="8"/><circle cx="3117.7" cy="796.8" r="8"/><circle cx="3126.7" cy="794.6" r="8"/><circle cx="3131.2" cy="777.8" r="8"/><circle cx="3126.7" cy="771.1" r="8"/><circle cx="3111" cy="828.2" r="8"/><circle cx="3075.2" cy="836" r="8"/><circle cx="3159.2" cy="836" r="8"/><circle cx="3134.5" cy="827.1" r="8"/><rect x="3116.8" y="720.9" width="16.6" height="16.6"/><rect x="3107.2" y="744.9" width="16.6" height="16.6"/><rect x="3102.7" y="749.3" width="16.6" height="16.6"/><rect x="3050.5" y="758.3" width="16.6" height="16.6"/><rect x="3164.7" y="750.5" width="16.6" height="16.6"/><rect x="3224.3" y="766.1" width="16.6" height="16.6"/><rect x="3119.9" y="765" width="16.6" height="16.6"/><rect x="3151.5" y="775.1" width="16.6" height="16.6"/><rect x="3077" y="785.2" width="16.6" height="16.6"/><rect x="3096" y="794.1" width="16.6" height="16.6"/><rect x="3126.2" y="787.4" width="16.6" height="16.6"/><rect x="3138.5" y="787.9" width="16.6" height="16.6"/><rect x="3154.2" y="798.6" width="16.6" height="16.6"/><rect x="3041.1" y="809.8" width="16.6" height="16.6"/><rect x="3089.3" y="818.8" width="16.6" height="16.6"/><rect x="3119.5" y="819.9" width="16.6" height="16.6"/><rect x="3127.8" y="817.6" width="16.6" height="16.6"/><rect x="3176.6" y="813.2" width="16.6" height="16.6"/><rect x="3154.2" y="812" width="16.6" height="16.6"/><rect x="3155.8" y="821" width="16.6" height="16.6"/></g>
<ellipse cx="3120.5" cy="383" rx="128.5" ry="194.5" transform="rotate(-4.5 3120.5 383)" fill="none" stroke="#FF42D6" stroke-width="4.6" stroke-dasharray="24 14.6" stroke-dashoffset="6"/>
<ellipse cx="3122" cy="777.5" rx="121.5" ry="130" transform="rotate(-20 3122 777.5)" fill="none" stroke="#08EE10" stroke-width="4.4" stroke-dasharray="21.5 12.4" stroke-dashoffset="4"/>
<path d="M2836.2 241.5L2836.2 837.5" stroke-width="7" fill="none" stroke="#000"/>
<path d="M2819.2 834.4H2836.5M2819.2 716.4H2836.5M2819.2 598.5H2836.5M2819.2 480.5H2836.5M2819.2 362.6H2836.5M2819.2 244.6H2836.5" stroke="#000" stroke-width="6.9" fill="none"/>
<text x="2806.6" y="850.6" font-size="62" text-anchor="end" textLength="33.6" lengthAdjust="spacingAndGlyphs">0</text>
<text x="2806.6" y="732.8" font-size="62" text-anchor="end" textLength="65.7" lengthAdjust="spacingAndGlyphs">20</text>
<text x="2806.6" y="615.1" font-size="62" text-anchor="end" textLength="65.7" lengthAdjust="spacingAndGlyphs">40</text>
<text x="2806.6" y="497.3" font-size="62" text-anchor="end" textLength="65.7" lengthAdjust="spacingAndGlyphs">60</text>
<text x="2806.6" y="379.6" font-size="62" text-anchor="end" textLength="65.7" lengthAdjust="spacingAndGlyphs">80</text>
<text x="2806.6" y="261.8" font-size="62" text-anchor="end" textLength="99" lengthAdjust="spacingAndGlyphs">100</text>
<text x="2690.3" y="768.4" font-size="62" textLength="482.2" lengthAdjust="spacingAndGlyphs" transform="rotate(-90 2690.3 768.4)">Perseverance (%)</text>
<path d="M2858.8 913.3L3284.5 913.3" stroke-width="7" fill="none" stroke="#000"/>
<path d="M2861.9 913.3V953M2931.8 913.3V937M3001.7 913.3V953M3071.6 913.3V937M3141.5 913.3V953M3211.4 913.3V937M3281.3 913.3V953" stroke="#000" stroke-width="6.9" fill="none"/>
<text x="2863" y="1007.2" font-size="62" text-anchor="middle" textLength="22.6" lengthAdjust="spacingAndGlyphs">1</text>
<text x="3001.2" y="1007.2" font-size="62" text-anchor="middle" textLength="80.7" lengthAdjust="spacingAndGlyphs">1.5</text>
<text x="3141.1" y="1007.2" font-size="62" text-anchor="middle" textLength="33.6" lengthAdjust="spacingAndGlyphs">2</text>
<text x="3284" y="1007.2" font-size="62" text-anchor="middle" textLength="84.7" lengthAdjust="spacingAndGlyphs">2.5</text>
<text x="2896.5" y="171.4" font-size="62" textLength="245.7" lengthAdjust="spacingAndGlyphs">Cluster 2</text>
<text x="2857.1" y="625.7" font-size="62" textLength="239.3" lengthAdjust="spacingAndGlyphs">Cluster 1</text>
<text x="2901.6" y="1071.4" font-size="62" textLength="353" lengthAdjust="spacingAndGlyphs">Baseline rate</text>
<text x="2911.5" y="1135.7" font-size="62" textLength="330.6" lengthAdjust="spacingAndGlyphs">(LS per min)</text>
<circle cx="3165.1" cy="1460.1" r="199" fill="#000"/><path d="M3166.7 1460.1L3166.7 1266.3A193.8 193.8 0 0 1 3305.5 1593.7Z" fill="#fff"/>
<circle cx="3169.2" cy="1892" r="197.6" fill="#000"/><path d="M3170.8 1892L3170.8 1699.6A192.4 192.4 0 0 1 3255.5 2064Z" fill="#fff"/>
<text x="3194.6" y="1397.8" font-size="62" textLength="122.2" lengthAdjust="spacingAndGlyphs">Cl. 1</text>
<text x="3178.7" y="1460" font-size="62" textLength="176.2" lengthAdjust="spacingAndGlyphs">37.1%</text>
<text x="3011.2" y="1476.7" font-size="62" textLength="127.2" lengthAdjust="spacingAndGlyphs" fill="#fff">Cl. 2</text>
<text x="2996.7" y="1541" font-size="62" textLength="177.7" lengthAdjust="spacingAndGlyphs" fill="#fff">62.9%</text>
<text x="3200.7" y="1840.7" font-size="62" textLength="119.7" lengthAdjust="spacingAndGlyphs">Cl. 1</text>
<text x="3182.1" y="1907.8" font-size="62" textLength="176.2" lengthAdjust="spacingAndGlyphs">42.6%</text>
<text x="3019.5" y="1927.2" font-size="62" textLength="125.7" lengthAdjust="spacingAndGlyphs" fill="#fff">Cl. 2</text>
<text x="3010.5" y="1992.9" font-size="62" textLength="176.2" lengthAdjust="spacingAndGlyphs" fill="#fff">57.4%</text>
<text x="2747.5" y="1432.4" font-size="62" textLength="200.6" lengthAdjust="spacingAndGlyphs">Female</text>
<text x="2743" y="1516.8" font-size="62" textLength="205" lengthAdjust="spacingAndGlyphs">(<tspan font-style="italic">n</tspan> = 62)</text>
<text x="2786.3" y="1817.9" font-size="62" textLength="131.9" lengthAdjust="spacingAndGlyphs">Male</text>
<text x="2750" y="1890.5" font-size="62" textLength="203" lengthAdjust="spacingAndGlyphs">(<tspan font-style="italic">n</tspan> = 47)</text>
</g>
<g id="pe">
<text x="3363" y="118.4" font-size="87" font-weight="bold" textLength="60.2" lengthAdjust="spacingAndGlyphs" stroke="#000" stroke-width="4" stroke-linejoin="miter">e</text>
<path d="M3583.9 237.6L3583.9 835.8" stroke-width="7" fill="none" stroke="#000"/>
<path d="M3558.8 832.3H3584M3558.8 714.1H3584M3558.8 595.8H3584M3558.8 477.6H3584M3558.8 359.3H3584M3558.8 241.1H3584" stroke="#000" stroke-width="6.9" fill="none"/>
<text x="3547.5" y="848.5" font-size="62" text-anchor="end" textLength="33.6" lengthAdjust="spacingAndGlyphs">0</text>
<text x="3547.5" y="730.3" font-size="62" text-anchor="end" textLength="65.7" lengthAdjust="spacingAndGlyphs">20</text>
<text x="3547.5" y="612" font-size="62" text-anchor="end" textLength="65.7" lengthAdjust="spacingAndGlyphs">40</text>
<text x="3547.5" y="493.8" font-size="62" text-anchor="end" textLength="65.7" lengthAdjust="spacingAndGlyphs">60</text>
<text x="3547.5" y="375.5" font-size="62" text-anchor="end" textLength="65.7" lengthAdjust="spacingAndGlyphs">80</text>
<text x="3547.5" y="257.3" font-size="62" text-anchor="end" textLength="99.2" lengthAdjust="spacingAndGlyphs">100</text>
<text x="3409.3" y="767.5" font-size="62" textLength="481.1" lengthAdjust="spacingAndGlyphs" transform="rotate(-90 3409.3 767.5)">Perseverance (%)</text>
<g fill="#000"><circle cx="3698.5" cy="251.7" r="10"/><circle cx="3740" cy="273.8" r="10"/><circle cx="3730.3" cy="286.8" r="10"/><circle cx="3743.3" cy="288.4" r="10"/><circle cx="3715.1" cy="299.8" r="10"/><circle cx="3715.7" cy="314.4" r="10"/><circle cx="3746.5" cy="318.3" r="10"/><circle cx="3696.2" cy="331.2" r="10"/><circle cx="3722.2" cy="337.1" r="10"/><circle cx="3727.1" cy="346.8" r="10"/><circle cx="3733.6" cy="356.5" r="10"/><circle cx="3770.2" cy="328" r="10"/><circle cx="3800.1" cy="300.7" r="10"/><circle cx="3807.2" cy="302" r="10"/><circle cx="3835.7" cy="306.9" r="10"/><circle cx="3919.4" cy="365.3" r="10"/><circle cx="3731.9" cy="411.7" r="10"/><circle cx="3740" cy="409.4" r="10"/><circle cx="3767.6" cy="406.8" r="10"/><circle cx="3768.6" cy="427.3" r="10"/><circle cx="3715.7" cy="441.8" r="10"/><circle cx="3736.2" cy="450.6" r="10"/><circle cx="3709.2" cy="464.6" r="10"/><circle cx="3696.9" cy="497.6" r="10"/><circle cx="3812.4" cy="447.4" r="10"/><circle cx="3809.1" cy="453.9" r="10"/><circle cx="3815.3" cy="468.4" r="10"/><circle cx="3814" cy="483" r="10"/><circle cx="3801.7" cy="497.6" r="10"/><circle cx="3863.3" cy="426.3" r="10"/><circle cx="3858.4" cy="470.1" r="10"/><circle cx="3866.9" cy="489.5" r="10"/><rect x="3746.4" y="263.3" width="21" height="21"/><rect x="3681.9" y="294.1" width="21" height="21"/><rect x="3721.4" y="290.9" width="21" height="21"/><rect x="3760.4" y="293.5" width="21" height="21"/><rect x="3788.9" y="309.4" width="21" height="21"/><rect x="3799.3" y="327.5" width="21" height="21"/><rect x="3808.4" y="328.2" width="21" height="21"/><rect x="3762.6" y="346" width="21" height="21"/><rect x="3759.7" y="350.9" width="21" height="21"/><rect x="3800.9" y="350.9" width="21" height="21"/><rect x="3708.5" y="363.9" width="21" height="21"/><rect x="3721.4" y="364.5" width="21" height="21"/><rect x="3732.8" y="360" width="21" height="21"/><rect x="3729.5" y="367.1" width="21" height="21"/><rect x="3688" y="380.1" width="21" height="21"/><rect x="3759.7" y="377.5" width="21" height="21"/><rect x="3764.3" y="388.2" width="21" height="21"/><rect x="3681.9" y="403.8" width="21" height="21"/><rect x="3852.8" y="405.4" width="21" height="21"/><rect x="3706.2" y="465.1" width="21" height="21"/><rect x="3796" y="490.4" width="21" height="21"/><rect x="3754.8" y="510.8" width="21" height="21"/><rect x="3981" y="355.8" width="21" height="21"/></g>
<g fill="none" stroke="#000" stroke-width="3.5"><circle cx="3713" cy="662.9" r="8"/><circle cx="3739.9" cy="684.4" r="8"/><circle cx="3774.4" cy="684.4" r="8"/><circle cx="3812" cy="704.6" r="8"/><circle cx="3696.2" cy="724.7" r="8"/><circle cx="3812" cy="742.7" r="8"/><circle cx="3865.8" cy="729.7" r="8"/><circle cx="3864.7" cy="742" r="8"/><circle cx="3715.7" cy="774.5" r="8"/><circle cx="3682.6" cy="793.5" r="8"/><circle cx="3695.6" cy="799.1" r="8"/><circle cx="3719.1" cy="796.2" r="8"/><circle cx="3737" cy="792.4" r="8"/><circle cx="3749.3" cy="789.5" r="8"/><circle cx="3769.5" cy="791.7" r="8"/><circle cx="3774" cy="767.1" r="8"/><circle cx="3700.5" cy="826" r="8"/><circle cx="3738.8" cy="825.3" r="8"/><circle cx="3742.6" cy="833.4" r="8"/><circle cx="3744.8" cy="795.7" r="8"/><rect x="3791.9" y="717.6" width="16.6" height="16.6"/><rect x="3767.9" y="741.5" width="16.6" height="16.6"/><rect x="3763.4" y="747.1" width="16.6" height="16.6"/><rect x="3710.1" y="746.7" width="16.6" height="16.6"/><rect x="3739.9" y="755" width="16.6" height="16.6"/><rect x="3688.4" y="761.7" width="16.6" height="16.6"/><rect x="3870.3" y="763.2" width="16.6" height="16.6"/><rect x="3756.7" y="772.2" width="16.6" height="16.6"/><rect x="3692.2" y="783" width="16.6" height="16.6"/><rect x="3728.7" y="790.8" width="16.6" height="16.6"/><rect x="3859.3" y="796.4" width="16.6" height="16.6"/><rect x="3704.7" y="806.5" width="16.6" height="16.6"/><rect x="3708.6" y="814.8" width="16.6" height="16.6"/><rect x="3701.8" y="818.8" width="16.6" height="16.6"/><rect x="3789.2" y="809.8" width="16.6" height="16.6"/><rect x="3813.8" y="808.7" width="16.6" height="16.6"/><rect x="3805.3" y="818.8" width="16.6" height="16.6"/></g>
<ellipse cx="3757.6" cy="380.5" rx="185.5" ry="195.5" transform="rotate(-25 3757.6 380.5)" fill="none" stroke="#FF42D6" stroke-width="4.6" stroke-dasharray="24 14.6" stroke-dashoffset="0"/>
<ellipse cx="3743.7" cy="774.3" rx="176.5" ry="128.5" transform="rotate(-9 3743.7 774.3)" fill="none" stroke="#08EE10" stroke-width="4.4" stroke-dasharray="21.5 12.4" stroke-dashoffset="0"/>
<path d="M3634.5 910.9L4060.8 910.9" stroke-width="7" fill="none" stroke="#000"/>
<path d="M3637.6 910.9V950.6M3707.5 910.9V933.5M3777.4 910.9V950.6M3847.3 910.9V933.5M3917.2 910.9V950.6M3987.1 910.9V933.5M4057 910.9V950.6" stroke="#000" stroke-width="6.9" fill="none"/>
<text x="3637.6" y="1007.3" font-size="62" text-anchor="middle" textLength="33.6" lengthAdjust="spacingAndGlyphs">0</text>
<text x="3682.2" y="1007.3" font-size="62" textLength="149.1" lengthAdjust="spacingAndGlyphs">1,000</text>
<text x="3857.7" y="1007.3" font-size="62" textLength="152.5" lengthAdjust="spacingAndGlyphs">2,000</text>
<text x="4032.7" y="1007.3" font-size="62" textLength="152" lengthAdjust="spacingAndGlyphs">3,000</text>
<text x="3516.7" y="1074" font-size="62" textLength="651.6" lengthAdjust="spacingAndGlyphs">Cumulative active press</text>
<text x="3819" y="183.9" font-size="62" textLength="245.7" lengthAdjust="spacingAndGlyphs">Cluster 2</text>
<text x="3868.6" y="667.8" font-size="62" textLength="240.3" lengthAdjust="spacingAndGlyphs">Cluster 1</text>
</g>
<g id="pf">
<text x="3438.9" y="1323.5" font-size="87" font-weight="bold" textLength="31.8" lengthAdjust="spacingAndGlyphs" stroke="#000" stroke-width="4" stroke-linejoin="miter">f</text>
<path d="M3638.6 1357.9L3638.6 1917.5" stroke-width="7" fill="none" stroke="#000"/>
<path d="M3611 1914.4H3639M3611 1803.7H3639M3611 1693H3639M3611 1582.4H3639M3611 1471.7H3639M3611 1361H3639" stroke="#000" stroke-width="6.9" fill="none"/>
<text x="3595.8" y="1928.1" font-size="62" text-anchor="end" textLength="33.6" lengthAdjust="spacingAndGlyphs">0</text>
<text x="3595.8" y="1818.8" font-size="62" text-anchor="end" textLength="81.7" lengthAdjust="spacingAndGlyphs">0.5</text>
<text x="3595.8" y="1709.5" font-size="62" text-anchor="end" textLength="81.7" lengthAdjust="spacingAndGlyphs">1.0</text>
<text x="3595.8" y="1600.2" font-size="62" text-anchor="end" textLength="81.7" lengthAdjust="spacingAndGlyphs">1.5</text>
<text x="3595.8" y="1490.9" font-size="62" text-anchor="end" textLength="81.7" lengthAdjust="spacingAndGlyphs">2.0</text>
<text x="3595.8" y="1381.6" font-size="62" text-anchor="end" textLength="81.7" lengthAdjust="spacingAndGlyphs">2.5</text>
<text x="3472.9" y="1804.4" font-size="62" textLength="294.5" lengthAdjust="spacingAndGlyphs" transform="rotate(-90 3472.9 1804.4)">LS per min</text>
<path d="M3826.8 1592.8L3706.4 1489L3826.8 1872.9" fill="none" stroke="#000" stroke-width="6" stroke-linejoin="round"/>
<circle cx="3706.4" cy="1489" r="15.8" fill="#fff" stroke="#000" stroke-width="5.8"/>
<circle cx="3826.8" cy="1592.8" r="18.6" fill="#000"/>
<circle cx="3826.8" cy="1872.9" r="15.8" fill="#fff" stroke="#000" stroke-width="5.8"/>
<circle cx="3833.7" cy="1368" r="14.6" fill="#fff" stroke="#000" stroke-width="5.6"/>
<circle cx="3833.7" cy="1433.7" r="17.4" fill="#000"/>
<text x="3868" y="1386.6" font-size="62" textLength="300.6" lengthAdjust="spacingAndGlyphs">Renouncer</text>
<text x="3868" y="1454.4" font-size="62" textLength="295.2" lengthAdjust="spacingAndGlyphs">Perseverer</text>
<text x="3837.5" y="1558.2" font-size="48" text-anchor="middle">#</text>
<text x="3837.5" y="1830" font-size="48" text-anchor="middle">#</text>
<path d="M3860 1591.4H3884.2V1872.9H3860" fill="none" stroke="#000" stroke-width="2.2"/>
<text x="3902.9" y="1752" font-size="44" text-anchor="middle">*</text>
<text x="3697.8" y="1971.1" font-size="62" text-anchor="middle" textLength="42.6" lengthAdjust="spacingAndGlyphs">B</text>
<text x="3839.2" y="1971.1" font-size="62" text-anchor="middle" textLength="40.6" lengthAdjust="spacingAndGlyphs">P</text>
<text x="3626" y="2032" font-size="62" textLength="130.4" lengthAdjust="spacingAndGlyphs">(2–3)</text>
<text x="3773.3" y="2032" font-size="62" textLength="130.6" lengthAdjust="spacingAndGlyphs">(3–4)</text>
</g>
</svg>
</body></html>
